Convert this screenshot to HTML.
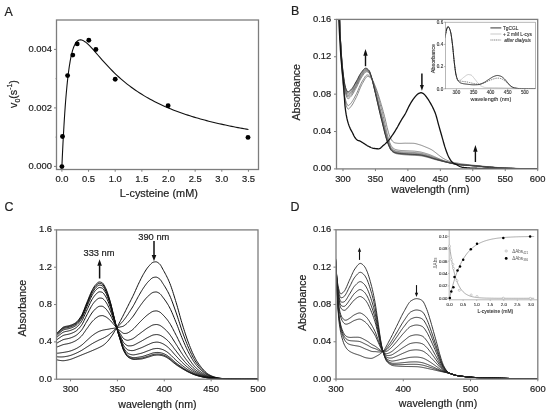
<!DOCTYPE html>
<html><head><meta charset="utf-8"><style>
html,body{margin:0;padding:0;background:#fff;}
body{width:550px;height:415px;overflow:hidden;}
svg{display:block;font-family:"Liberation Sans", sans-serif;filter:blur(0.3px);}
svg{fill:#222;}
svg text.m{stroke:#222;stroke-width:0.2;}
svg text.s{stroke:#333;stroke-width:0.12;}
</style></head><body>
<svg width="550" height="415" viewBox="0 0 550 415">
<rect width="550" height="415" fill="#fff"/>
<g>
<text class="m" x="4.5" y="16.4" font-size="12.4" text-anchor="start">A</text>
<rect x="56.5" y="20" width="202" height="149.5" fill="none" stroke="#7d7d7d" stroke-width="1.3"/>
<line x1="61.9" y1="169.5" x2="61.9" y2="171.7" stroke="#7d7d7d" stroke-width="1"/>
<text class="m" x="61.9" y="182.1" font-size="9.4" text-anchor="middle">0.0</text>
<line x1="88.55" y1="169.5" x2="88.55" y2="171.7" stroke="#7d7d7d" stroke-width="1"/>
<text class="m" x="88.55" y="182.1" font-size="9.4" text-anchor="middle">0.5</text>
<line x1="115.2" y1="169.5" x2="115.2" y2="171.7" stroke="#7d7d7d" stroke-width="1"/>
<text class="m" x="115.2" y="182.1" font-size="9.4" text-anchor="middle">1.0</text>
<line x1="141.85" y1="169.5" x2="141.85" y2="171.7" stroke="#7d7d7d" stroke-width="1"/>
<text class="m" x="141.85" y="182.1" font-size="9.4" text-anchor="middle">1.5</text>
<line x1="168.5" y1="169.5" x2="168.5" y2="171.7" stroke="#7d7d7d" stroke-width="1"/>
<text class="m" x="168.5" y="182.1" font-size="9.4" text-anchor="middle">2.0</text>
<line x1="195.15" y1="169.5" x2="195.15" y2="171.7" stroke="#7d7d7d" stroke-width="1"/>
<text class="m" x="195.15" y="182.1" font-size="9.4" text-anchor="middle">2.5</text>
<line x1="221.8" y1="169.5" x2="221.8" y2="171.7" stroke="#7d7d7d" stroke-width="1"/>
<text class="m" x="221.8" y="182.1" font-size="9.4" text-anchor="middle">3.0</text>
<line x1="248.45" y1="169.5" x2="248.45" y2="171.7" stroke="#7d7d7d" stroke-width="1"/>
<text class="m" x="248.45" y="182.1" font-size="9.4" text-anchor="middle">3.5</text>
<line x1="54" y1="166.4" x2="56.5" y2="166.4" stroke="#7d7d7d" stroke-width="1"/>
<text class="m" x="52" y="169.3" font-size="9.4" text-anchor="end">0.000</text>
<line x1="54" y1="107.9" x2="56.5" y2="107.9" stroke="#7d7d7d" stroke-width="1"/>
<text class="m" x="52" y="110.8" font-size="9.4" text-anchor="end">0.002</text>
<line x1="54" y1="49.4" x2="56.5" y2="49.4" stroke="#7d7d7d" stroke-width="1"/>
<text class="m" x="52" y="52.3" font-size="9.4" text-anchor="end">0.004</text>
<line x1="55.5" y1="137.15" x2="56.5" y2="137.15" stroke="#7d7d7d" stroke-width="0.8"/>
<line x1="55.5" y1="78.65" x2="56.5" y2="78.65" stroke="#7d7d7d" stroke-width="0.8"/>
<text class="m" x="158.8" y="197" font-size="10.9" text-anchor="middle">L-cysteine (mM)</text>
<text class="m" x="17.2" y="94" font-size="10.6" text-anchor="middle" transform="rotate(-90 17.2 94)">v<tspan font-size="7" dy="3.2">0</tspan><tspan dy="-3.2">(s</tspan><tspan font-size="7" dy="-4.8">-1</tspan><tspan dy="4.8">)</tspan></text>
<polyline points="61.9,166.4 62.26,158.28 62.62,150.59 62.98,143.31 63.35,136.44 63.71,129.94 64.07,123.8 64.43,118.01 64.79,112.55 65.15,107.41 65.51,102.56 65.87,98 66.24,93.72 66.6,89.69 66.96,85.9 67.32,82.35 67.68,79.01 68.04,75.89 68.4,72.96 68.77,70.22 69.13,67.66 69.49,65.27 69.85,63.04 70.21,60.95 70.57,59.01 70.93,57.21 71.3,55.53 71.66,53.97 72.02,52.52 72.38,51.19 72.74,49.95 73.1,48.81 73.46,47.77 73.82,46.8 74.19,45.92 74.55,45.12 74.91,44.39 75.27,43.73 75.63,43.13 75.99,42.59 76.35,42.12 76.72,41.69 77.08,41.32 77.44,41 77.8,40.72 78.16,40.49 78.52,40.29 78.88,40.14 79.25,40.02 79.61,39.94 79.97,39.89 80.33,39.87 80.69,39.88 81.05,39.91 81.41,39.97 81.77,40.06 82.14,40.17 82.5,40.3 82.86,40.45 83.22,40.62 85.31,41.93 87.4,43.65 89.49,45.67 91.59,47.88 93.68,50.2 95.77,52.59 97.86,55.01 99.95,57.42 102.04,59.81 104.14,62.16 106.23,64.46 108.32,66.7 110.41,68.89 112.5,71.01 114.59,73.06 116.68,75.05 118.78,76.98 120.87,78.84 122.96,80.64 125.05,82.38 127.14,84.06 129.23,85.68 131.32,87.25 133.42,88.77 135.51,90.23 137.6,91.65 139.69,93.02 141.78,94.34 143.87,95.62 145.97,96.86 148.06,98.06 150.15,99.22 152.24,100.35 154.33,101.44 156.42,102.49 158.51,103.52 160.61,104.51 162.7,105.48 164.79,106.41 166.88,107.32 168.97,108.2 171.06,109.06 173.16,109.9 175.25,110.71 177.34,111.5 179.43,112.26 181.52,113.01 183.61,113.74 185.7,114.45 187.8,115.14 189.89,115.81 191.98,116.46 194.07,117.1 196.16,117.73 198.25,118.33 200.35,118.93 202.44,119.51 204.53,120.07 206.62,120.62 208.71,121.16 210.8,121.69 212.89,122.21 214.99,122.71 217.08,123.2 219.17,123.69 221.26,124.16 223.35,124.62 225.44,125.07 227.53,125.51 229.63,125.94 231.72,126.37 233.81,126.78 235.9,127.19 237.99,127.59 240.08,127.98 242.18,128.36 244.27,128.74 246.36,129.11 248.45,129.47" fill="none" stroke="#111" stroke-width="1.1" stroke-linejoin="round"/>
<circle cx="61.9" cy="166.6" r="2.45" fill="#000"/>
<circle cx="62.5" cy="136.5" r="2.45" fill="#000"/>
<circle cx="67.6" cy="75.6" r="2.45" fill="#000"/>
<circle cx="72.8" cy="55.1" r="2.45" fill="#000"/>
<circle cx="77.2" cy="43.9" r="2.45" fill="#000"/>
<circle cx="88.8" cy="40.2" r="2.45" fill="#000"/>
<circle cx="95.9" cy="49.5" r="2.45" fill="#000"/>
<circle cx="115.2" cy="79.2" r="2.45" fill="#000"/>
<circle cx="168.1" cy="105.7" r="2.45" fill="#000"/>
<circle cx="248" cy="137.4" r="2.45" fill="#000"/>
</g>
<text class="m" x="291.1" y="15.2" font-size="12.4" text-anchor="start">B</text>
<line x1="342.99" y1="168.9" x2="342.99" y2="171.1" stroke="#7d7d7d" stroke-width="1"/>
<text class="m" x="342.99" y="181.5" font-size="9.4" text-anchor="middle">300</text>
<line x1="375.44" y1="168.9" x2="375.44" y2="171.1" stroke="#7d7d7d" stroke-width="1"/>
<text class="m" x="375.44" y="181.5" font-size="9.4" text-anchor="middle">350</text>
<line x1="407.89" y1="168.9" x2="407.89" y2="171.1" stroke="#7d7d7d" stroke-width="1"/>
<text class="m" x="407.89" y="181.5" font-size="9.4" text-anchor="middle">400</text>
<line x1="440.34" y1="168.9" x2="440.34" y2="171.1" stroke="#7d7d7d" stroke-width="1"/>
<text class="m" x="440.34" y="181.5" font-size="9.4" text-anchor="middle">450</text>
<line x1="472.79" y1="168.9" x2="472.79" y2="171.1" stroke="#7d7d7d" stroke-width="1"/>
<text class="m" x="472.79" y="181.5" font-size="9.4" text-anchor="middle">500</text>
<line x1="505.24" y1="168.9" x2="505.24" y2="171.1" stroke="#7d7d7d" stroke-width="1"/>
<text class="m" x="505.24" y="181.5" font-size="9.4" text-anchor="middle">550</text>
<line x1="537.69" y1="168.9" x2="537.69" y2="171.1" stroke="#7d7d7d" stroke-width="1"/>
<text class="m" x="537.69" y="181.5" font-size="9.4" text-anchor="middle">600</text>
<line x1="334" y1="168.9" x2="336.5" y2="168.9" stroke="#7d7d7d" stroke-width="1"/>
<text class="m" x="331.3" y="171.4" font-size="9.4" text-anchor="end">0.00</text>
<line x1="334" y1="131.52" x2="336.5" y2="131.52" stroke="#7d7d7d" stroke-width="1"/>
<text class="m" x="331.3" y="134.02" font-size="9.4" text-anchor="end">0.04</text>
<line x1="334" y1="94.15" x2="336.5" y2="94.15" stroke="#7d7d7d" stroke-width="1"/>
<text class="m" x="331.3" y="96.65" font-size="9.4" text-anchor="end">0.08</text>
<line x1="334" y1="56.77" x2="336.5" y2="56.77" stroke="#7d7d7d" stroke-width="1"/>
<text class="m" x="331.3" y="59.27" font-size="9.4" text-anchor="end">0.12</text>
<line x1="334" y1="19.4" x2="336.5" y2="19.4" stroke="#7d7d7d" stroke-width="1"/>
<text class="m" x="331.3" y="21.9" font-size="9.4" text-anchor="end">0.16</text>
<text class="m" x="430.4" y="193" font-size="10.6" text-anchor="middle">wavelength (nm)</text>
<text class="m" x="300.4" y="92.3" font-size="10.6" text-anchor="middle" transform="rotate(-90 300.4 92.3)">Absorbance</text>
<defs><clipPath id="cb"><rect x="336.5" y="19.4" width="201.2" height="149.5"/></clipPath></defs>
<g clip-path="url(#cb)">
<polyline points="336.5,-111.42 337.15,-82.16 337.8,-47.45 338.45,-17.98 339.1,4.27 339.75,24.13 340.39,41.17 341.04,54.9 341.69,66.14 342.34,75.89 342.99,84.02 343.64,90.41 344.29,95.57 344.94,99.94 345.59,103.25 346.24,105.42 346.88,107.25 347.53,108.58 348.18,109.1 348.83,108.87 349.48,108.3 350.13,107.54 350.78,106.76 351.43,105.95 352.08,105.01 352.73,103.97 353.37,102.83 354.02,101.64 354.67,100.4 355.32,99.14 355.97,97.89 356.62,96.56 357.27,95.13 357.92,93.6 358.57,92.03 359.21,90.43 359.86,88.86 360.51,87.33 361.16,85.89 361.81,84.57 362.46,83.4 363.11,82.27 363.76,81.09 364.41,79.92 365.06,78.82 365.7,77.85 366.35,77.08 367,76.58 367.65,76.39 368.3,76.48 368.95,76.73 369.6,77.11 370.25,77.59 370.9,78.14 371.55,78.73 372.19,79.52 372.84,80.63 373.49,81.98 374.14,83.49 374.79,85.08 375.44,86.67 376.09,88.31 376.74,90.09 377.39,91.98 378.04,93.97 378.69,96.02 379.33,98.11 379.98,100.22 380.63,102.37 381.28,104.57 381.93,106.83 382.58,109.14 383.23,111.52 383.88,113.95 384.53,116.43 385.18,118.98 385.82,121.76 386.47,124.67 387.12,127.46 387.77,129.92 388.42,132.3 389.07,134.5 389.72,136.4 390.37,137.86 391.02,139.1 391.67,140.17 392.31,141.01 392.96,141.62 393.61,142.15 394.26,142.58 394.91,142.86 395.56,142.99 396.21,143.09 396.86,143.18 397.51,143.25 398.15,143.31 398.8,143.36 399.45,143.38 400.1,143.39 400.75,143.38 401.4,143.36 402.05,143.33 402.7,143.3 403.35,143.26 404,143.23 404.64,143.21 405.29,143.2 405.94,143.2 406.59,143.21 407.24,143.21 407.89,143.21 408.54,143.22 409.19,143.23 409.84,143.24 410.49,143.25 411.13,143.26 411.78,143.27 412.43,143.28 413.08,143.3 413.73,143.33 414.38,143.41 415.03,143.51 415.68,143.65 416.33,143.8 416.98,143.98 417.62,144.16 418.27,144.36 418.92,144.56 419.57,144.75 420.22,144.94 420.87,145.15 421.52,145.37 422.17,145.61 422.82,145.87 423.47,146.13 424.12,146.4 424.76,146.67 425.41,146.94 426.06,147.21 426.71,147.48 427.36,147.74 428.01,148.02 428.66,148.3 429.31,148.59 429.96,148.9 430.61,149.22 431.25,149.56 431.9,149.93 432.55,150.35 433.2,150.81 433.85,151.29 434.5,151.78 435.15,152.27 435.8,152.76 436.45,153.27 437.1,153.79 437.74,154.32 438.39,154.84 439.04,155.34 439.69,155.83 440.34,156.33 440.99,156.81 441.64,157.29 442.29,157.74 442.94,158.15 443.59,158.54 444.23,158.91 444.88,159.26 445.53,159.59 446.18,159.91 446.83,160.21 447.48,160.51 448.13,160.81 448.78,161.09 449.43,161.36 450.07,161.6 450.72,161.8 451.37,161.97 452.02,162.12 452.67,162.25 453.32,162.38 453.97,162.5 454.62,162.61 455.27,162.73 455.92,162.85 456.56,162.97 457.21,163.09 457.86,163.21 458.51,163.32 459.16,163.43 459.81,163.54 460.46,163.65 461.11,163.75 461.76,163.85 462.41,163.95 463.06,164.04 463.7,164.13 464.35,164.21 465,164.3 465.65,164.38 466.3,164.45 466.95,164.53 467.6,164.6 468.25,164.67 468.9,164.75 469.55,164.82 470.19,164.89 470.84,164.95 471.49,165.02 472.14,165.09 472.79,165.16 473.44,165.23 474.09,165.3 474.74,165.37 475.39,165.44 476.03,165.51 476.68,165.58 477.33,165.65 477.98,165.71 478.63,165.78 479.28,165.85 479.93,165.91 480.58,165.98 481.23,166.04 481.88,166.11 482.52,166.17 483.17,166.23 483.82,166.29 484.47,166.35 485.12,166.41 485.77,166.47 486.42,166.53 487.07,166.59 487.72,166.64 488.37,166.7 489.01,166.76 489.66,166.82 490.31,166.87 490.96,166.93 491.61,166.99 492.26,167.04 492.91,167.1 493.56,167.16 494.21,167.21 494.86,167.27 495.5,167.32 496.15,167.37 496.8,167.42 497.45,167.47 498.1,167.52 498.75,167.57 499.4,167.62 500.05,167.66 500.7,167.71 501.35,167.75 502,167.79 502.64,167.83 503.29,167.87 503.94,167.9 504.59,167.93 505.24,167.97 505.89,168 506.54,168.02 507.19,168.05 507.84,168.08 508.49,168.11 509.13,168.13 509.78,168.16 510.43,168.18 511.08,168.21 511.73,168.23 512.38,168.26 513.03,168.28 513.68,168.3 514.33,168.32 514.98,168.34 515.62,168.36 516.27,168.38 516.92,168.4 517.57,168.42 518.22,168.44 518.87,168.46 519.52,168.48 520.17,168.5 520.82,168.52 521.47,168.53 522.11,168.55 522.76,168.57 523.41,168.59 524.06,168.6 524.71,168.62 525.36,168.64 526.01,168.65 526.66,168.67 527.31,168.68 527.96,168.7 528.6,168.72 529.25,168.73 529.9,168.75 530.55,168.76 531.2,168.77 531.85,168.79 532.5,168.8 533.15,168.82 533.8,168.83 534.44,168.84 535.09,168.85 535.74,168.87 536.39,168.88 537.04,168.89 537.69,168.9" fill="none" stroke="#6a6a6a" stroke-width="0.8" stroke-linejoin="round"/>
<polyline points="336.5,-111.42 337.15,-82.16 337.8,-47.45 338.45,-17.98 339.1,4.28 339.75,24 340.39,40.55 341.04,53.72 341.69,64.53 342.34,73.84 342.99,81.56 343.64,87.71 344.29,92.75 344.94,96.97 345.59,100.12 346.24,102.21 346.88,103.96 347.53,105.2 348.18,105.63 348.83,105.4 349.48,104.85 350.13,104.14 350.78,103.4 351.43,102.62 352.08,101.7 352.73,100.68 353.37,99.56 354.02,98.39 354.67,97.17 355.32,95.93 355.97,94.71 356.62,93.42 357.27,92.03 357.92,90.55 358.57,89.03 359.21,87.51 359.86,86.01 360.51,84.58 361.16,83.24 361.81,82.02 362.46,80.9 363.11,79.83 363.76,78.73 364.41,77.67 365.06,76.71 365.7,75.91 366.35,75.32 367,74.97 367.65,74.92 368.3,75.11 368.95,75.44 369.6,75.96 370.25,76.68 370.9,77.54 371.55,78.44 372.19,79.55 372.84,80.97 373.49,82.63 374.14,84.43 374.79,86.28 375.44,88.15 376.09,90.08 376.74,92.12 377.39,94.27 378.04,96.5 378.69,98.8 379.33,101.16 379.98,103.54 380.63,105.95 381.28,108.42 381.93,110.96 382.58,113.58 383.23,116.29 383.88,119.1 384.53,121.96 385.18,124.82 385.82,127.76 386.47,130.74 387.12,133.55 387.77,136.06 388.42,138.38 389.07,140.54 389.72,142.47 390.37,144.06 391.02,145.38 391.67,146.39 392.31,147.22 392.96,147.88 393.61,148.44 394.26,148.9 394.91,149.24 395.56,149.48 396.21,149.69 396.86,149.87 397.51,150.02 398.15,150.14 398.8,150.25 399.45,150.33 400.1,150.4 400.75,150.46 401.4,150.51 402.05,150.55 402.7,150.59 403.35,150.62 404,150.65 404.64,150.68 405.29,150.71 405.94,150.75 406.59,150.78 407.24,150.82 407.89,150.85 408.54,150.89 409.19,150.92 409.84,150.95 410.49,150.98 411.13,151.01 411.78,151.03 412.43,151.06 413.08,151.09 413.73,151.12 414.38,151.17 415.03,151.23 415.68,151.3 416.33,151.37 416.98,151.46 417.62,151.55 418.27,151.64 418.92,151.74 419.57,151.84 420.22,151.95 420.87,152.08 421.52,152.23 422.17,152.39 422.82,152.56 423.47,152.74 424.12,152.93 424.76,153.12 425.41,153.32 426.06,153.52 426.71,153.72 427.36,153.92 428.01,154.12 428.66,154.34 429.31,154.57 429.96,154.81 430.61,155.06 431.25,155.31 431.9,155.58 432.55,155.85 433.2,156.14 433.85,156.42 434.5,156.71 435.15,156.99 435.8,157.27 436.45,157.56 437.1,157.84 437.74,158.13 438.39,158.42 439.04,158.69 439.69,158.97 440.34,159.24 440.99,159.51 441.64,159.78 442.29,160.03 442.94,160.28 443.59,160.51 444.23,160.74 444.88,160.96 445.53,161.17 446.18,161.38 446.83,161.58 447.48,161.79 448.13,161.99 448.78,162.18 449.43,162.37 450.07,162.56 450.72,162.72 451.37,162.88 452.02,163.02 452.67,163.15 453.32,163.28 453.97,163.4 454.62,163.52 455.27,163.64 455.92,163.75 456.56,163.86 457.21,163.97 457.86,164.07 458.51,164.17 459.16,164.26 459.81,164.35 460.46,164.43 461.11,164.51 461.76,164.58 462.41,164.65 463.06,164.72 463.7,164.78 464.35,164.84 465,164.9 465.65,164.96 466.3,165.01 466.95,165.07 467.6,165.12 468.25,165.17 468.9,165.23 469.55,165.28 470.19,165.33 470.84,165.39 471.49,165.44 472.14,165.5 472.79,165.55 473.44,165.61 474.09,165.67 474.74,165.73 475.39,165.79 476.03,165.85 476.68,165.92 477.33,165.98 477.98,166.04 478.63,166.1 479.28,166.16 479.93,166.22 480.58,166.28 481.23,166.34 481.88,166.4 482.52,166.46 483.17,166.51 483.82,166.57 484.47,166.63 485.12,166.68 485.77,166.73 486.42,166.78 487.07,166.84 487.72,166.89 488.37,166.94 489.01,166.99 489.66,167.05 490.31,167.1 490.96,167.15 491.61,167.2 492.26,167.25 492.91,167.31 493.56,167.36 494.21,167.41 494.86,167.46 495.5,167.51 496.15,167.55 496.8,167.6 497.45,167.65 498.1,167.69 498.75,167.74 499.4,167.78 500.05,167.82 500.7,167.86 501.35,167.9 502,167.94 502.64,167.97 503.29,168.01 503.94,168.04 504.59,168.07 505.24,168.1 505.89,168.12 506.54,168.15 507.19,168.18 507.84,168.2 508.49,168.23 509.13,168.25 509.78,168.27 510.43,168.3 511.08,168.32 511.73,168.34 512.38,168.36 513.03,168.38 513.68,168.4 514.33,168.42 514.98,168.44 515.62,168.46 516.27,168.48 516.92,168.5 517.57,168.52 518.22,168.53 518.87,168.55 519.52,168.57 520.17,168.58 520.82,168.6 521.47,168.61 522.11,168.63 522.76,168.64 523.41,168.66 524.06,168.67 524.71,168.69 525.36,168.7 526.01,168.71 526.66,168.72 527.31,168.74 527.96,168.75 528.6,168.76 529.25,168.77 529.9,168.79 530.55,168.8 531.2,168.81 531.85,168.82 532.5,168.83 533.15,168.84 533.8,168.85 534.44,168.86 535.09,168.87 535.74,168.88 536.39,168.88 537.04,168.89 537.69,168.9" fill="none" stroke="#6a6a6a" stroke-width="0.8" stroke-linejoin="round"/>
<polyline points="336.5,-111.42 337.15,-82.17 337.8,-47.47 338.45,-17.98 339.1,4.29 339.75,23.75 340.39,39.32 341.04,51.35 341.69,61.32 342.34,69.74 342.99,76.64 343.64,82.3 344.29,87.1 344.94,91.04 345.59,93.86 346.24,95.79 346.88,97.39 347.53,98.45 348.18,98.7 348.83,98.46 349.48,97.96 350.13,97.33 350.78,96.67 351.43,95.95 352.08,95.09 352.73,94.1 353.37,93.02 354.02,91.88 354.67,90.7 355.32,89.52 355.97,88.35 356.62,87.15 357.27,85.83 357.92,84.46 358.57,83.06 359.21,81.67 359.86,80.33 360.51,79.07 361.16,77.95 361.81,76.91 362.46,75.92 363.11,74.96 363.76,74.03 364.41,73.2 365.06,72.52 365.7,72.04 366.35,71.8 367,71.78 367.65,71.99 368.3,72.38 368.95,72.88 369.6,73.69 370.25,74.9 370.9,76.36 371.55,77.89 372.19,79.6 372.84,81.63 373.49,83.87 374.14,86.2 374.79,88.52 375.44,90.87 376.09,93.26 376.74,95.72 377.39,98.21 378.04,100.75 378.69,103.33 379.33,105.91 379.98,108.47 380.63,111.01 381.28,113.55 381.93,116.11 382.58,118.7 383.23,121.36 383.88,124.1 384.53,126.83 385.18,129.48 385.82,132.08 386.47,134.64 387.12,137.06 387.77,139.23 388.42,141.21 389.07,143.08 389.72,144.77 390.37,146.2 391.02,147.36 391.67,148.21 392.31,148.9 392.96,149.47 393.61,149.95 394.26,150.34 394.91,150.63 395.56,150.84 396.21,151.03 396.86,151.18 397.51,151.32 398.15,151.43 398.8,151.52 399.45,151.6 400.1,151.67 400.75,151.73 401.4,151.78 402.05,151.83 402.7,151.87 403.35,151.91 404,151.94 404.64,151.98 405.29,152.01 405.94,152.05 406.59,152.09 407.24,152.13 407.89,152.17 408.54,152.21 409.19,152.24 409.84,152.28 410.49,152.31 411.13,152.34 411.78,152.37 412.43,152.4 413.08,152.43 413.73,152.46 414.38,152.5 415.03,152.55 415.68,152.61 416.33,152.67 416.98,152.74 417.62,152.81 418.27,152.89 418.92,152.97 419.57,153.06 420.22,153.16 420.87,153.27 421.52,153.4 422.17,153.55 422.82,153.71 423.47,153.87 424.12,154.05 424.76,154.23 425.41,154.42 426.06,154.6 426.71,154.79 427.36,154.98 428.01,155.17 428.66,155.38 429.31,155.6 429.96,155.82 430.61,156.06 431.25,156.3 431.9,156.54 432.55,156.8 433.2,157.05 433.85,157.3 434.5,157.55 435.15,157.8 435.8,158.04 436.45,158.29 437.1,158.54 437.74,158.78 438.39,159.03 439.04,159.27 439.69,159.51 440.34,159.74 440.99,159.97 441.64,160.2 442.29,160.42 442.94,160.64 443.59,160.85 444.23,161.05 444.88,161.25 445.53,161.44 446.18,161.63 446.83,161.82 447.48,162 448.13,162.19 448.78,162.37 449.43,162.55 450.07,162.72 450.72,162.88 451.37,163.03 452.02,163.17 452.67,163.31 453.32,163.44 453.97,163.56 454.62,163.67 455.27,163.79 455.92,163.91 456.56,164.02 457.21,164.12 457.86,164.22 458.51,164.32 459.16,164.41 459.81,164.49 460.46,164.56 461.11,164.64 461.76,164.7 462.41,164.77 463.06,164.83 463.7,164.89 464.35,164.95 465,165 465.65,165.06 466.3,165.11 466.95,165.16 467.6,165.21 468.25,165.26 468.9,165.31 469.55,165.36 470.19,165.41 470.84,165.46 471.49,165.51 472.14,165.57 472.79,165.62 473.44,165.68 474.09,165.74 474.74,165.8 475.39,165.85 476.03,165.91 476.68,165.97 477.33,166.03 477.98,166.09 478.63,166.15 479.28,166.21 479.93,166.27 480.58,166.33 481.23,166.39 481.88,166.45 482.52,166.51 483.17,166.56 483.82,166.62 484.47,166.67 485.12,166.73 485.77,166.78 486.42,166.83 487.07,166.88 487.72,166.93 488.37,166.98 489.01,167.03 489.66,167.09 490.31,167.14 490.96,167.19 491.61,167.24 492.26,167.29 492.91,167.34 493.56,167.39 494.21,167.44 494.86,167.49 495.5,167.54 496.15,167.58 496.8,167.63 497.45,167.68 498.1,167.72 498.75,167.76 499.4,167.81 500.05,167.85 500.7,167.89 501.35,167.92 502,167.96 502.64,168 503.29,168.03 503.94,168.06 504.59,168.09 505.24,168.12 505.89,168.15 506.54,168.17 507.19,168.2 507.84,168.22 508.49,168.25 509.13,168.27 509.78,168.29 510.43,168.32 511.08,168.34 511.73,168.36 512.38,168.38 513.03,168.4 513.68,168.42 514.33,168.44 514.98,168.46 515.62,168.48 516.27,168.5 516.92,168.51 517.57,168.53 518.22,168.55 518.87,168.57 519.52,168.58 520.17,168.6 520.82,168.61 521.47,168.63 522.11,168.64 522.76,168.66 523.41,168.67 524.06,168.68 524.71,168.7 525.36,168.71 526.01,168.72 526.66,168.73 527.31,168.75 527.96,168.76 528.6,168.77 529.25,168.78 529.9,168.79 530.55,168.8 531.2,168.81 531.85,168.82 532.5,168.83 533.15,168.84 533.8,168.85 534.44,168.86 535.09,168.87 535.74,168.88 536.39,168.89 537.04,168.89 537.69,168.9" fill="none" stroke="#6a6a6a" stroke-width="0.8" stroke-linejoin="round"/>
<polyline points="336.5,-111.42 337.15,-82.17 337.8,-47.47 338.45,-17.98 339.1,4.3 339.75,23.68 340.39,39.01 341.04,50.75 341.69,60.52 342.34,68.72 342.99,75.41 343.64,80.95 344.29,85.69 344.94,89.56 345.59,92.3 346.24,94.19 346.88,95.75 347.53,96.76 348.18,96.97 348.83,96.72 349.48,96.24 350.13,95.63 350.78,94.99 351.43,94.29 352.08,93.43 352.73,92.46 353.37,91.39 354.02,90.25 354.67,89.09 355.32,87.91 355.97,86.77 356.62,85.58 357.27,84.29 357.92,82.94 358.57,81.56 359.21,80.2 359.86,78.9 360.51,77.7 361.16,76.63 361.81,75.63 362.46,74.67 363.11,73.74 363.76,72.86 364.41,72.08 365.06,71.47 365.7,71.07 366.35,70.92 367,70.98 367.65,71.25 368.3,71.69 368.95,72.24 369.6,73.12 370.25,74.46 370.9,76.06 371.55,77.75 372.19,79.61 372.84,81.79 373.49,84.18 374.14,86.65 374.79,89.09 375.44,91.56 376.09,94.07 376.74,96.64 377.39,99.23 378.04,101.85 378.69,104.5 379.33,107.15 379.98,109.77 380.63,112.36 381.28,114.93 381.93,117.52 382.58,120.13 383.23,122.8 383.88,125.55 384.53,128.29 385.18,130.92 385.82,133.45 386.47,135.94 387.12,138.28 387.77,140.38 388.42,142.28 389.07,144.08 389.72,145.73 390.37,147.14 391.02,148.27 391.67,149.08 392.31,149.74 392.96,150.29 393.61,150.76 394.26,151.13 394.91,151.42 395.56,151.64 396.21,151.82 396.86,151.98 397.51,152.12 398.15,152.24 398.8,152.33 399.45,152.41 400.1,152.49 400.75,152.55 401.4,152.61 402.05,152.66 402.7,152.71 403.35,152.75 404,152.8 404.64,152.84 405.29,152.88 405.94,152.92 406.59,152.96 407.24,153 407.89,153.04 408.54,153.08 409.19,153.12 409.84,153.16 410.49,153.19 411.13,153.22 411.78,153.26 412.43,153.29 413.08,153.32 413.73,153.35 414.38,153.39 415.03,153.43 415.68,153.48 416.33,153.53 416.98,153.59 417.62,153.65 418.27,153.72 418.92,153.79 419.57,153.87 420.22,153.96 420.87,154.06 421.52,154.19 422.17,154.32 422.82,154.47 423.47,154.63 424.12,154.8 424.76,154.97 425.41,155.15 426.06,155.33 426.71,155.5 427.36,155.68 428.01,155.87 428.66,156.07 429.31,156.28 429.96,156.5 430.61,156.72 431.25,156.96 431.9,157.19 432.55,157.42 433.2,157.66 433.85,157.89 434.5,158.11 435.15,158.34 435.8,158.56 436.45,158.78 437.1,159 437.74,159.22 438.39,159.44 439.04,159.65 439.69,159.86 440.34,160.07 440.99,160.28 441.64,160.49 442.29,160.69 442.94,160.88 443.59,161.07 444.23,161.26 444.88,161.44 445.53,161.63 446.18,161.8 446.83,161.98 447.48,162.15 448.13,162.32 448.78,162.5 449.43,162.66 450.07,162.83 450.72,162.99 451.37,163.14 452.02,163.28 452.67,163.41 453.32,163.54 453.97,163.66 454.62,163.78 455.27,163.89 455.92,164.01 456.56,164.12 457.21,164.22 457.86,164.32 458.51,164.41 459.16,164.5 459.81,164.58 460.46,164.65 461.11,164.72 461.76,164.79 462.41,164.85 463.06,164.91 463.7,164.97 464.35,165.02 465,165.07 465.65,165.12 466.3,165.17 466.95,165.22 467.6,165.27 468.25,165.32 468.9,165.36 469.55,165.41 470.19,165.46 470.84,165.51 471.49,165.56 472.14,165.61 472.79,165.67 473.44,165.72 474.09,165.78 474.74,165.84 475.39,165.89 476.03,165.95 476.68,166.01 477.33,166.07 477.98,166.13 478.63,166.19 479.28,166.25 479.93,166.31 480.58,166.37 481.23,166.43 481.88,166.48 482.52,166.54 483.17,166.6 483.82,166.65 484.47,166.7 485.12,166.76 485.77,166.81 486.42,166.86 487.07,166.91 487.72,166.96 488.37,167.01 489.01,167.06 489.66,167.11 490.31,167.16 490.96,167.21 491.61,167.26 492.26,167.32 492.91,167.37 493.56,167.41 494.21,167.46 494.86,167.51 495.5,167.56 496.15,167.61 496.8,167.65 497.45,167.7 498.1,167.74 498.75,167.78 499.4,167.82 500.05,167.87 500.7,167.9 501.35,167.94 502,167.98 502.64,168.01 503.29,168.05 503.94,168.08 504.59,168.11 505.24,168.13 505.89,168.16 506.54,168.19 507.19,168.21 507.84,168.24 508.49,168.26 509.13,168.28 509.78,168.31 510.43,168.33 511.08,168.35 511.73,168.37 512.38,168.39 513.03,168.41 513.68,168.43 514.33,168.45 514.98,168.47 515.62,168.49 516.27,168.51 516.92,168.53 517.57,168.54 518.22,168.56 518.87,168.58 519.52,168.59 520.17,168.61 520.82,168.62 521.47,168.64 522.11,168.65 522.76,168.66 523.41,168.68 524.06,168.69 524.71,168.7 525.36,168.72 526.01,168.73 526.66,168.74 527.31,168.75 527.96,168.76 528.6,168.78 529.25,168.79 529.9,168.8 530.55,168.81 531.2,168.82 531.85,168.83 532.5,168.84 533.15,168.85 533.8,168.86 534.44,168.86 535.09,168.87 535.74,168.88 536.39,168.89 537.04,168.89 537.69,168.9" fill="none" stroke="#6a6a6a" stroke-width="0.8" stroke-linejoin="round"/>
<polyline points="336.5,-111.42 337.15,-82.17 337.8,-47.47 338.45,-17.98 339.1,4.3 339.75,23.63 340.39,38.76 341.04,50.28 341.69,59.88 342.34,67.9 342.99,74.43 343.64,79.87 344.29,84.56 344.94,88.37 345.59,91.05 346.24,92.9 346.88,94.44 347.53,95.41 348.18,95.59 348.83,95.33 349.48,94.86 350.13,94.27 350.78,93.64 351.43,92.95 352.08,92.11 352.73,91.14 353.37,90.08 354.02,88.95 354.67,87.79 355.32,86.63 355.97,85.5 356.62,84.32 357.27,83.05 357.92,81.72 358.57,80.37 359.21,79.04 359.86,77.77 360.51,76.6 361.16,75.57 361.81,74.61 362.46,73.67 363.11,72.77 363.76,71.92 364.41,71.19 365.06,70.63 365.7,70.3 366.35,70.22 367,70.34 367.65,70.67 368.3,71.15 368.95,71.73 369.6,72.67 370.25,74.1 370.9,75.83 371.55,77.63 372.19,79.62 372.84,81.92 373.49,84.43 374.14,87.01 374.79,89.55 375.44,92.11 376.09,94.72 376.74,97.37 377.39,100.04 378.04,102.73 378.69,105.44 379.33,108.15 379.98,110.82 380.63,113.45 381.28,116.05 381.93,118.66 382.58,121.29 383.23,123.98 383.88,126.74 384.53,129.48 385.18,132.11 385.82,134.59 386.47,137.02 387.12,139.29 387.77,141.35 388.42,143.18 389.07,144.93 389.72,146.55 390.37,147.94 391.02,149.04 391.67,149.82 392.31,150.46 392.96,151 393.61,151.46 394.26,151.82 394.91,152.1 395.56,152.33 396.21,152.52 396.86,152.68 397.51,152.82 398.15,152.94 398.8,153.04 399.45,153.12 400.1,153.2 400.75,153.27 401.4,153.33 402.05,153.39 402.7,153.44 403.35,153.49 404,153.54 404.64,153.59 405.29,153.63 405.94,153.67 406.59,153.72 407.24,153.76 407.89,153.81 408.54,153.85 409.19,153.89 409.84,153.93 410.49,153.97 411.13,154 411.78,154.03 412.43,154.07 413.08,154.1 413.73,154.13 414.38,154.17 415.03,154.21 415.68,154.25 416.33,154.29 416.98,154.34 417.62,154.39 418.27,154.45 418.92,154.51 419.57,154.58 420.22,154.66 420.87,154.76 421.52,154.87 422.17,155 422.82,155.14 423.47,155.29 424.12,155.45 424.76,155.61 425.41,155.78 426.06,155.96 426.71,156.13 427.36,156.3 428.01,156.48 428.66,156.67 429.31,156.88 429.96,157.09 430.61,157.31 431.25,157.53 431.9,157.75 432.55,157.98 433.2,158.19 433.85,158.4 434.5,158.61 435.15,158.81 435.8,159.01 436.45,159.21 437.1,159.41 437.74,159.6 438.39,159.8 439.04,159.99 439.69,160.18 440.34,160.37 440.99,160.55 441.64,160.73 442.29,160.92 442.94,161.09 443.59,161.27 444.23,161.44 444.88,161.61 445.53,161.78 446.18,161.95 446.83,162.11 447.48,162.28 448.13,162.44 448.78,162.6 449.43,162.77 450.07,162.92 450.72,163.08 451.37,163.23 452.02,163.37 452.67,163.5 453.32,163.63 453.97,163.75 454.62,163.87 455.27,163.98 455.92,164.1 456.56,164.21 457.21,164.31 457.86,164.41 458.51,164.5 459.16,164.58 459.81,164.66 460.46,164.73 461.11,164.8 461.76,164.86 462.41,164.92 463.06,164.98 463.7,165.03 464.35,165.08 465,165.13 465.65,165.18 466.3,165.23 466.95,165.28 467.6,165.32 468.25,165.37 468.9,165.41 469.55,165.46 470.19,165.51 470.84,165.55 471.49,165.6 472.14,165.65 472.79,165.71 473.44,165.76 474.09,165.82 474.74,165.87 475.39,165.93 476.03,165.99 476.68,166.05 477.33,166.1 477.98,166.16 478.63,166.22 479.28,166.28 479.93,166.34 480.58,166.4 481.23,166.45 481.88,166.51 482.52,166.57 483.17,166.62 483.82,166.68 484.47,166.73 485.12,166.78 485.77,166.83 486.42,166.88 487.07,166.93 487.72,166.98 488.37,167.03 489.01,167.08 489.66,167.14 490.31,167.19 490.96,167.24 491.61,167.29 492.26,167.34 492.91,167.39 493.56,167.43 494.21,167.48 494.86,167.53 495.5,167.58 496.15,167.62 496.8,167.67 497.45,167.71 498.1,167.76 498.75,167.8 499.4,167.84 500.05,167.88 500.7,167.92 501.35,167.96 502,167.99 502.64,168.03 503.29,168.06 503.94,168.09 504.59,168.12 505.24,168.15 505.89,168.17 506.54,168.2 507.19,168.22 507.84,168.25 508.49,168.27 509.13,168.29 509.78,168.32 510.43,168.34 511.08,168.36 511.73,168.38 512.38,168.4 513.03,168.42 513.68,168.44 514.33,168.46 514.98,168.48 515.62,168.5 516.27,168.52 516.92,168.53 517.57,168.55 518.22,168.57 518.87,168.58 519.52,168.6 520.17,168.61 520.82,168.63 521.47,168.64 522.11,168.66 522.76,168.67 523.41,168.68 524.06,168.7 524.71,168.71 525.36,168.72 526.01,168.73 526.66,168.75 527.31,168.76 527.96,168.77 528.6,168.78 529.25,168.79 529.9,168.8 530.55,168.81 531.2,168.82 531.85,168.83 532.5,168.84 533.15,168.85 533.8,168.86 534.44,168.87 535.09,168.87 535.74,168.88 536.39,168.89 537.04,168.89 537.69,168.9" fill="none" stroke="#6a6a6a" stroke-width="0.8" stroke-linejoin="round"/>
<polyline points="336.5,-111.42 337.15,-82.17 337.8,-47.48 338.45,-17.98 339.1,4.31 339.75,23.58 340.39,38.52 341.04,49.8 341.69,59.24 342.34,67.08 342.99,73.44 343.64,78.79 344.29,83.43 344.94,87.19 345.59,89.8 346.24,91.62 346.88,93.13 347.53,94.06 348.18,94.2 348.83,93.95 349.48,93.48 350.13,92.9 350.78,92.3 351.43,91.62 352.08,90.79 352.73,89.83 353.37,88.77 354.02,87.65 354.67,86.5 355.32,85.35 355.97,84.22 356.62,83.06 357.27,81.81 357.92,80.5 358.57,79.17 359.21,77.87 359.86,76.63 360.51,75.5 361.16,74.51 361.81,73.59 362.46,72.67 363.11,71.79 363.76,70.98 364.41,70.29 365.06,69.79 365.7,69.52 366.35,69.51 367,69.7 367.65,70.08 368.3,70.6 368.95,71.21 369.6,72.21 370.25,73.74 370.9,75.59 371.55,77.52 372.19,79.63 372.84,82.06 373.49,84.68 374.14,87.36 374.79,90 375.44,92.66 376.09,95.37 376.74,98.11 377.39,100.84 378.04,103.6 378.69,106.38 379.33,109.14 379.98,111.86 380.63,114.52 381.28,117.15 381.93,119.77 382.58,122.41 383.23,125.12 383.88,127.89 384.53,130.63 385.18,133.24 385.82,135.67 386.47,138.03 387.12,140.24 387.77,142.24 388.42,144.01 389.07,145.71 389.72,147.28 390.37,148.66 391.02,149.74 391.67,150.49 392.31,151.1 392.96,151.63 393.61,152.07 394.26,152.43 394.91,152.7 395.56,152.92 396.21,153.12 396.86,153.28 397.51,153.42 398.15,153.54 398.8,153.64 399.45,153.73 400.1,153.81 400.75,153.89 401.4,153.95 402.05,154.02 402.7,154.08 403.35,154.13 404,154.18 404.64,154.23 405.29,154.28 405.94,154.32 406.59,154.37 407.24,154.41 407.89,154.46 408.54,154.51 409.19,154.55 409.84,154.59 410.49,154.63 411.13,154.66 411.78,154.7 412.43,154.73 413.08,154.77 413.73,154.8 414.38,154.83 415.03,154.87 415.68,154.9 416.33,154.94 416.98,154.98 417.62,155.03 418.27,155.07 418.92,155.13 419.57,155.19 420.22,155.26 420.87,155.35 421.52,155.46 422.17,155.58 422.82,155.71 423.47,155.86 424.12,156.01 424.76,156.17 425.41,156.33 426.06,156.5 426.71,156.66 427.36,156.83 428.01,157 428.66,157.19 429.31,157.39 429.96,157.6 430.61,157.81 431.25,158.02 431.9,158.24 432.55,158.45 433.2,158.65 433.85,158.84 434.5,159.03 435.15,159.21 435.8,159.39 436.45,159.57 437.1,159.75 437.74,159.93 438.39,160.1 439.04,160.28 439.69,160.45 440.34,160.62 440.99,160.78 441.64,160.95 442.29,161.11 442.94,161.28 443.59,161.44 444.23,161.6 444.88,161.76 445.53,161.92 446.18,162.08 446.83,162.23 447.48,162.39 448.13,162.54 448.78,162.7 449.43,162.85 450.07,163.01 450.72,163.16 451.37,163.3 452.02,163.45 452.67,163.58 453.32,163.71 453.97,163.83 454.62,163.95 455.27,164.06 455.92,164.17 456.56,164.28 457.21,164.39 457.86,164.48 458.51,164.57 459.16,164.66 459.81,164.73 460.46,164.8 461.11,164.86 461.76,164.92 462.41,164.98 463.06,165.03 463.7,165.09 464.35,165.14 465,165.18 465.65,165.23 466.3,165.28 466.95,165.32 467.6,165.37 468.25,165.41 468.9,165.45 469.55,165.5 470.19,165.54 470.84,165.59 471.49,165.64 472.14,165.69 472.79,165.74 473.44,165.79 474.09,165.85 474.74,165.9 475.39,165.96 476.03,166.02 476.68,166.08 477.33,166.13 477.98,166.19 478.63,166.25 479.28,166.31 479.93,166.37 480.58,166.42 481.23,166.48 481.88,166.54 482.52,166.59 483.17,166.65 483.82,166.7 484.47,166.75 485.12,166.81 485.77,166.86 486.42,166.9 487.07,166.95 487.72,167 488.37,167.05 489.01,167.1 489.66,167.16 490.31,167.21 490.96,167.26 491.61,167.3 492.26,167.35 492.91,167.4 493.56,167.45 494.21,167.5 494.86,167.55 495.5,167.59 496.15,167.64 496.8,167.68 497.45,167.73 498.1,167.77 498.75,167.81 499.4,167.85 500.05,167.89 500.7,167.93 501.35,167.97 502,168.01 502.64,168.04 503.29,168.07 503.94,168.1 504.59,168.13 505.24,168.16 505.89,168.18 506.54,168.21 507.19,168.23 507.84,168.26 508.49,168.28 509.13,168.3 509.78,168.33 510.43,168.35 511.08,168.37 511.73,168.39 512.38,168.41 513.03,168.43 513.68,168.45 514.33,168.47 514.98,168.49 515.62,168.51 516.27,168.53 516.92,168.54 517.57,168.56 518.22,168.58 518.87,168.59 519.52,168.61 520.17,168.62 520.82,168.64 521.47,168.65 522.11,168.66 522.76,168.68 523.41,168.69 524.06,168.7 524.71,168.72 525.36,168.73 526.01,168.74 526.66,168.75 527.31,168.76 527.96,168.77 528.6,168.78 529.25,168.79 529.9,168.8 530.55,168.81 531.2,168.82 531.85,168.83 532.5,168.84 533.15,168.85 533.8,168.86 534.44,168.87 535.09,168.87 535.74,168.88 536.39,168.89 537.04,168.89 537.69,168.9" fill="none" stroke="#6a6a6a" stroke-width="0.8" stroke-linejoin="round"/>
<polyline points="336.5,-111.42 337.15,-82.17 337.8,-47.48 338.45,-17.98 339.1,4.31 339.75,23.53 340.39,38.27 341.04,49.33 341.69,58.59 342.34,66.26 342.99,72.46 343.64,77.71 344.29,82.3 344.94,86 345.59,88.55 346.24,90.33 346.88,91.81 347.53,92.7 348.18,92.82 348.83,92.56 349.48,92.1 350.13,91.54 350.78,90.95 351.43,90.29 352.08,89.46 352.73,88.51 353.37,87.46 354.02,86.35 354.67,85.21 355.32,84.06 355.97,82.95 356.62,81.81 357.27,80.57 357.92,79.28 358.57,77.97 359.21,76.7 359.86,75.49 360.51,74.4 361.16,73.45 361.81,72.57 362.46,71.68 363.11,70.82 363.76,70.04 364.41,69.4 365.06,68.95 365.7,68.75 366.35,68.81 367,69.07 367.65,69.49 368.3,70.05 368.95,70.7 369.6,71.76 370.25,73.39 370.9,75.35 371.55,77.41 372.19,79.64 372.84,82.19 373.49,84.93 374.14,87.72 374.79,90.45 375.44,93.21 376.09,96.01 376.74,98.84 377.39,101.65 378.04,104.47 378.69,107.3 379.33,110.12 379.98,112.88 380.63,115.58 381.28,118.23 381.93,120.87 382.58,123.51 383.23,126.22 383.88,129 384.53,131.73 385.18,134.31 385.82,136.69 386.47,138.98 387.12,141.12 387.77,143.06 388.42,144.76 389.07,146.41 389.72,147.94 390.37,149.29 391.02,150.35 391.67,151.07 392.31,151.66 392.96,152.17 393.61,152.6 394.26,152.94 394.91,153.21 395.56,153.43 396.21,153.63 396.86,153.79 397.51,153.93 398.15,154.05 398.8,154.15 399.45,154.24 400.1,154.33 400.75,154.4 401.4,154.47 402.05,154.54 402.7,154.6 403.35,154.66 404,154.71 404.64,154.77 405.29,154.81 405.94,154.86 406.59,154.91 407.24,154.96 407.89,155.01 408.54,155.06 409.19,155.1 409.84,155.14 410.49,155.18 411.13,155.22 411.78,155.25 412.43,155.29 413.08,155.32 413.73,155.36 414.38,155.39 415.03,155.42 415.68,155.45 416.33,155.48 416.98,155.52 417.62,155.55 418.27,155.59 418.92,155.64 419.57,155.69 420.22,155.76 420.87,155.85 421.52,155.95 422.17,156.06 422.82,156.19 423.47,156.33 424.12,156.48 424.76,156.63 425.41,156.79 426.06,156.95 426.71,157.11 427.36,157.27 428.01,157.44 428.66,157.62 429.31,157.82 429.96,158.02 430.61,158.23 431.25,158.43 431.9,158.64 432.55,158.84 433.2,159.03 433.85,159.21 434.5,159.38 435.15,159.55 435.8,159.72 436.45,159.88 437.1,160.04 437.74,160.2 438.39,160.36 439.04,160.52 439.69,160.67 440.34,160.82 440.99,160.97 441.64,161.13 442.29,161.28 442.94,161.43 443.59,161.58 444.23,161.73 444.88,161.88 445.53,162.03 446.18,162.18 446.83,162.33 447.48,162.48 448.13,162.63 448.78,162.78 449.43,162.93 450.07,163.07 450.72,163.22 451.37,163.37 452.02,163.51 452.67,163.64 453.32,163.77 453.97,163.89 454.62,164.01 455.27,164.13 455.92,164.24 456.56,164.35 457.21,164.45 457.86,164.54 458.51,164.63 459.16,164.71 459.81,164.79 460.46,164.85 461.11,164.92 461.76,164.97 462.41,165.03 463.06,165.08 463.7,165.13 464.35,165.18 465,165.23 465.65,165.27 466.3,165.32 466.95,165.36 467.6,165.4 468.25,165.45 468.9,165.49 469.55,165.53 470.19,165.58 470.84,165.62 471.49,165.67 472.14,165.72 472.79,165.77 473.44,165.82 474.09,165.87 474.74,165.93 475.39,165.99 476.03,166.04 476.68,166.1 477.33,166.16 477.98,166.21 478.63,166.27 479.28,166.33 479.93,166.39 480.58,166.44 481.23,166.5 481.88,166.56 482.52,166.61 483.17,166.67 483.82,166.72 484.47,166.77 485.12,166.82 485.77,166.87 486.42,166.92 487.07,166.97 487.72,167.02 488.37,167.07 489.01,167.12 489.66,167.17 490.31,167.22 490.96,167.27 491.61,167.32 492.26,167.37 492.91,167.42 493.56,167.47 494.21,167.51 494.86,167.56 495.5,167.61 496.15,167.65 496.8,167.7 497.45,167.74 498.1,167.78 498.75,167.83 499.4,167.87 500.05,167.91 500.7,167.94 501.35,167.98 502,168.02 502.64,168.05 503.29,168.08 503.94,168.11 504.59,168.14 505.24,168.17 505.89,168.19 506.54,168.22 507.19,168.24 507.84,168.27 508.49,168.29 509.13,168.31 509.78,168.34 510.43,168.36 511.08,168.38 511.73,168.4 512.38,168.42 513.03,168.44 513.68,168.46 514.33,168.48 514.98,168.5 515.62,168.51 516.27,168.53 516.92,168.55 517.57,168.57 518.22,168.58 518.87,168.6 519.52,168.61 520.17,168.63 520.82,168.64 521.47,168.66 522.11,168.67 522.76,168.68 523.41,168.7 524.06,168.71 524.71,168.72 525.36,168.73 526.01,168.74 526.66,168.76 527.31,168.77 527.96,168.78 528.6,168.79 529.25,168.8 529.9,168.81 530.55,168.82 531.2,168.83 531.85,168.84 532.5,168.84 533.15,168.85 533.8,168.86 534.44,168.87 535.09,168.88 535.74,168.88 536.39,168.89 537.04,168.89 537.69,168.9" fill="none" stroke="#6a6a6a" stroke-width="0.8" stroke-linejoin="round"/>
<polyline points="336.5,-111.42 337.15,-82.17 337.8,-47.48 338.45,-17.98 339.1,4.31 339.75,23.49 340.39,38.08 341.04,48.97 341.69,58.11 342.34,65.65 342.99,71.72 343.64,76.9 344.29,81.45 344.94,85.11 345.59,87.61 346.24,89.37 346.88,90.83 347.53,91.69 348.18,91.78 348.83,91.52 349.48,91.07 350.13,90.52 350.78,89.94 351.43,89.29 352.08,88.47 352.73,87.52 353.37,86.48 354.02,85.38 354.67,84.24 355.32,83.1 355.97,82 356.62,80.87 357.27,79.64 357.92,78.36 358.57,77.08 359.21,75.82 359.86,74.64 360.51,73.57 361.16,72.66 361.81,71.8 362.46,70.93 363.11,70.09 363.76,69.33 364.41,68.73 365.06,68.32 365.7,68.17 366.35,68.28 367,68.59 367.65,69.06 368.3,69.65 368.95,70.32 369.6,71.42 370.25,73.12 370.9,75.18 371.55,77.33 372.19,79.65 372.84,82.29 373.49,85.11 374.14,87.98 374.79,90.77 375.44,93.6 376.09,96.47 376.74,99.34 377.39,102.19 378.04,105.05 378.69,107.9 379.33,110.73 379.98,113.49 380.63,116.17 381.28,118.8 381.93,121.4 382.58,123.99 383.23,126.64 383.88,129.34 384.53,131.99 385.18,134.47 385.82,136.75 386.47,138.94 387.12,140.98 387.77,142.84 388.42,144.47 389.07,146.06 389.72,147.54 390.37,148.83 391.02,149.84 391.67,150.52 392.31,151.09 392.96,151.57 393.61,151.97 394.26,152.3 394.91,152.55 395.56,152.75 396.21,152.92 396.86,153.07 397.51,153.19 398.15,153.3 398.8,153.39 399.45,153.47 400.1,153.54 400.75,153.61 401.4,153.67 402.05,153.72 402.7,153.78 403.35,153.82 404,153.87 404.64,153.92 405.29,153.96 405.94,154 406.59,154.05 407.24,154.09 407.89,154.14 408.54,154.18 409.19,154.22 409.84,154.26 410.49,154.3 411.13,154.33 411.78,154.37 412.43,154.4 413.08,154.43 413.73,154.47 414.38,154.5 415.03,154.54 415.68,154.58 416.33,154.62 416.98,154.66 417.62,154.71 418.27,154.76 418.92,154.82 419.57,154.88 420.22,154.96 420.87,155.05 421.52,155.16 422.17,155.29 422.82,155.43 423.47,155.57 424.12,155.73 424.76,155.89 425.41,156.06 426.06,156.23 426.71,156.4 427.36,156.57 428.01,156.74 428.66,156.93 429.31,157.13 429.96,157.34 430.61,157.56 431.25,157.78 431.9,158 432.55,158.21 433.2,158.42 433.85,158.62 434.5,158.82 435.15,159.01 435.8,159.2 436.45,159.39 437.1,159.58 437.74,159.77 438.39,159.95 439.04,160.13 439.69,160.31 440.34,160.49 440.99,160.67 441.64,160.84 442.29,161.01 442.94,161.19 443.59,161.35 444.23,161.52 444.88,161.69 445.53,161.85 446.18,162.01 446.83,162.17 447.48,162.33 448.13,162.49 448.78,162.65 449.43,162.81 450.07,162.97 450.72,163.12 451.37,163.27 452.02,163.41 452.67,163.54 453.32,163.67 453.97,163.79 454.62,163.91 455.27,164.02 455.92,164.14 456.56,164.24 457.21,164.35 457.86,164.45 458.51,164.54 459.16,164.62 459.81,164.7 460.46,164.76 461.11,164.83 461.76,164.89 462.41,164.95 463.06,165.01 463.7,165.06 464.35,165.11 465,165.16 465.65,165.21 466.3,165.25 466.95,165.3 467.6,165.34 468.25,165.39 468.9,165.43 469.55,165.48 470.19,165.52 470.84,165.57 471.49,165.62 472.14,165.67 472.79,165.72 473.44,165.78 474.09,165.83 474.74,165.89 475.39,165.95 476.03,166 476.68,166.06 477.33,166.12 477.98,166.18 478.63,166.24 479.28,166.29 479.93,166.35 480.58,166.41 481.23,166.47 481.88,166.52 482.52,166.58 483.17,166.64 483.82,166.69 484.47,166.74 485.12,166.79 485.77,166.84 486.42,166.89 487.07,166.94 487.72,166.99 488.37,167.04 489.01,167.09 489.66,167.15 490.31,167.2 490.96,167.25 491.61,167.3 492.26,167.35 492.91,167.39 493.56,167.44 494.21,167.49 494.86,167.54 495.5,167.59 496.15,167.63 496.8,167.68 497.45,167.72 498.1,167.76 498.75,167.81 499.4,167.85 500.05,167.89 500.7,167.93 501.35,167.96 502,168 502.64,168.03 503.29,168.07 503.94,168.1 504.59,168.13 505.24,168.15 505.89,168.18 506.54,168.2 507.19,168.23 507.84,168.25 508.49,168.28 509.13,168.3 509.78,168.32 510.43,168.34 511.08,168.37 511.73,168.39 512.38,168.41 513.03,168.43 513.68,168.45 514.33,168.47 514.98,168.49 515.62,168.5 516.27,168.52 516.92,168.54 517.57,168.56 518.22,168.57 518.87,168.59 519.52,168.6 520.17,168.62 520.82,168.63 521.47,168.65 522.11,168.66 522.76,168.67 523.41,168.69 524.06,168.7 524.71,168.71 525.36,168.73 526.01,168.74 526.66,168.75 527.31,168.76 527.96,168.77 528.6,168.78 529.25,168.79 529.9,168.8 530.55,168.81 531.2,168.82 531.85,168.83 532.5,168.84 533.15,168.85 533.8,168.86 534.44,168.87 535.09,168.87 535.74,168.88 536.39,168.89 537.04,168.89 537.69,168.9" fill="none" stroke="#333" stroke-width="1.0" stroke-linejoin="round"/>
<polyline points="336.5,-41.34 337.15,-23.51 337.8,-5.01 338.45,12.06 339.1,26.06 339.75,38.42 340.39,49.34 341.04,58.64 341.69,66.04 342.34,72.17 342.99,78.29 343.64,85.65 344.29,96.17 344.94,105.36 345.59,110.73 346.24,114.9 346.88,118.16 347.53,120.86 348.18,123.16 348.83,125.13 349.48,126.85 350.13,128.35 350.78,129.65 351.43,130.84 352.08,132.03 352.73,133.29 353.37,134.65 354.02,135.97 354.67,137.13 355.32,138.02 355.97,138.84 356.62,139.56 357.27,140.11 357.92,140.45 358.57,140.62 359.21,140.75 359.86,140.97 360.51,141.3 361.16,141.7 361.81,142.14 362.46,142.55 363.11,142.95 363.76,143.36 364.41,143.79 365.06,144.21 365.7,144.64 366.35,145.05 367,145.45 367.65,145.83 368.3,146.19 368.95,146.51 369.6,146.84 370.25,147.16 370.9,147.48 371.55,147.76 372.19,148.01 372.84,148.21 373.49,148.34 374.14,148.44 374.79,148.52 375.44,148.6 376.09,148.67 376.74,148.73 377.39,148.77 378.04,148.8 378.69,148.81 379.33,148.69 379.98,148.38 380.63,147.91 381.28,147.35 381.93,146.73 382.58,146.11 383.23,145.54 383.88,145 384.53,144.44 385.18,143.87 385.82,143.27 386.47,142.64 387.12,141.99 387.77,141.31 388.42,140.59 389.07,139.81 389.72,138.98 390.37,138.09 391.02,137.16 391.67,136.21 392.31,135.26 392.96,134.3 393.61,133.32 394.26,132.31 394.91,131.28 395.56,130.24 396.21,129.17 396.86,128.08 397.51,126.96 398.15,125.78 398.8,124.58 399.45,123.38 400.1,122.19 400.75,121.06 401.4,119.99 402.05,118.96 402.7,117.97 403.35,116.97 404,115.96 404.64,114.9 405.29,113.77 405.94,112.53 406.59,111.19 407.24,109.8 407.89,108.41 408.54,107.07 409.19,105.83 409.84,104.66 410.49,103.52 411.13,102.41 411.78,101.34 412.43,100.33 413.08,99.4 413.73,98.54 414.38,97.72 415.03,96.9 415.68,96.11 416.33,95.36 416.98,94.69 417.62,94.11 418.27,93.66 418.92,93.35 419.57,93.1 420.22,92.89 420.87,92.76 421.52,92.77 422.17,92.97 422.82,93.3 423.47,93.68 424.12,94.18 424.76,94.87 425.41,95.67 426.06,96.48 426.71,97.33 427.36,98.25 428.01,99.22 428.66,100.22 429.31,101.25 429.96,102.32 430.61,103.42 431.25,104.58 431.9,105.8 432.55,107.06 433.2,108.35 433.85,109.71 434.5,111.19 435.15,112.8 435.8,114.62 436.45,116.78 437.1,119.16 437.74,121.64 438.39,124.09 439.04,126.41 439.69,128.71 440.34,131 440.99,133.28 441.64,135.55 442.29,137.81 442.94,140.12 443.59,142.46 444.23,144.75 444.88,146.92 445.53,148.9 446.18,150.75 446.83,152.53 447.48,154.2 448.13,155.72 448.78,157.07 449.43,158.26 450.07,159.38 450.72,160.41 451.37,161.29 452.02,162 452.67,162.53 453.32,162.95 453.97,163.32 454.62,163.65 455.27,163.97 455.92,164.31 456.56,164.67 457.21,165.05 457.86,165.43 458.51,165.8 459.16,166.15 459.81,166.47 460.46,166.75 461.11,166.99 461.76,167.16 462.41,167.27 463.06,167.36 463.7,167.45 464.35,167.53 465,167.61 465.65,167.68 466.3,167.75 466.95,167.81 467.6,167.86 468.25,167.92 468.9,167.96 469.55,168 470.19,168.04 470.84,168.07 471.49,168.1 472.14,168.13 472.79,168.15 473.44,168.17 474.09,168.19 474.74,168.21 475.39,168.23 476.03,168.25 476.68,168.27 477.33,168.29 477.98,168.3 478.63,168.32 479.28,168.34 479.93,168.35 480.58,168.37 481.23,168.38 481.88,168.4 482.52,168.41 483.17,168.42 483.82,168.44 484.47,168.45 485.12,168.46 485.77,168.47 486.42,168.49 487.07,168.5 487.72,168.51 488.37,168.52 489.01,168.53 489.66,168.54 490.31,168.55 490.96,168.56 491.61,168.57 492.26,168.58 492.91,168.59 493.56,168.59 494.21,168.6 494.86,168.61 495.5,168.62 496.15,168.62 496.8,168.63 497.45,168.64 498.1,168.65 498.75,168.65 499.4,168.66 500.05,168.67 500.7,168.67 501.35,168.68 502,168.68 502.64,168.69 503.29,168.7 503.94,168.7 504.59,168.71 505.24,168.71 505.89,168.72 506.54,168.72 507.19,168.73 507.84,168.74 508.49,168.74 509.13,168.75 509.78,168.75 510.43,168.76 511.08,168.76 511.73,168.77 512.38,168.77 513.03,168.78 513.68,168.78 514.33,168.79 514.98,168.79 515.62,168.8 516.27,168.8 516.92,168.81 517.57,168.81 518.22,168.82 518.87,168.82 519.52,168.83 520.17,168.83 520.82,168.84 521.47,168.84 522.11,168.85 522.76,168.85 523.41,168.85 524.06,168.86 524.71,168.86 525.36,168.86 526.01,168.87 526.66,168.87 527.31,168.87 527.96,168.88 528.6,168.88 529.25,168.88 529.9,168.89 530.55,168.89 531.2,168.89 531.85,168.89 532.5,168.89 533.15,168.89 533.8,168.9 534.44,168.9 535.09,168.9 535.74,168.9 536.39,168.9 537.04,168.9 537.69,168.9" fill="none" stroke="#111" stroke-width="1.3" stroke-linejoin="round"/>
</g>
<rect x="336.5" y="19.4" width="201.2" height="149.5" fill="none" stroke="#7d7d7d" stroke-width="1.3"/>
<line x1="365.5" y1="66.2" x2="365.5" y2="55.2" stroke="#111" stroke-width="1.4"/>
<polygon points="363.3,55.7 367.7,55.7 365.5,49.1" fill="#111"/>
<line x1="421.9" y1="73.4" x2="421.9" y2="85.5" stroke="#111" stroke-width="1.5"/>
<polygon points="419.9,85 423.9,85 421.9,90.8" fill="#111"/>
<line x1="475.4" y1="162" x2="475.4" y2="151.2" stroke="#111" stroke-width="1.4"/>
<polygon points="473.2,151.7 477.6,151.7 475.4,145.1" fill="#111"/>
<rect x="445.3" y="22.2" width="90.2" height="66.6" fill="#fff"/>
<line x1="456.4" y1="88.8" x2="456.4" y2="90" stroke="#777" stroke-width="0.6"/>
<text class="s" x="456.4" y="94.3" font-size="4.6" text-anchor="middle" fill="#333">300</text>
<line x1="473.5" y1="88.8" x2="473.5" y2="90" stroke="#777" stroke-width="0.6"/>
<text class="s" x="473.5" y="94.3" font-size="4.6" text-anchor="middle" fill="#333">350</text>
<line x1="490.6" y1="88.8" x2="490.6" y2="90" stroke="#777" stroke-width="0.6"/>
<text class="s" x="490.6" y="94.3" font-size="4.6" text-anchor="middle" fill="#333">400</text>
<line x1="507.7" y1="88.8" x2="507.7" y2="90" stroke="#777" stroke-width="0.6"/>
<text class="s" x="507.7" y="94.3" font-size="4.6" text-anchor="middle" fill="#333">450</text>
<line x1="524.8" y1="88.8" x2="524.8" y2="90" stroke="#777" stroke-width="0.6"/>
<text class="s" x="524.8" y="94.3" font-size="4.6" text-anchor="middle" fill="#333">500</text>
<line x1="444.1" y1="88.8" x2="445.3" y2="88.8" stroke="#777" stroke-width="0.6"/>
<text class="s" x="443.2" y="90.5" font-size="4.6" text-anchor="end" fill="#333">0.0</text>
<line x1="444.1" y1="66.6" x2="445.3" y2="66.6" stroke="#777" stroke-width="0.6"/>
<text class="s" x="443.2" y="68.3" font-size="4.6" text-anchor="end" fill="#333">0.2</text>
<line x1="444.1" y1="44.4" x2="445.3" y2="44.4" stroke="#777" stroke-width="0.6"/>
<text class="s" x="443.2" y="46.1" font-size="4.6" text-anchor="end" fill="#333">0.4</text>
<line x1="444.1" y1="22.2" x2="445.3" y2="22.2" stroke="#777" stroke-width="0.6"/>
<text class="s" x="443.2" y="23.9" font-size="4.6" text-anchor="end" fill="#333">0.6</text>
<text class="s" x="490.9" y="101" font-size="5.5" text-anchor="middle" fill="#333">wavelength (nm)</text>
<text class="s" x="434.5" y="58.5" font-size="5.5" text-anchor="middle" transform="rotate(-90 434.5 58.5)" fill="#333">Absorbance</text>
<defs><clipPath id="cbi"><rect x="445.3" y="22.2" width="90.2" height="66.6"/></clipPath></defs>
<g clip-path="url(#cbi)">
<polyline points="444.09,39.96 444.43,38.96 444.77,37.82 445.11,36.55 445.45,35.11 445.79,33.29 446.13,31.43 446.47,30 446.81,28.93 447.15,27.93 447.5,27.14 447.84,26.69 448.18,26.69 448.52,26.97 448.86,27.42 449.2,27.94 449.54,28.59 449.88,29.46 450.22,30.54 450.56,31.79 450.9,33.28 451.24,35.24 451.58,37.58 451.92,40.18 452.27,42.92 452.61,45.73 452.95,48.92 453.29,52.45 453.63,56.06 453.97,59.52 454.31,62.57 454.65,65.35 454.99,68.08 455.33,70.62 455.67,72.83 456.01,74.6 456.35,75.97 456.69,77.29 457.04,78.49 457.38,79.48 457.72,80.17 458.06,80.47 458.4,80.46 458.74,80.42 459.08,80.36 459.42,80.27 459.76,80.17 460.1,80.06 460.44,79.94 460.78,79.8 461.12,79.6 461.47,79.34 461.81,79.05 462.15,78.74 462.49,78.41 462.83,78.08 463.17,77.76 463.51,77.46 463.85,77.2 464.19,76.96 464.53,76.71 464.87,76.45 465.21,76.19 465.55,75.92 465.89,75.67 466.24,75.43 466.58,75.21 466.92,75.02 467.26,74.85 467.6,74.72 467.94,74.63 468.28,74.59 468.62,74.6 468.96,74.62 469.3,74.65 469.64,74.7 469.98,74.76 470.32,74.83 470.66,74.9 471.01,75 471.35,75.18 471.69,75.43 472.03,75.74 472.37,76.1 472.71,76.48 473.05,76.89 473.39,77.31 473.73,77.73 474.07,78.13 474.41,78.52 474.75,78.94 475.09,79.38 475.44,79.84 475.78,80.31 476.12,80.78 476.46,81.25 476.8,81.71 477.14,82.15 477.48,82.55 477.82,82.94 478.16,83.33 478.5,83.72 478.84,84.11 479.18,84.48 479.52,84.84 479.86,85.17 480.21,85.47 480.55,85.74 480.89,85.95 481.23,86.13 481.57,86.29 481.91,86.45 482.25,86.6 482.59,86.75 482.93,86.88 483.27,87.01 483.61,87.12 483.95,87.22 484.29,87.31 484.63,87.38 484.98,87.43 485.32,87.46 485.66,87.48 486,87.49 486.34,87.5 486.68,87.51 487.02,87.52 487.36,87.53 487.7,87.54 488.04,87.55 488.38,87.56 488.72,87.56 489.06,87.57 489.4,87.58 489.75,87.58 490.09,87.59 490.43,87.59 490.77,87.6 491.11,87.6 491.45,87.6 491.79,87.61 492.13,87.61 492.47,87.62 492.81,87.62 493.15,87.62 493.49,87.63 493.83,87.63 494.18,87.64 494.52,87.64 494.86,87.64 495.2,87.65 495.54,87.65 495.88,87.66 496.22,87.66 496.56,87.67 496.9,87.68 497.24,87.69 497.58,87.69 497.92,87.7 498.26,87.71 498.6,87.72 498.95,87.73 499.29,87.74 499.63,87.75 499.97,87.76 500.31,87.77 500.65,87.78 500.99,87.79 501.33,87.8 501.67,87.81 502.01,87.82 502.35,87.83 502.69,87.84 503.03,87.85 503.37,87.87 503.72,87.88 504.06,87.89 504.4,87.9 504.74,87.91 505.08,87.92 505.42,87.94 505.76,87.95 506.1,87.96 506.44,87.97 506.78,87.98 507.12,88 507.46,88.01 507.8,88.02 508.14,88.03 508.49,88.04 508.83,88.06 509.17,88.07 509.51,88.08 509.85,88.09 510.19,88.1 510.53,88.11 510.87,88.13 511.21,88.14 511.55,88.15 511.89,88.16 512.23,88.17 512.57,88.18 512.92,88.19 513.26,88.21 513.6,88.22 513.94,88.23 514.28,88.24 514.62,88.25 514.96,88.26 515.3,88.28 515.64,88.29 515.98,88.3 516.32,88.31 516.66,88.32 517,88.34 517.34,88.35 517.69,88.36 518.03,88.37 518.37,88.38 518.71,88.39 519.05,88.41 519.39,88.42 519.73,88.43 520.07,88.44 520.41,88.45 520.75,88.46 521.09,88.47 521.43,88.48 521.77,88.49 522.11,88.5 522.46,88.51 522.8,88.52 523.14,88.53 523.48,88.54 523.82,88.55 524.16,88.56 524.5,88.57 524.84,88.58 525.18,88.59 525.52,88.6 525.86,88.6 526.2,88.61 526.54,88.62 526.89,88.63 527.23,88.64 527.57,88.64 527.91,88.65 528.25,88.66 528.59,88.67 528.93,88.67 529.27,88.68 529.61,88.69 529.95,88.7 530.29,88.7 530.63,88.71 530.97,88.72 531.31,88.72 531.66,88.73 532,88.74 532.34,88.74 532.68,88.75 533.02,88.76 533.36,88.76 533.7,88.77 534.04,88.77 534.38,88.78 534.72,88.78 535.06,88.79 535.4,88.79 535.74,88.8" fill="none" stroke="#aaa" stroke-width="0.6" stroke-linejoin="round"/>
<polyline points="444.09,39.96 444.43,38.96 444.77,37.82 445.11,36.55 445.45,35.11 445.79,33.29 446.13,31.43 446.47,30 446.81,28.93 447.15,27.93 447.5,27.14 447.84,26.69 448.18,26.69 448.52,26.97 448.86,27.42 449.2,27.94 449.54,28.59 449.88,29.46 450.22,30.54 450.56,31.79 450.9,33.28 451.24,35.24 451.58,37.58 451.92,40.18 452.27,42.92 452.61,45.73 452.95,48.92 453.29,52.45 453.63,56.06 453.97,59.52 454.31,62.57 454.65,65.35 454.99,68.08 455.33,70.62 455.67,72.83 456.01,74.6 456.35,75.96 456.69,77.24 457.04,78.39 457.38,79.35 457.72,80.06 458.06,80.45 458.4,80.6 458.74,80.72 459.08,80.82 459.42,80.9 459.76,80.97 460.1,81.03 460.44,81.09 460.78,81.14 461.12,81.19 461.47,81.24 461.81,81.3 462.15,81.35 462.49,81.4 462.83,81.44 463.17,81.48 463.51,81.52 463.85,81.56 464.19,81.6 464.53,81.64 464.87,81.68 465.21,81.72 465.55,81.76 465.89,81.8 466.24,81.85 466.58,81.9 466.92,81.96 467.26,82.02 467.6,82.09 467.94,82.17 468.28,82.24 468.62,82.33 468.96,82.41 469.3,82.49 469.64,82.58 469.98,82.67 470.32,82.76 470.66,82.85 471.01,82.93 471.35,83.02 471.69,83.1 472.03,83.18 472.37,83.26 472.71,83.33 473.05,83.39 473.39,83.45 473.73,83.51 474.07,83.57 474.41,83.63 474.75,83.69 475.09,83.75 475.44,83.81 475.78,83.86 476.12,83.92 476.46,83.97 476.8,84.01 477.14,84.05 477.48,84.09 477.82,84.11 478.16,84.13 478.5,84.14 478.84,84.13 479.18,84.12 479.52,84.09 479.86,84.04 480.21,83.98 480.55,83.92 480.89,83.84 481.23,83.76 481.57,83.67 481.91,83.58 482.25,83.48 482.59,83.38 482.93,83.27 483.27,83.17 483.61,83.07 483.95,82.97 484.29,82.86 484.63,82.73 484.98,82.6 485.32,82.46 485.66,82.31 486,82.15 486.34,81.99 486.68,81.83 487.02,81.66 487.36,81.5 487.7,81.34 488.04,81.18 488.38,81.02 488.72,80.88 489.06,80.74 489.4,80.59 489.75,80.45 490.09,80.3 490.43,80.15 490.77,80 491.11,79.86 491.45,79.71 491.79,79.57 492.13,79.43 492.47,79.3 492.81,79.18 493.15,79.06 493.49,78.96 493.83,78.86 494.18,78.77 494.52,78.68 494.86,78.59 495.2,78.5 495.54,78.41 495.88,78.34 496.22,78.27 496.56,78.21 496.9,78.17 497.24,78.15 497.58,78.15 497.92,78.16 498.26,78.18 498.6,78.21 498.95,78.25 499.29,78.3 499.63,78.35 499.97,78.41 500.31,78.48 500.65,78.54 500.99,78.62 501.33,78.72 501.67,78.86 502.01,79.02 502.35,79.2 502.69,79.41 503.03,79.63 503.37,79.85 503.72,80.09 504.06,80.32 504.4,80.56 504.74,80.81 505.08,81.08 505.42,81.38 505.76,81.68 506.1,82 506.44,82.32 506.78,82.64 507.12,82.96 507.46,83.27 507.8,83.56 508.14,83.87 508.49,84.18 508.83,84.49 509.17,84.81 509.51,85.12 509.85,85.42 510.19,85.7 510.53,85.96 510.87,86.2 511.21,86.41 511.55,86.61 511.89,86.81 512.23,86.99 512.57,87.17 512.92,87.34 513.26,87.49 513.6,87.63 513.94,87.75 514.28,87.85 514.62,87.93 514.96,88 515.3,88.06 515.64,88.13 515.98,88.19 516.32,88.24 516.66,88.3 517,88.35 517.34,88.39 517.69,88.43 518.03,88.47 518.37,88.5 518.71,88.53 519.05,88.55 519.39,88.57 519.73,88.58 520.07,88.59 520.41,88.6 520.75,88.61 521.09,88.62 521.43,88.63 521.77,88.63 522.11,88.64 522.46,88.65 522.8,88.66 523.14,88.67 523.48,88.67 523.82,88.68 524.16,88.69 524.5,88.69 524.84,88.7 525.18,88.71 525.52,88.71 525.86,88.72 526.2,88.72 526.54,88.73 526.89,88.74 527.23,88.74 527.57,88.75 527.91,88.75 528.25,88.75 528.59,88.76 528.93,88.76 529.27,88.77 529.61,88.77 529.95,88.77 530.29,88.78 530.63,88.78 530.97,88.78 531.31,88.78 531.66,88.79 532,88.79 532.34,88.79 532.68,88.79 533.02,88.79 533.36,88.8 533.7,88.8 534.04,88.8 534.38,88.8 534.72,88.8 535.06,88.8 535.4,88.8 535.74,88.8" fill="none" stroke="#444" stroke-width="0.7" stroke-linejoin="round" stroke-dasharray="1.4,0.9"/>
<polyline points="444.09,39.96 444.43,38.96 444.77,37.82 445.11,36.55 445.45,35.11 445.79,33.29 446.13,31.43 446.47,30 446.81,28.93 447.15,27.93 447.5,27.14 447.84,26.69 448.18,26.69 448.52,26.97 448.86,27.42 449.2,27.94 449.54,28.59 449.88,29.46 450.22,30.54 450.56,31.79 450.9,33.28 451.24,35.24 451.58,37.58 451.92,40.18 452.27,42.92 452.61,45.72 452.95,48.92 453.29,52.43 453.63,56.04 453.97,59.5 454.31,62.57 454.65,65.38 454.99,68.14 455.33,70.72 455.67,72.99 456.01,74.8 456.35,76.2 456.69,77.46 457.04,78.56 457.38,79.48 457.72,80.19 458.06,80.68 458.4,81.09 458.74,81.47 459.08,81.82 459.42,82.13 459.76,82.4 460.1,82.64 460.44,82.85 460.78,83.02 461.12,83.16 461.47,83.27 461.81,83.36 462.15,83.45 462.49,83.53 462.83,83.6 463.17,83.66 463.51,83.72 463.85,83.78 464.19,83.83 464.53,83.87 464.87,83.92 465.21,83.96 465.55,84 465.89,84.05 466.24,84.09 466.58,84.13 466.92,84.17 467.26,84.21 467.6,84.26 467.94,84.3 468.28,84.35 468.62,84.4 468.96,84.44 469.3,84.48 469.64,84.53 469.98,84.57 470.32,84.61 470.66,84.64 471.01,84.68 471.35,84.71 471.69,84.73 472.03,84.76 472.37,84.77 472.71,84.79 473.05,84.8 473.39,84.8 473.73,84.8 474.07,84.8 474.41,84.8 474.75,84.79 475.09,84.78 475.44,84.77 475.78,84.76 476.12,84.74 476.46,84.72 476.8,84.71 477.14,84.69 477.48,84.66 477.82,84.64 478.16,84.62 478.5,84.59 478.84,84.56 479.18,84.51 479.52,84.44 479.86,84.36 480.21,84.26 480.55,84.14 480.89,84.01 481.23,83.88 481.57,83.73 481.91,83.58 482.25,83.42 482.59,83.26 482.93,83.09 483.27,82.93 483.61,82.76 483.95,82.6 484.29,82.42 484.63,82.23 484.98,82.03 485.32,81.81 485.66,81.58 486,81.35 486.34,81.11 486.68,80.87 487.02,80.63 487.36,80.39 487.7,80.15 488.04,79.92 488.38,79.69 488.72,79.47 489.06,79.26 489.4,79.04 489.75,78.82 490.09,78.59 490.43,78.37 490.77,78.14 491.11,77.92 491.45,77.7 491.79,77.49 492.13,77.28 492.47,77.09 492.81,76.9 493.15,76.73 493.49,76.57 493.83,76.44 494.18,76.31 494.52,76.19 494.86,76.07 495.2,75.95 495.54,75.83 495.88,75.73 496.22,75.64 496.56,75.57 496.9,75.51 497.24,75.48 497.58,75.48 497.92,75.5 498.26,75.54 498.6,75.6 498.95,75.67 499.29,75.76 499.63,75.85 499.97,75.96 500.31,76.07 500.65,76.18 500.99,76.31 501.33,76.46 501.67,76.65 502.01,76.88 502.35,77.13 502.69,77.4 503.03,77.69 503.37,77.99 503.72,78.3 504.06,78.61 504.4,78.92 504.74,79.25 505.08,79.61 505.42,79.99 505.76,80.39 506.1,80.8 506.44,81.21 506.78,81.63 507.12,82.03 507.46,82.43 507.8,82.81 508.14,83.2 508.49,83.61 508.83,84.03 509.17,84.44 509.51,84.84 509.85,85.22 510.19,85.58 510.53,85.9 510.87,86.18 511.21,86.42 511.55,86.63 511.89,86.83 512.23,87.02 512.57,87.19 512.92,87.36 513.26,87.51 513.6,87.64 513.94,87.75 514.28,87.85 514.62,87.93 514.96,88 515.3,88.06 515.64,88.13 515.98,88.19 516.32,88.24 516.66,88.3 517,88.35 517.34,88.39 517.69,88.43 518.03,88.47 518.37,88.5 518.71,88.53 519.05,88.55 519.39,88.57 519.73,88.58 520.07,88.59 520.41,88.6 520.75,88.61 521.09,88.62 521.43,88.63 521.77,88.63 522.11,88.64 522.46,88.65 522.8,88.66 523.14,88.67 523.48,88.67 523.82,88.68 524.16,88.69 524.5,88.69 524.84,88.7 525.18,88.71 525.52,88.71 525.86,88.72 526.2,88.72 526.54,88.73 526.89,88.74 527.23,88.74 527.57,88.75 527.91,88.75 528.25,88.75 528.59,88.76 528.93,88.76 529.27,88.77 529.61,88.77 529.95,88.77 530.29,88.78 530.63,88.78 530.97,88.78 531.31,88.78 531.66,88.79 532,88.79 532.34,88.79 532.68,88.79 533.02,88.79 533.36,88.8 533.7,88.8 534.04,88.8 534.38,88.8 534.72,88.8 535.06,88.8 535.4,88.8 535.74,88.8" fill="none" stroke="#222" stroke-width="1.0" stroke-linejoin="round"/>
</g>
<rect x="445.3" y="22.2" width="90.2" height="66.6" fill="none" stroke="#888" stroke-width="0.6"/>
<line x1="490.4" y1="27.9" x2="501.3" y2="27.9" stroke="#555" stroke-width="1.2"/>
<line x1="490.4" y1="34" x2="501.3" y2="34" stroke="#bbb" stroke-width="0.8"/>
<line x1="490.4" y1="40" x2="501.3" y2="40" stroke="#555" stroke-width="0.7" stroke-dasharray="1.2,0.6"/>
<text class="s" x="502.9" y="29.6" font-size="4.8" text-anchor="start" fill="#333">TgCGL</text>
<text class="s" x="502.9" y="35.7" font-size="4.8" text-anchor="start" fill="#333">+ 2 mM L-cys</text>
<text class="s" x="504.2" y="41.7" font-size="4.8" text-anchor="start" fill="#333" font-style="italic">after dialysis</text>
<text class="m" x="4.5" y="211" font-size="12.4" text-anchor="start">C</text>
<line x1="70.56" y1="379.2" x2="70.56" y2="381.4" stroke="#7d7d7d" stroke-width="1"/>
<text class="m" x="70.56" y="392" font-size="9.4" text-anchor="middle">300</text>
<line x1="117.42" y1="379.2" x2="117.42" y2="381.4" stroke="#7d7d7d" stroke-width="1"/>
<text class="m" x="117.42" y="392" font-size="9.4" text-anchor="middle">350</text>
<line x1="164.28" y1="379.2" x2="164.28" y2="381.4" stroke="#7d7d7d" stroke-width="1"/>
<text class="m" x="164.28" y="392" font-size="9.4" text-anchor="middle">400</text>
<line x1="211.14" y1="379.2" x2="211.14" y2="381.4" stroke="#7d7d7d" stroke-width="1"/>
<text class="m" x="211.14" y="392" font-size="9.4" text-anchor="middle">450</text>
<line x1="258" y1="379.2" x2="258" y2="381.4" stroke="#7d7d7d" stroke-width="1"/>
<text class="m" x="258" y="392" font-size="9.4" text-anchor="middle">500</text>
<line x1="54" y1="379.2" x2="56.5" y2="379.2" stroke="#7d7d7d" stroke-width="1"/>
<text class="m" x="52" y="381.7" font-size="9.4" text-anchor="end">0.0</text>
<line x1="54" y1="341.88" x2="56.5" y2="341.88" stroke="#7d7d7d" stroke-width="1"/>
<text class="m" x="52" y="344.38" font-size="9.4" text-anchor="end">0.4</text>
<line x1="54" y1="304.55" x2="56.5" y2="304.55" stroke="#7d7d7d" stroke-width="1"/>
<text class="m" x="52" y="307.05" font-size="9.4" text-anchor="end">0.8</text>
<line x1="54" y1="267.23" x2="56.5" y2="267.23" stroke="#7d7d7d" stroke-width="1"/>
<text class="m" x="52" y="269.73" font-size="9.4" text-anchor="end">1.2</text>
<line x1="54" y1="229.9" x2="56.5" y2="229.9" stroke="#7d7d7d" stroke-width="1"/>
<text class="m" x="52" y="232.4" font-size="9.4" text-anchor="end">1.6</text>
<text class="m" x="157.4" y="407.8" font-size="10.6" text-anchor="middle">wavelength (nm)</text>
<text class="m" x="25.8" y="308.2" font-size="10.6" text-anchor="middle" transform="rotate(-90 25.8 308.2)">Absorbance</text>
<defs><clipPath id="cc"><rect x="56.5" y="229.9" width="201.5" height="149.3"/></clipPath></defs>
<g clip-path="url(#cc)">
<polyline points="54.63,359.14 55.33,359.36 56.03,359.57 56.73,359.76 57.44,359.95 58.14,360.12 58.84,360.27 59.55,360.38 60.25,360.48 60.95,360.58 61.65,360.65 62.36,360.71 63.06,360.72 63.76,360.7 64.47,360.63 65.17,360.53 65.87,360.42 66.57,360.3 67.28,360.17 67.98,360.02 68.68,359.85 69.39,359.66 70.09,359.46 70.79,359.25 71.5,359.02 72.2,358.77 72.9,358.51 73.6,358.23 74.31,357.94 75.01,357.65 75.71,357.37 76.42,357.09 77.12,356.8 77.82,356.52 78.52,356.23 79.23,355.94 79.93,355.65 80.63,355.36 81.34,355.07 82.04,354.78 82.74,354.49 83.44,354.21 84.15,353.93 84.85,353.64 85.55,353.36 86.26,353.08 86.96,352.8 87.66,352.51 88.36,352.22 89.07,351.94 89.77,351.65 90.47,351.36 91.18,351.07 91.88,350.77 92.58,350.47 93.29,350.17 93.99,349.87 94.69,349.57 95.39,349.26 96.1,348.95 96.8,348.64 97.5,348.32 98.21,347.98 98.91,347.64 99.61,347.3 100.31,346.95 101.02,346.58 101.72,346.2 102.42,345.78 103.13,345.33 103.83,344.82 104.53,344.27 105.23,343.67 105.94,343.03 106.64,342.35 107.34,341.63 108.05,340.85 108.75,339.99 109.45,339.09 110.15,338.14 110.86,337.16 111.56,336.15 112.26,335.12 112.97,334.04 113.67,332.91 114.37,331.75 115.08,330.55 115.78,329.34 116.48,328.11 117.18,326.88 117.89,325.61 118.59,324.31 119.29,323 120,321.67 120.7,320.32 121.4,318.97 122.1,317.62 122.81,316.25 123.51,314.87 124.21,313.48 124.92,312.08 125.62,310.67 126.32,309.25 127.02,307.84 127.73,306.43 128.43,305.02 129.13,303.62 129.84,302.24 130.54,300.87 131.24,299.49 131.94,298.09 132.65,296.67 133.35,295.22 134.05,293.72 134.76,292.16 135.46,290.57 136.16,288.97 136.86,287.38 137.57,285.82 138.27,284.32 138.97,282.86 139.68,281.4 140.38,279.96 141.08,278.54 141.79,277.17 142.49,275.84 143.19,274.57 143.89,273.36 144.6,272.19 145.3,271.04 146,269.93 146.71,268.88 147.41,267.91 148.11,267.03 148.81,266.23 149.52,265.42 150.22,264.62 150.92,263.87 151.63,263.21 152.33,262.66 153.03,262.27 153.73,262.07 154.44,261.94 155.14,261.85 155.84,261.82 156.55,261.92 157.25,262.21 157.95,262.65 158.65,263.18 159.36,263.76 160.06,264.45 160.76,265.45 161.47,266.67 162.17,267.99 162.87,269.3 163.58,270.55 164.28,271.81 164.98,273.1 165.68,274.41 166.39,275.76 167.09,277.16 167.79,278.62 168.5,280.15 169.2,281.75 169.9,283.45 170.6,285.29 171.31,287.24 172.01,289.31 172.71,291.45 173.42,293.67 174.12,295.93 174.82,298.21 175.52,300.51 176.23,302.8 176.93,305.17 177.63,307.63 178.34,310.15 179.04,312.71 179.74,315.27 180.44,317.8 181.15,320.29 181.85,322.7 182.55,325.01 183.26,327.26 183.96,329.49 184.66,331.69 185.37,333.86 186.07,335.98 186.77,338.05 187.47,340.05 188.18,341.99 188.88,343.85 189.58,345.64 190.29,347.41 190.99,349.14 191.69,350.83 192.39,352.46 193.1,354.03 193.8,355.53 194.5,356.94 195.21,358.26 195.91,359.5 196.61,360.67 197.31,361.8 198.02,362.88 198.72,363.91 199.42,364.9 200.13,365.84 200.83,366.73 201.53,367.59 202.23,368.4 202.94,369.2 203.64,369.99 204.34,370.75 205.05,371.48 205.75,372.17 206.45,372.81 207.15,373.4 207.86,373.92 208.56,374.38 209.26,374.78 209.97,375.16 210.67,375.51 211.37,375.84 212.08,376.15 212.78,376.43 213.48,376.68 214.18,376.91 214.89,377.12 215.59,377.31 216.29,377.48 217,377.65 217.7,377.79 218.4,377.93 219.1,378.05 219.81,378.17 220.51,378.27 221.21,378.36 221.92,378.45 222.62,378.53 223.32,378.6 224.02,378.67 224.73,378.73 225.43,378.79 226.13,378.83 226.84,378.86 227.54,378.89 228.24,378.93 228.94,378.95 229.65,378.98 230.35,379 231.05,379.03 231.76,379.05 232.46,379.06 233.16,379.08 233.87,379.09 234.57,379.11 235.27,379.12 235.97,379.13 236.68,379.14 237.38,379.15 238.08,379.16 238.79,379.17 239.49,379.17 240.19,379.18 240.89,379.19 241.6,379.19 242.3,379.2 243,379.2 243.71,379.2 244.41,379.2 245.11,379.2 245.81,379.2 246.52,379.2 247.22,379.2 247.92,379.2 248.63,379.2 249.33,379.2 250.03,379.2 250.73,379.2 251.44,379.2 252.14,379.2 252.84,379.2 253.55,379.2 254.25,379.2 254.95,379.2 255.66,379.2 256.36,379.2 257.06,379.2 257.76,379.2 258.47,379.2 259.17,379.2 259.87,379.2" fill="none" stroke="#111" stroke-width="1.0" stroke-linejoin="round"/>
<polyline points="54.63,356.4 55.33,356.52 56.03,356.63 56.73,356.72 57.44,356.8 58.14,356.87 58.84,356.92 59.55,356.94 60.25,356.95 60.95,356.95 61.65,356.94 62.36,356.92 63.06,356.88 63.76,356.81 64.47,356.72 65.17,356.62 65.87,356.5 66.57,356.37 67.28,356.25 67.98,356.1 68.68,355.93 69.39,355.74 70.09,355.54 70.79,355.33 71.5,355.09 72.2,354.84 72.9,354.57 73.6,354.28 74.31,353.99 75.01,353.68 75.71,353.38 76.42,353.06 77.12,352.74 77.82,352.4 78.52,352.05 79.23,351.68 79.93,351.31 80.63,350.94 81.34,350.55 82.04,350.14 82.74,349.71 83.44,349.27 84.15,348.81 84.85,348.35 85.55,347.89 86.26,347.43 86.96,346.99 87.66,346.54 88.36,346.09 89.07,345.63 89.77,345.17 90.47,344.72 91.18,344.28 91.88,343.85 92.58,343.44 93.29,343.03 93.99,342.63 94.69,342.25 95.39,341.87 96.1,341.5 96.8,341.15 97.5,340.79 98.21,340.43 98.91,340.08 99.61,339.77 100.31,339.47 101.02,339.17 101.72,338.85 102.42,338.53 103.13,338.21 103.83,337.88 104.53,337.52 105.23,337.14 105.94,336.72 106.64,336.31 107.34,335.87 108.05,335.4 108.75,334.89 109.45,334.33 110.15,333.74 110.86,333.14 111.56,332.55 112.26,331.97 112.97,331.35 113.67,330.69 114.37,330.01 115.08,329.33 115.78,328.65 116.48,327.97 117.18,327.27 117.89,326.56 118.59,325.83 119.29,325.1 120,324.35 120.7,323.6 121.4,322.87 122.1,322.13 122.81,321.36 123.51,320.53 124.21,319.62 124.92,318.67 125.62,317.7 126.32,316.71 127.02,315.69 127.73,314.65 128.43,313.57 129.13,312.48 129.84,311.39 130.54,310.3 131.24,309.2 131.94,308.08 132.65,306.93 133.35,305.74 134.05,304.5 134.76,303.2 135.46,301.87 136.16,300.53 136.86,299.19 137.57,297.88 138.27,296.61 138.97,295.38 139.68,294.15 140.38,292.94 141.08,291.74 141.79,290.57 142.49,289.44 143.19,288.35 143.89,287.31 144.6,286.3 145.3,285.3 146,284.34 146.71,283.42 147.41,282.58 148.11,281.81 148.81,281.11 149.52,280.39 150.22,279.68 150.92,279.02 151.63,278.42 152.33,277.93 153.03,277.58 153.73,277.38 154.44,277.26 155.14,277.17 155.84,277.12 156.55,277.2 157.25,277.44 157.95,277.8 158.65,278.25 159.36,278.75 160.06,279.34 160.76,280.19 161.47,281.23 162.17,282.36 162.87,283.49 163.58,284.57 164.28,285.67 164.98,286.79 165.68,287.94 166.39,289.13 167.09,290.37 167.79,291.67 168.5,293.03 169.2,294.45 169.9,295.96 170.6,297.58 171.31,299.31 172.01,301.13 172.71,303.02 173.42,304.97 174.12,306.96 174.82,308.96 175.52,310.97 176.23,312.96 176.93,315.03 177.63,317.16 178.34,319.35 179.04,321.56 179.74,323.77 180.44,325.96 181.15,328.11 181.85,330.2 182.55,332.2 183.26,334.15 183.96,336.08 184.66,337.99 185.37,339.87 186.07,341.7 186.77,343.49 187.47,345.23 188.18,346.91 188.88,348.52 189.58,350.07 190.29,351.6 190.99,353.1 191.69,354.57 192.39,355.98 193.1,357.34 193.8,358.64 194.5,359.86 195.21,361.01 195.91,362.08 196.61,363.1 197.31,364.07 198.02,365.01 198.72,365.9 199.42,366.75 200.13,367.57 200.83,368.35 201.53,369.09 202.23,369.79 202.94,370.49 203.64,371.17 204.34,371.83 205.05,372.46 205.75,373.06 206.45,373.62 207.15,374.13 207.86,374.58 208.56,374.97 209.26,375.32 209.97,375.65 210.67,375.96 211.37,376.25 212.08,376.51 212.78,376.76 213.48,376.98 214.18,377.18 214.89,377.36 215.59,377.52 216.29,377.68 217,377.82 217.7,377.95 218.4,378.07 219.1,378.18 219.81,378.28 220.51,378.37 221.21,378.45 221.92,378.52 222.62,378.6 223.32,378.66 224.02,378.72 224.73,378.78 225.43,378.82 226.13,378.86 226.84,378.89 227.54,378.92 228.24,378.95 228.94,378.97 229.65,379 230.35,379.02 231.05,379.04 231.76,379.06 232.46,379.07 233.16,379.09 233.87,379.1 234.57,379.11 235.27,379.12 235.97,379.13 236.68,379.14 237.38,379.15 238.08,379.16 238.79,379.17 239.49,379.18 240.19,379.18 240.89,379.19 241.6,379.19 242.3,379.2 243,379.2 243.71,379.2 244.41,379.2 245.11,379.2 245.81,379.2 246.52,379.2 247.22,379.2 247.92,379.2 248.63,379.2 249.33,379.2 250.03,379.2 250.73,379.2 251.44,379.2 252.14,379.2 252.84,379.2 253.55,379.2 254.25,379.2 254.95,379.2 255.66,379.2 256.36,379.2 257.06,379.2 257.76,379.2 258.47,379.2 259.17,379.2 259.87,379.2" fill="none" stroke="#111" stroke-width="1.0" stroke-linejoin="round"/>
<polyline points="54.63,353.27 55.33,353.28 56.03,353.27 56.73,353.24 57.44,353.21 58.14,353.16 58.84,353.09 59.55,352.99 60.25,352.9 60.95,352.81 61.65,352.7 62.36,352.59 63.06,352.48 63.76,352.37 64.47,352.26 65.17,352.14 65.87,352.01 66.57,351.89 67.28,351.76 67.98,351.62 68.68,351.45 69.39,351.26 70.09,351.05 70.79,350.84 71.5,350.6 72.2,350.34 72.9,350.07 73.6,349.77 74.31,349.47 75.01,349.15 75.71,348.82 76.42,348.47 77.12,348.09 77.82,347.69 78.52,347.26 79.23,346.82 79.93,346.36 80.63,345.89 81.34,345.39 82.04,344.85 82.74,344.25 83.44,343.62 84.15,342.97 84.85,342.3 85.55,341.63 86.26,340.98 86.96,340.35 87.66,339.72 88.36,339.07 89.07,338.42 89.77,337.77 90.47,337.14 91.18,336.53 91.88,335.94 92.58,335.4 93.29,334.87 93.99,334.37 94.69,333.88 95.39,333.42 96.1,332.99 96.8,332.59 97.5,332.18 98.21,331.8 98.91,331.45 99.61,331.17 100.31,330.93 101.02,330.7 101.72,330.47 102.42,330.25 103.13,330.09 103.83,329.96 104.53,329.84 105.23,329.69 105.94,329.55 106.64,329.44 107.34,329.34 108.05,329.24 108.75,329.12 109.45,328.97 110.15,328.8 110.86,328.66 111.56,328.56 112.26,328.49 112.97,328.4 113.67,328.29 114.37,328.15 115.08,328.04 115.78,327.93 116.48,327.82 117.18,327.69 117.89,327.54 118.59,327.38 119.29,327.21 120,327.03 120.7,326.86 121.4,326.72 122.1,326.58 122.81,326.38 123.51,326.07 124.21,325.62 124.92,325.11 125.62,324.56 126.32,323.97 127.02,323.33 127.73,322.63 128.43,321.88 129.13,321.08 129.84,320.27 130.54,319.46 131.24,318.63 131.94,317.78 132.65,316.89 133.35,315.95 134.05,314.96 134.76,313.9 135.46,312.83 136.16,311.73 136.86,310.65 137.57,309.58 138.27,308.54 138.97,307.53 139.68,306.52 140.38,305.52 141.08,304.54 141.79,303.57 142.49,302.63 143.19,301.71 143.89,300.84 144.6,299.98 145.3,299.13 146,298.31 146.71,297.53 147.41,296.8 148.11,296.14 148.81,295.53 149.52,294.91 150.22,294.29 150.92,293.7 151.63,293.18 152.33,292.74 153.03,292.41 153.73,292.23 154.44,292.11 155.14,292.02 155.84,291.96 156.55,292.01 157.25,292.2 157.95,292.49 158.65,292.86 159.36,293.28 160.06,293.77 160.76,294.49 161.47,295.36 162.17,296.3 162.87,297.24 163.58,298.16 164.28,299.1 164.98,300.07 165.68,301.07 166.39,302.1 167.09,303.18 167.79,304.32 168.5,305.51 169.2,306.76 169.9,308.08 170.6,309.5 171.31,311.01 172.01,312.59 172.71,314.24 173.42,315.93 174.12,317.65 174.82,319.38 175.52,321.1 176.23,322.82 176.93,324.58 177.63,326.4 178.34,328.26 179.04,330.14 179.74,332.01 180.44,333.87 181.15,335.7 181.85,337.47 182.55,339.17 183.26,340.83 183.96,342.47 184.66,344.09 185.37,345.69 186.07,347.25 186.77,348.77 187.47,350.25 188.18,351.67 188.88,353.04 189.58,354.37 190.29,355.67 190.99,356.95 191.69,358.19 192.39,359.39 193.1,360.55 193.8,361.65 194.5,362.7 195.21,363.67 195.91,364.58 196.61,365.44 197.31,366.27 198.02,367.07 198.72,367.83 199.42,368.55 200.13,369.25 200.83,369.91 201.53,370.54 202.23,371.14 202.94,371.73 203.64,372.31 204.34,372.87 205.05,373.41 205.75,373.92 206.45,374.4 207.15,374.83 207.86,375.22 208.56,375.55 209.26,375.85 209.97,376.13 210.67,376.39 211.37,376.64 212.08,376.87 212.78,377.07 213.48,377.27 214.18,377.44 214.89,377.59 215.59,377.73 216.29,377.87 217,377.99 217.7,378.1 218.4,378.2 219.1,378.3 219.81,378.38 220.51,378.46 221.21,378.53 221.92,378.6 222.62,378.66 223.32,378.72 224.02,378.77 224.73,378.82 225.43,378.86 226.13,378.89 226.84,378.92 227.54,378.95 228.24,378.97 228.94,378.99 229.65,379.02 230.35,379.04 231.05,379.05 231.76,379.07 232.46,379.08 233.16,379.1 233.87,379.11 234.57,379.12 235.27,379.13 235.97,379.14 236.68,379.15 237.38,379.15 238.08,379.16 238.79,379.17 239.49,379.18 240.19,379.18 240.89,379.19 241.6,379.19 242.3,379.2 243,379.2 243.71,379.2 244.41,379.2 245.11,379.2 245.81,379.2 246.52,379.2 247.22,379.2 247.92,379.2 248.63,379.2 249.33,379.2 250.03,379.2 250.73,379.2 251.44,379.2 252.14,379.2 252.84,379.2 253.55,379.2 254.25,379.2 254.95,379.2 255.66,379.2 256.36,379.2 257.06,379.2 257.76,379.2 258.47,379.2 259.17,379.2 259.87,379.2" fill="none" stroke="#111" stroke-width="1.0" stroke-linejoin="round"/>
<polyline points="54.63,347.72 55.33,347.52 56.03,347.31 56.73,347.08 57.44,346.83 58.14,346.57 58.84,346.29 59.55,346 60.25,345.74 60.95,345.47 61.65,345.19 62.36,344.92 63.06,344.68 63.76,344.5 64.47,344.34 65.17,344.2 65.87,344.07 66.57,343.94 67.28,343.81 67.98,343.67 68.68,343.5 69.39,343.31 70.09,343.1 70.79,342.88 71.5,342.64 72.2,342.38 72.9,342.09 73.6,341.78 74.31,341.46 75.01,341.11 75.71,340.73 76.42,340.32 77.12,339.85 77.82,339.34 78.52,338.79 79.23,338.2 79.93,337.58 80.63,336.93 81.34,336.25 82.04,335.46 82.74,334.58 83.44,333.62 84.15,332.61 84.85,331.58 85.55,330.54 86.26,329.54 86.96,328.59 87.66,327.62 88.36,326.63 89.07,325.64 89.77,324.65 90.47,323.7 91.18,322.78 91.88,321.92 92.58,321.14 93.29,320.41 93.99,319.71 94.69,319.05 95.39,318.44 96.1,317.9 96.8,317.42 97.5,316.94 98.21,316.5 98.91,316.16 99.61,315.95 100.31,315.81 101.02,315.71 101.72,315.63 102.42,315.6 103.13,315.73 103.83,315.97 104.53,316.27 105.23,316.57 105.94,316.92 106.64,317.37 107.34,317.9 108.05,318.48 108.75,319.08 109.45,319.69 110.15,320.31 110.86,321.01 111.56,321.81 112.26,322.67 112.97,323.54 113.67,324.37 114.37,325.17 115.08,326 115.78,326.82 116.48,327.59 117.18,328.3 117.89,328.95 118.59,329.57 119.29,330.17 120,330.73 120.7,331.29 121.4,331.9 122.1,332.49 122.81,332.99 123.51,333.33 124.21,333.44 124.92,333.46 125.62,333.43 126.32,333.33 127.02,333.16 127.73,332.9 128.43,332.54 129.13,332.1 129.84,331.64 130.54,331.18 131.24,330.69 131.94,330.17 132.65,329.61 133.35,328.99 134.05,328.32 134.76,327.58 135.46,326.82 136.16,326.05 136.86,325.27 137.57,324.51 138.27,323.76 138.97,323.03 139.68,322.31 140.38,321.58 141.08,320.87 141.79,320.16 142.49,319.46 143.19,318.77 143.89,318.11 144.6,317.44 145.3,316.78 146,316.15 146.71,315.53 147.41,314.96 148.11,314.43 148.81,313.95 149.52,313.44 150.22,312.94 150.92,312.45 151.63,312.01 152.33,311.64 153.03,311.36 153.73,311.18 154.44,311.07 155.14,310.97 155.84,310.91 156.55,310.92 157.25,311.04 157.95,311.24 158.65,311.51 159.36,311.83 160.06,312.2 160.76,312.74 161.47,313.39 162.17,314.09 162.87,314.8 163.58,315.51 164.28,316.25 164.98,317.02 165.68,317.82 166.39,318.65 167.09,319.53 167.79,320.47 168.5,321.45 169.2,322.48 169.9,323.56 170.6,324.71 171.31,325.94 172.01,327.23 172.71,328.56 173.42,329.93 174.12,331.3 174.82,332.68 175.52,334.05 176.23,335.4 176.93,336.78 177.63,338.2 178.34,339.64 179.04,341.09 179.74,342.54 180.44,343.98 181.15,345.38 181.85,346.75 182.55,348.07 183.26,349.35 183.96,350.63 184.66,351.89 185.37,353.12 186.07,354.33 186.77,355.51 187.47,356.66 188.18,357.76 188.88,358.82 189.58,359.85 190.29,360.86 190.99,361.85 191.69,362.82 192.39,363.75 193.1,364.65 193.8,365.51 194.5,366.31 195.21,367.07 195.91,367.77 196.61,368.44 197.31,369.09 198.02,369.7 198.72,370.29 199.42,370.85 200.13,371.39 200.83,371.9 201.53,372.39 202.23,372.86 202.94,373.32 203.64,373.77 204.34,374.21 205.05,374.63 205.75,375.02 206.45,375.39 207.15,375.73 207.86,376.03 208.56,376.29 209.26,376.52 209.97,376.74 210.67,376.95 211.37,377.14 212.08,377.32 212.78,377.48 213.48,377.63 214.18,377.77 214.89,377.89 215.59,378 216.29,378.11 217,378.2 217.7,378.29 218.4,378.37 219.1,378.45 219.81,378.52 220.51,378.58 221.21,378.64 221.92,378.7 222.62,378.75 223.32,378.79 224.02,378.84 224.73,378.88 225.43,378.91 226.13,378.93 226.84,378.96 227.54,378.98 228.24,379 228.94,379.02 229.65,379.04 230.35,379.05 231.05,379.07 231.76,379.08 232.46,379.1 233.16,379.11 233.87,379.12 234.57,379.13 235.27,379.13 235.97,379.14 236.68,379.15 237.38,379.16 238.08,379.17 238.79,379.17 239.49,379.18 240.19,379.18 240.89,379.19 241.6,379.19 242.3,379.2 243,379.2 243.71,379.2 244.41,379.2 245.11,379.2 245.81,379.2 246.52,379.2 247.22,379.2 247.92,379.2 248.63,379.2 249.33,379.2 250.03,379.2 250.73,379.2 251.44,379.2 252.14,379.2 252.84,379.2 253.55,379.2 254.25,379.2 254.95,379.2 255.66,379.2 256.36,379.2 257.06,379.2 257.76,379.2 258.47,379.2 259.17,379.2 259.87,379.2" fill="none" stroke="#111" stroke-width="1.0" stroke-linejoin="round"/>
<polyline points="54.63,344.2 55.33,343.87 56.03,343.53 56.73,343.17 57.44,342.79 58.14,342.39 58.84,341.98 59.55,341.57 60.25,341.19 60.95,340.81 61.65,340.42 62.36,340.05 63.06,339.73 63.76,339.5 64.47,339.32 65.17,339.16 65.87,339.02 66.57,338.89 67.28,338.76 67.98,338.62 68.68,338.46 69.39,338.27 70.09,338.06 70.79,337.83 71.5,337.59 72.2,337.32 72.9,337.03 73.6,336.71 74.31,336.37 75.01,336.01 75.71,335.61 76.42,335.14 77.12,334.62 77.82,334.04 78.52,333.41 79.23,332.73 79.93,332.01 80.63,331.25 81.34,330.45 82.04,329.51 82.74,328.43 83.44,327.27 84.15,326.03 84.85,324.77 85.55,323.51 86.26,322.28 86.96,321.12 87.66,319.94 88.36,318.74 89.07,317.53 89.77,316.33 90.47,315.16 91.18,314.06 91.88,313.03 92.58,312.1 93.29,311.23 93.99,310.41 94.69,309.64 95.39,308.94 96.1,308.33 96.8,307.8 97.5,307.26 98.21,306.79 98.91,306.45 99.61,306.28 100.31,306.22 101.02,306.2 101.72,306.21 102.42,306.3 103.13,306.61 103.83,307.08 104.53,307.64 105.23,308.23 105.94,308.89 106.64,309.69 107.34,310.61 108.05,311.62 108.75,312.67 109.45,313.76 110.15,314.86 110.86,316.09 111.56,317.46 112.26,318.91 112.97,320.38 113.67,321.81 114.37,323.21 115.08,324.64 115.78,326.07 116.48,327.44 117.18,328.71 117.89,329.92 118.59,331.09 119.29,332.21 120,333.31 120.7,334.4 121.4,335.55 122.1,336.68 122.81,337.69 123.51,338.49 124.21,339.02 124.92,339.43 125.62,339.77 126.32,340.04 127.02,340.2 127.73,340.26 128.43,340.19 129.13,340.01 129.84,339.81 130.54,339.6 131.24,339.35 131.94,339.07 132.65,338.75 133.35,338.37 134.05,337.92 134.76,337.41 135.46,336.88 136.16,336.34 136.86,335.79 137.57,335.24 138.27,334.71 138.97,334.19 139.68,333.66 140.38,333.14 141.08,332.62 141.79,332.1 142.49,331.57 143.19,331.04 143.89,330.52 144.6,330 145.3,329.48 146,328.97 146.71,328.48 147.41,328.02 148.11,327.59 148.81,327.19 149.52,326.77 150.22,326.35 150.92,325.94 151.63,325.56 152.33,325.23 153.03,324.98 153.73,324.82 154.44,324.7 155.14,324.61 155.84,324.54 156.55,324.53 157.25,324.59 157.95,324.73 158.65,324.93 159.36,325.17 160.06,325.46 160.76,325.87 161.47,326.36 162.17,326.89 162.87,327.43 163.58,327.99 164.28,328.59 164.98,329.22 165.68,329.87 166.39,330.56 167.09,331.29 167.79,332.08 168.5,332.91 169.2,333.78 169.9,334.69 170.6,335.66 171.31,336.68 172.01,337.76 172.71,338.86 173.42,339.99 174.12,341.12 174.82,342.25 175.52,343.36 176.23,344.45 176.93,345.55 177.63,346.68 178.34,347.82 179.04,348.97 179.74,350.11 180.44,351.24 181.15,352.35 181.85,353.43 182.55,354.47 183.26,355.49 183.96,356.49 184.66,357.49 185.37,358.47 186.07,359.43 186.77,360.36 187.47,361.26 188.18,362.14 188.88,362.98 189.58,363.79 190.29,364.59 190.99,365.38 191.69,366.15 192.39,366.89 193.1,367.6 193.8,368.27 194.5,368.91 195.21,369.51 195.91,370.07 196.61,370.6 197.31,371.11 198.02,371.6 198.72,372.06 199.42,372.51 200.13,372.93 200.83,373.34 201.53,373.73 202.23,374.1 202.94,374.46 203.64,374.82 204.34,375.17 205.05,375.5 205.75,375.81 206.45,376.11 207.15,376.38 207.86,376.61 208.56,376.82 209.26,377.01 209.97,377.18 210.67,377.35 211.37,377.5 212.08,377.64 212.78,377.77 213.48,377.9 214.18,378.01 214.89,378.1 215.59,378.19 216.29,378.28 217,378.36 217.7,378.43 218.4,378.5 219.1,378.56 219.81,378.62 220.51,378.67 221.21,378.72 221.92,378.77 222.62,378.81 223.32,378.85 224.02,378.88 224.73,378.91 225.43,378.94 226.13,378.96 226.84,378.98 227.54,379 228.24,379.02 228.94,379.04 229.65,379.05 230.35,379.07 231.05,379.08 231.76,379.09 232.46,379.1 233.16,379.11 233.87,379.12 234.57,379.13 235.27,379.14 235.97,379.15 236.68,379.15 237.38,379.16 238.08,379.17 238.79,379.17 239.49,379.18 240.19,379.19 240.89,379.19 241.6,379.19 242.3,379.2 243,379.2 243.71,379.2 244.41,379.2 245.11,379.2 245.81,379.2 246.52,379.2 247.22,379.2 247.92,379.2 248.63,379.2 249.33,379.2 250.03,379.2 250.73,379.2 251.44,379.2 252.14,379.2 252.84,379.2 253.55,379.2 254.25,379.2 254.95,379.2 255.66,379.2 256.36,379.2 257.06,379.2 257.76,379.2 258.47,379.2 259.17,379.2 259.87,379.2" fill="none" stroke="#111" stroke-width="1.0" stroke-linejoin="round"/>
<polyline points="54.63,341.21 55.33,340.78 56.03,340.33 56.73,339.86 57.44,339.36 58.14,338.84 58.84,338.32 59.55,337.8 60.25,337.33 60.95,336.86 61.65,336.37 62.36,335.92 63.06,335.53 63.76,335.26 64.47,335.06 65.17,334.89 65.87,334.74 66.57,334.61 67.28,334.48 67.98,334.34 68.68,334.18 69.39,333.99 70.09,333.78 70.79,333.55 71.5,333.3 72.2,333.03 72.9,332.73 73.6,332.41 74.31,332.06 75.01,331.68 75.71,331.25 76.42,330.76 77.12,330.18 77.82,329.55 78.52,328.84 79.23,328.09 79.93,327.28 80.63,326.43 81.34,325.52 82.04,324.45 82.74,323.22 83.44,321.88 84.15,320.45 84.85,318.99 85.55,317.54 86.26,316.12 86.96,314.78 87.66,313.43 88.36,312.04 89.07,310.64 89.77,309.26 90.47,307.93 91.18,306.65 91.88,305.48 92.58,304.42 93.29,303.44 93.99,302.51 94.69,301.65 95.39,300.87 96.1,300.21 96.8,299.63 97.5,299.06 98.21,298.56 98.91,298.21 99.61,298.09 100.31,298.07 101.02,298.13 101.72,298.22 102.42,298.41 103.13,298.88 103.83,299.55 104.53,300.34 105.23,301.17 105.94,302.1 106.64,303.2 107.34,304.46 108.05,305.82 108.75,307.27 109.45,308.77 110.15,310.3 110.86,311.98 111.56,313.83 112.26,315.78 112.97,317.76 113.67,319.71 114.37,321.61 115.08,323.55 115.78,325.48 116.48,327.32 117.18,329.03 117.89,330.68 118.59,332.26 119.29,333.79 120,335.28 120.7,336.76 121.4,338.31 122.1,339.83 122.81,341.22 123.51,342.36 124.21,343.18 124.92,343.88 125.62,344.49 126.32,345.02 127.02,345.43 127.73,345.72 128.43,345.86 129.13,345.87 129.84,345.86 130.54,345.83 131.24,345.77 131.94,345.67 132.65,345.52 133.35,345.31 134.05,345.03 134.76,344.69 135.46,344.33 136.16,343.95 136.86,343.57 137.57,343.19 138.27,342.81 138.97,342.44 139.68,342.06 140.38,341.69 141.08,341.31 141.79,340.93 142.49,340.53 143.19,340.12 143.89,339.71 144.6,339.3 145.3,338.88 146,338.46 146.71,338.06 147.41,337.68 148.11,337.33 148.81,336.99 149.52,336.63 150.22,336.27 150.92,335.91 151.63,335.58 152.33,335.29 153.03,335.06 153.73,334.9 154.44,334.79 155.14,334.69 155.84,334.62 156.55,334.59 157.25,334.62 157.95,334.71 158.65,334.85 159.36,335.04 160.06,335.26 160.76,335.58 161.47,335.95 162.17,336.35 162.87,336.77 163.58,337.22 164.28,337.71 164.98,338.24 165.68,338.79 166.39,339.36 167.09,339.99 167.79,340.67 168.5,341.39 169.2,342.15 169.9,342.92 170.6,343.75 171.31,344.63 172.01,345.54 172.71,346.48 173.42,347.43 174.12,348.39 174.82,349.33 175.52,350.24 176.23,351.14 176.93,352.04 177.63,352.96 178.34,353.88 179.04,354.8 179.74,355.71 180.44,356.61 181.15,357.5 181.85,358.36 182.55,359.2 183.26,360.02 183.96,360.83 184.66,361.64 185.37,362.42 186.07,363.19 186.77,363.94 187.47,364.67 188.18,365.38 188.88,366.05 189.58,366.71 190.29,367.36 190.99,367.99 191.69,368.61 192.39,369.2 193.1,369.78 193.8,370.32 194.5,370.84 195.21,371.32 195.91,371.77 196.61,372.2 197.31,372.61 198.02,373 198.72,373.37 199.42,373.73 200.13,374.07 200.83,374.4 201.53,374.71 202.23,375.01 202.94,375.31 203.64,375.6 204.34,375.88 205.05,376.15 205.75,376.4 206.45,376.64 207.15,376.85 207.86,377.05 208.56,377.21 209.26,377.37 209.97,377.51 210.67,377.64 211.37,377.77 212.08,377.88 212.78,377.99 213.48,378.09 214.18,378.18 214.89,378.26 215.59,378.34 216.29,378.41 217,378.47 217.7,378.53 218.4,378.59 219.1,378.64 219.81,378.69 220.51,378.74 221.21,378.78 221.92,378.82 222.62,378.85 223.32,378.89 224.02,378.92 224.73,378.94 225.43,378.97 226.13,378.99 226.84,379 227.54,379.02 228.24,379.04 228.94,379.05 229.65,379.07 230.35,379.08 231.05,379.09 231.76,379.1 232.46,379.11 233.16,379.12 233.87,379.13 234.57,379.14 235.27,379.14 235.97,379.15 236.68,379.16 237.38,379.16 238.08,379.17 238.79,379.18 239.49,379.18 240.19,379.19 240.89,379.19 241.6,379.19 242.3,379.2 243,379.2 243.71,379.2 244.41,379.2 245.11,379.2 245.81,379.2 246.52,379.2 247.22,379.2 247.92,379.2 248.63,379.2 249.33,379.2 250.03,379.2 250.73,379.2 251.44,379.2 252.14,379.2 252.84,379.2 253.55,379.2 254.25,379.2 254.95,379.2 255.66,379.2 256.36,379.2 257.06,379.2 257.76,379.2 258.47,379.2 259.17,379.2 259.87,379.2" fill="none" stroke="#111" stroke-width="1.0" stroke-linejoin="round"/>
<polyline points="54.63,338.94 55.33,338.42 56.03,337.88 56.73,337.33 57.44,336.74 58.14,336.14 58.84,335.53 59.55,334.94 60.25,334.39 60.95,333.84 61.65,333.29 62.36,332.77 63.06,332.33 63.76,332.03 64.47,331.81 65.17,331.63 65.87,331.48 66.57,331.35 67.28,331.22 67.98,331.08 68.68,330.92 69.39,330.73 70.09,330.52 70.79,330.28 71.5,330.03 72.2,329.76 72.9,329.46 73.6,329.13 74.31,328.77 75.01,328.38 75.71,327.94 76.42,327.41 77.12,326.8 77.82,326.12 78.52,325.37 79.23,324.55 79.93,323.68 80.63,322.75 81.34,321.77 82.04,320.6 82.74,319.25 83.44,317.77 84.15,316.2 84.85,314.59 85.55,312.99 86.26,311.43 86.96,309.96 87.66,308.47 88.36,306.94 89.07,305.4 89.77,303.88 90.47,302.41 91.18,301.01 91.88,299.73 92.58,298.57 93.29,297.51 93.99,296.5 94.69,295.56 95.39,294.73 96.1,294.02 96.8,293.41 97.5,292.8 98.21,292.28 98.91,291.94 99.61,291.84 100.31,291.87 101.02,291.98 101.72,292.14 102.42,292.4 103.13,292.99 103.83,293.81 104.53,294.77 105.23,295.79 105.94,296.92 106.64,298.26 107.34,299.77 108.05,301.41 108.75,303.16 109.45,304.97 110.15,306.82 110.86,308.85 111.56,311.07 112.26,313.41 112.97,315.78 113.67,318.11 114.37,320.39 115.08,322.72 115.78,325.03 116.48,327.23 117.18,329.28 117.89,331.25 118.59,333.15 119.29,334.98 120,336.76 120.7,338.54 121.4,340.39 122.1,342.2 122.81,343.86 123.51,345.27 124.21,346.31 124.92,347.21 125.62,348.04 126.32,348.76 127.02,349.36 127.73,349.82 128.43,350.12 129.13,350.27 129.84,350.4 130.54,350.51 131.24,350.58 131.94,350.61 132.65,350.59 133.35,350.51 134.05,350.36 134.76,350.15 135.46,349.91 136.16,349.66 136.86,349.41 137.57,349.15 138.27,348.89 138.97,348.62 139.68,348.36 140.38,348.1 141.08,347.83 141.79,347.55 142.49,347.24 143.19,346.93 143.89,346.6 144.6,346.26 145.3,345.92 146,345.58 146.71,345.25 147.41,344.93 148.11,344.62 148.81,344.34 149.52,344.03 150.22,343.71 150.92,343.39 151.63,343.1 152.33,342.83 153.03,342.62 153.73,342.46 154.44,342.36 155.14,342.26 155.84,342.18 156.55,342.13 157.25,342.14 157.95,342.19 158.65,342.3 159.36,342.44 160.06,342.62 160.76,342.86 161.47,343.15 162.17,343.45 162.87,343.78 163.58,344.14 164.28,344.55 164.98,345 165.68,345.47 166.39,345.97 167.09,346.51 167.79,347.11 168.5,347.75 169.2,348.42 169.9,349.1 170.6,349.82 171.31,350.59 172.01,351.38 172.71,352.2 173.42,353.02 174.12,353.83 174.82,354.63 175.52,355.41 176.23,356.16 176.93,356.91 177.63,357.67 178.34,358.42 179.04,359.17 179.74,359.91 180.44,360.64 181.15,361.36 181.85,362.07 182.55,362.75 183.26,363.42 183.96,364.09 184.66,364.74 185.37,365.39 186.07,366.02 186.77,366.63 187.47,367.23 188.18,367.8 188.88,368.36 189.58,368.9 190.29,369.43 190.99,369.95 191.69,370.45 192.39,370.94 193.1,371.41 193.8,371.86 194.5,372.28 195.21,372.67 195.91,373.04 196.61,373.39 197.31,373.73 198.02,374.05 198.72,374.35 199.42,374.65 200.13,374.93 200.83,375.2 201.53,375.45 202.23,375.7 202.94,375.94 203.64,376.18 204.34,376.41 205.05,376.63 205.75,376.84 206.45,377.03 207.15,377.21 207.86,377.37 208.56,377.51 209.26,377.63 209.97,377.75 210.67,377.86 211.37,377.97 212.08,378.06 212.78,378.15 213.48,378.24 214.18,378.31 214.89,378.38 215.59,378.44 216.29,378.5 217,378.56 217.7,378.61 218.4,378.66 219.1,378.7 219.81,378.74 220.51,378.78 221.21,378.82 221.92,378.86 222.62,378.89 223.32,378.92 224.02,378.94 224.73,378.97 225.43,378.99 226.13,379 226.84,379.02 227.54,379.03 228.24,379.05 228.94,379.06 229.65,379.07 230.35,379.09 231.05,379.1 231.76,379.11 232.46,379.12 233.16,379.12 233.87,379.13 234.57,379.14 235.27,379.15 235.97,379.15 236.68,379.16 237.38,379.16 238.08,379.17 238.79,379.18 239.49,379.18 240.19,379.19 240.89,379.19 241.6,379.19 242.3,379.2 243,379.2 243.71,379.2 244.41,379.2 245.11,379.2 245.81,379.2 246.52,379.2 247.22,379.2 247.92,379.2 248.63,379.2 249.33,379.2 250.03,379.2 250.73,379.2 251.44,379.2 252.14,379.2 252.84,379.2 253.55,379.2 254.25,379.2 254.95,379.2 255.66,379.2 256.36,379.2 257.06,379.2 257.76,379.2 258.47,379.2 259.17,379.2 259.87,379.2" fill="none" stroke="#111" stroke-width="1.0" stroke-linejoin="round"/>
<polyline points="54.63,337.37 55.33,336.79 56.03,336.2 56.73,335.59 57.44,334.95 58.14,334.28 58.84,333.61 59.55,332.97 60.25,332.36 60.95,331.77 61.65,331.17 62.36,330.61 63.06,330.14 63.76,329.81 64.47,329.58 65.17,329.4 65.87,329.24 66.57,329.1 67.28,328.98 67.98,328.84 68.68,328.68 69.39,328.49 70.09,328.27 70.79,328.04 71.5,327.79 72.2,327.51 72.9,327.21 73.6,326.88 74.31,326.51 75.01,326.11 75.71,325.66 76.42,325.11 77.12,324.48 77.82,323.77 78.52,322.98 79.23,322.12 79.93,321.2 80.63,320.23 81.34,319.19 82.04,317.95 82.74,316.52 83.44,314.95 84.15,313.28 84.85,311.57 85.55,309.86 86.26,308.2 86.96,306.64 87.66,305.06 88.36,303.43 89.07,301.8 89.77,300.18 90.47,298.62 91.18,297.14 91.88,295.77 92.58,294.55 93.29,293.43 93.99,292.37 94.69,291.38 95.39,290.5 96.1,289.76 96.8,289.13 97.5,288.5 98.21,287.97 98.91,287.62 99.61,287.54 100.31,287.61 101.02,287.75 101.72,287.95 102.42,288.27 103.13,288.93 103.83,289.85 104.53,290.94 105.23,292.08 105.94,293.34 106.64,294.84 107.34,296.52 108.05,298.36 108.75,300.3 109.45,302.32 110.15,304.39 110.86,306.65 111.56,309.12 112.26,311.72 112.97,314.36 113.67,316.96 114.37,319.51 115.08,322.11 115.78,324.69 116.48,327.16 117.18,329.47 117.89,331.69 118.59,333.84 119.29,335.92 120,337.95 120.7,339.98 121.4,342.08 122.1,344.14 122.81,346.04 123.51,347.66 124.21,348.9 124.92,349.99 125.62,350.99 126.32,351.88 127.02,352.64 127.73,353.24 128.43,353.68 129.13,353.96 129.84,354.21 130.54,354.43 131.24,354.62 131.94,354.76 132.65,354.85 133.35,354.88 134.05,354.83 134.76,354.72 135.46,354.6 136.16,354.46 136.86,354.3 137.57,354.15 138.27,353.98 138.97,353.82 139.68,353.65 140.38,353.48 141.08,353.3 141.79,353.11 142.49,352.88 143.19,352.64 143.89,352.39 144.6,352.12 145.3,351.84 146,351.56 146.71,351.28 147.41,351.01 148.11,350.75 148.81,350.51 149.52,350.24 150.22,349.96 150.92,349.67 151.63,349.41 152.33,349.16 153.03,348.96 153.73,348.81 154.44,348.71 155.14,348.61 155.84,348.52 156.55,348.47 157.25,348.45 157.95,348.48 158.65,348.54 159.36,348.65 160.06,348.79 160.76,348.97 161.47,349.19 162.17,349.41 162.87,349.66 163.58,349.95 164.28,350.3 164.98,350.68 165.68,351.09 166.39,351.51 167.09,351.99 167.79,352.52 168.5,353.09 169.2,353.68 169.9,354.28 170.6,354.92 171.31,355.59 172.01,356.29 172.71,356.99 173.42,357.7 174.12,358.41 174.82,359.09 175.52,359.74 176.23,360.37 176.93,361 177.63,361.62 178.34,362.23 179.04,362.84 179.74,363.44 180.44,364.03 181.15,364.61 181.85,365.18 182.55,365.73 183.26,366.28 183.96,366.82 184.66,367.35 185.37,367.88 186.07,368.39 186.77,368.89 187.47,369.38 188.18,369.84 188.88,370.29 189.58,370.73 190.29,371.17 190.99,371.59 191.69,372 192.39,372.4 193.1,372.79 193.8,373.15 194.5,373.49 195.21,373.81 195.91,374.11 196.61,374.4 197.31,374.67 198.02,374.93 198.72,375.18 199.42,375.42 200.13,375.65 200.83,375.86 201.53,376.07 202.23,376.28 202.94,376.47 203.64,376.67 204.34,376.86 205.05,377.04 205.75,377.21 206.45,377.37 207.15,377.51 207.86,377.64 208.56,377.76 209.26,377.86 209.97,377.96 210.67,378.05 211.37,378.14 212.08,378.22 212.78,378.29 213.48,378.36 214.18,378.42 214.89,378.48 215.59,378.53 216.29,378.58 217,378.63 217.7,378.67 218.4,378.71 219.1,378.75 219.81,378.79 220.51,378.82 221.21,378.86 221.92,378.89 222.62,378.92 223.32,378.94 224.02,378.96 224.73,378.98 225.43,379 226.13,379.02 226.84,379.03 227.54,379.05 228.24,379.06 228.94,379.07 229.65,379.08 230.35,379.09 231.05,379.1 231.76,379.11 232.46,379.12 233.16,379.13 233.87,379.13 234.57,379.14 235.27,379.15 235.97,379.15 236.68,379.16 237.38,379.17 238.08,379.17 238.79,379.18 239.49,379.18 240.19,379.19 240.89,379.19 241.6,379.19 242.3,379.2 243,379.2 243.71,379.2 244.41,379.2 245.11,379.2 245.81,379.2 246.52,379.2 247.22,379.2 247.92,379.2 248.63,379.2 249.33,379.2 250.03,379.2 250.73,379.2 251.44,379.2 252.14,379.2 252.84,379.2 253.55,379.2 254.25,379.2 254.95,379.2 255.66,379.2 256.36,379.2 257.06,379.2 257.76,379.2 258.47,379.2 259.17,379.2 259.87,379.2" fill="none" stroke="#111" stroke-width="1.0" stroke-linejoin="round"/>
<polyline points="54.63,336.48 55.33,335.87 56.03,335.25 56.73,334.6 57.44,333.92 58.14,333.22 58.84,332.52 59.55,331.85 60.25,331.22 60.95,330.6 61.65,329.96 62.36,329.38 63.06,328.89 63.76,328.54 64.47,328.31 65.17,328.12 65.87,327.97 66.57,327.83 67.28,327.7 67.98,327.56 68.68,327.41 69.39,327.22 70.09,327 70.79,326.76 71.5,326.51 72.2,326.23 72.9,325.93 73.6,325.6 74.31,325.23 75.01,324.82 75.71,324.36 76.42,323.81 77.12,323.16 77.82,322.43 78.52,321.62 79.23,320.74 79.93,319.79 80.63,318.79 81.34,317.73 82.04,316.45 82.74,314.97 83.44,313.35 84.15,311.62 84.85,309.85 85.55,308.08 86.26,306.37 86.96,304.75 87.66,303.12 88.36,301.44 89.07,299.75 89.77,298.08 90.47,296.46 91.18,294.93 91.88,293.52 92.58,292.27 93.29,291.11 93.99,290.02 94.69,289 95.39,288.1 96.1,287.34 96.8,286.7 97.5,286.06 98.21,285.52 98.91,285.17 99.61,285.1 100.31,285.18 101.02,285.34 101.72,285.57 102.42,285.92 103.13,286.62 103.83,287.61 104.53,288.76 105.23,289.97 105.94,291.31 106.64,292.89 107.34,294.67 108.05,296.61 108.75,298.67 109.45,300.81 110.15,302.99 110.86,305.38 111.56,307.99 112.26,310.74 112.97,313.53 113.67,316.29 114.37,318.99 115.08,321.75 115.78,324.49 116.48,327.12 117.18,329.58 117.89,331.96 118.59,334.26 119.29,336.5 120,338.68 120.7,340.87 121.4,343.13 122.1,345.35 122.81,347.4 123.51,349.17 124.21,350.53 124.92,351.73 125.62,352.84 126.32,353.84 127.02,354.7 127.73,355.41 128.43,355.93 129.13,356.28 129.84,356.61 130.54,356.91 131.24,357.17 131.94,357.38 132.65,357.54 133.35,357.64 134.05,357.66 134.76,357.62 135.46,357.56 136.16,357.49 136.86,357.4 137.57,357.31 138.27,357.21 138.97,357.1 139.68,356.99 140.38,356.88 141.08,356.76 141.79,356.62 142.49,356.45 143.19,356.26 143.89,356.04 144.6,355.81 145.3,355.58 146,355.33 146.71,355.09 147.41,354.85 148.11,354.63 148.81,354.41 149.52,354.16 150.22,353.91 150.92,353.65 151.63,353.4 152.33,353.17 153.03,352.98 153.73,352.83 154.44,352.72 155.14,352.62 155.84,352.54 156.55,352.47 157.25,352.44 157.95,352.45 158.65,352.5 159.36,352.58 160.06,352.69 160.76,352.84 161.47,353 162.17,353.18 162.87,353.38 163.58,353.63 164.28,353.93 164.98,354.27 165.68,354.64 166.39,355.02 167.09,355.45 167.79,355.95 168.5,356.47 169.2,357.01 169.9,357.56 170.6,358.14 171.31,358.75 172.01,359.39 172.71,360.03 173.42,360.67 174.12,361.3 174.82,361.91 175.52,362.49 176.23,363.04 176.93,363.58 177.63,364.12 178.34,364.64 179.04,365.16 179.74,365.67 180.44,366.17 181.15,366.66 181.85,367.14 182.55,367.62 183.26,368.09 183.96,368.55 184.66,369.01 185.37,369.45 186.07,369.89 186.77,370.32 187.47,370.73 188.18,371.13 188.88,371.52 189.58,371.89 190.29,372.27 190.99,372.63 191.69,372.98 192.39,373.33 193.1,373.65 193.8,373.97 194.5,374.26 195.21,374.53 195.91,374.79 196.61,375.03 197.31,375.27 198.02,375.49 198.72,375.7 199.42,375.91 200.13,376.1 200.83,376.29 201.53,376.47 202.23,376.64 202.94,376.81 203.64,376.98 204.34,377.14 205.05,377.3 205.75,377.44 206.45,377.58 207.15,377.7 207.86,377.82 208.56,377.91 209.26,378 209.97,378.09 210.67,378.17 211.37,378.24 212.08,378.31 212.78,378.38 213.48,378.44 214.18,378.49 214.89,378.54 215.59,378.59 216.29,378.63 217,378.67 217.7,378.71 218.4,378.75 219.1,378.79 219.81,378.82 220.51,378.85 221.21,378.88 221.92,378.91 222.62,378.93 223.32,378.96 224.02,378.98 224.73,379 225.43,379.01 226.13,379.03 226.84,379.04 227.54,379.05 228.24,379.06 228.94,379.08 229.65,379.09 230.35,379.1 231.05,379.11 231.76,379.11 232.46,379.12 233.16,379.13 233.87,379.14 234.57,379.14 235.27,379.15 235.97,379.16 236.68,379.16 237.38,379.17 238.08,379.17 238.79,379.18 239.49,379.18 240.19,379.19 240.89,379.19 241.6,379.19 242.3,379.2 243,379.2 243.71,379.2 244.41,379.2 245.11,379.2 245.81,379.2 246.52,379.2 247.22,379.2 247.92,379.2 248.63,379.2 249.33,379.2 250.03,379.2 250.73,379.2 251.44,379.2 252.14,379.2 252.84,379.2 253.55,379.2 254.25,379.2 254.95,379.2 255.66,379.2 256.36,379.2 257.06,379.2 257.76,379.2 258.47,379.2 259.17,379.2 259.87,379.2" fill="none" stroke="#111" stroke-width="1.0" stroke-linejoin="round"/>
<polyline points="54.63,335.84 55.33,335.21 56.03,334.56 56.73,333.89 57.44,333.19 58.14,332.46 58.84,331.74 59.55,331.04 60.25,330.39 60.95,329.75 61.65,329.1 62.36,328.49 63.06,327.99 63.76,327.64 64.47,327.4 65.17,327.21 65.87,327.05 66.57,326.91 67.28,326.78 67.98,326.65 68.68,326.49 69.39,326.3 70.09,326.08 70.79,325.85 71.5,325.59 72.2,325.31 72.9,325.01 73.6,324.67 74.31,324.3 75.01,323.9 75.71,323.43 76.42,322.87 77.12,322.21 77.82,321.46 78.52,320.64 79.23,319.74 79.93,318.78 80.63,317.76 81.34,316.67 82.04,315.37 82.74,313.86 83.44,312.19 84.15,310.43 84.85,308.61 85.55,306.8 86.26,305.05 86.96,303.39 87.66,301.72 88.36,300 89.07,298.27 89.77,296.57 90.47,294.91 91.18,293.35 91.88,291.91 92.58,290.62 93.29,289.44 93.99,288.33 94.69,287.29 95.39,286.38 96.1,285.6 96.8,284.95 97.5,284.3 98.21,283.75 98.91,283.41 99.61,283.35 100.31,283.44 101.02,283.62 101.72,283.86 102.42,284.23 103.13,284.97 103.83,286 104.53,287.19 105.23,288.46 105.94,289.86 106.64,291.51 107.34,293.36 108.05,295.38 108.75,297.53 109.45,299.76 110.15,302.04 110.86,304.52 111.56,307.24 112.26,310.1 112.97,313 113.67,315.86 114.37,318.67 115.08,321.53 115.78,324.37 116.48,327.09 117.18,329.64 117.89,332.1 118.59,334.47 119.29,336.78 120,339.02 120.7,341.27 121.4,343.59 122.1,345.87 122.81,347.98 123.51,349.79 124.21,351.2 124.92,352.45 125.62,353.6 126.32,354.64 127.02,355.54 127.73,356.27 128.43,356.82 129.13,357.21 129.84,357.57 130.54,357.89 131.24,358.18 131.94,358.42 132.65,358.61 133.35,358.73 134.05,358.78 134.76,358.77 135.46,358.73 136.16,358.69 136.86,358.63 137.57,358.56 138.27,358.48 138.97,358.4 139.68,358.32 140.38,358.23 141.08,358.13 141.79,358.01 142.49,357.86 143.19,357.68 143.89,357.49 144.6,357.28 145.3,357.06 146,356.83 146.71,356.6 147.41,356.38 148.11,356.16 148.81,355.95 149.52,355.72 150.22,355.47 150.92,355.22 151.63,354.97 152.33,354.75 153.03,354.56 153.73,354.42 154.44,354.31 155.14,354.21 155.84,354.12 156.55,354.06 157.25,354.02 157.95,354.02 158.65,354.06 159.36,354.13 160.06,354.24 160.76,354.37 161.47,354.51 162.17,354.67 162.87,354.85 163.58,355.08 164.28,355.37 164.98,355.69 165.68,356.04 166.39,356.4 167.09,356.82 167.79,357.3 168.5,357.81 169.2,358.33 169.9,358.86 170.6,359.42 171.31,360 172.01,360.61 172.71,361.23 173.42,361.84 174.12,362.44 174.82,363.02 175.52,363.57 176.23,364.09 176.93,364.6 177.63,365.1 178.34,365.59 179.04,366.08 179.74,366.55 180.44,367.01 181.15,367.47 181.85,367.92 182.55,368.36 183.26,368.8 183.96,369.23 184.66,369.66 185.37,370.08 186.07,370.49 186.77,370.88 187.47,371.27 188.18,371.64 188.88,372 189.58,372.35 190.29,372.7 190.99,373.04 191.69,373.37 192.39,373.69 193.1,374 193.8,374.29 194.5,374.56 195.21,374.82 195.91,375.06 196.61,375.28 197.31,375.5 198.02,375.71 198.72,375.91 199.42,376.1 200.13,376.28 200.83,376.45 201.53,376.62 202.23,376.78 202.94,376.94 203.64,377.1 204.34,377.25 205.05,377.4 205.75,377.53 206.45,377.66 207.15,377.78 207.86,377.88 208.56,377.97 209.26,378.06 209.97,378.14 210.67,378.21 211.37,378.28 212.08,378.35 212.78,378.41 213.48,378.47 214.18,378.52 214.89,378.57 215.59,378.61 216.29,378.65 217,378.69 217.7,378.73 218.4,378.76 219.1,378.8 219.81,378.83 220.51,378.86 221.21,378.89 221.92,378.92 222.62,378.94 223.32,378.96 224.02,378.98 224.73,379 225.43,379.02 226.13,379.03 226.84,379.04 227.54,379.06 228.24,379.07 228.94,379.08 229.65,379.09 230.35,379.1 231.05,379.11 231.76,379.12 232.46,379.12 233.16,379.13 233.87,379.14 234.57,379.14 235.27,379.15 235.97,379.16 236.68,379.16 237.38,379.17 238.08,379.17 238.79,379.18 239.49,379.18 240.19,379.19 240.89,379.19 241.6,379.19 242.3,379.2 243,379.2 243.71,379.2 244.41,379.2 245.11,379.2 245.81,379.2 246.52,379.2 247.22,379.2 247.92,379.2 248.63,379.2 249.33,379.2 250.03,379.2 250.73,379.2 251.44,379.2 252.14,379.2 252.84,379.2 253.55,379.2 254.25,379.2 254.95,379.2 255.66,379.2 256.36,379.2 257.06,379.2 257.76,379.2 258.47,379.2 259.17,379.2 259.87,379.2" fill="none" stroke="#111" stroke-width="1.0" stroke-linejoin="round"/>
<polyline points="54.63,335.34 55.33,334.69 56.03,334.03 56.73,333.34 57.44,332.62 58.14,331.87 58.84,331.13 59.55,330.41 60.25,329.75 60.95,329.09 61.65,328.42 62.36,327.8 63.06,327.29 63.76,326.93 64.47,326.69 65.17,326.49 65.87,326.34 66.57,326.2 67.28,326.07 67.98,325.93 68.68,325.78 69.39,325.59 70.09,325.37 70.79,325.13 71.5,324.88 72.2,324.6 72.9,324.29 73.6,323.96 74.31,323.59 75.01,323.17 75.71,322.7 76.42,322.14 77.12,321.47 77.82,320.72 78.52,319.88 79.23,318.97 79.93,317.99 80.63,316.96 81.34,315.85 82.04,314.52 82.74,312.99 83.44,311.29 84.15,309.5 84.85,307.65 85.55,305.81 86.26,304.02 86.96,302.34 87.66,300.64 88.36,298.89 89.07,297.13 89.77,295.39 90.47,293.71 91.18,292.11 91.88,290.65 92.58,289.34 93.29,288.15 93.99,287.01 94.69,285.96 95.39,285.03 96.1,284.25 96.8,283.58 97.5,282.93 98.21,282.38 98.91,282.03 99.61,281.98 100.31,282.08 101.02,282.27 101.72,282.53 102.42,282.92 103.13,283.69 103.83,284.74 104.53,285.98 105.23,287.29 105.94,288.73 106.64,290.44 107.34,292.35 108.05,294.43 108.75,296.64 109.45,298.94 110.15,301.3 110.86,303.86 111.56,306.67 112.26,309.61 112.97,312.6 113.67,315.54 114.37,318.43 115.08,321.37 115.78,324.29 116.48,327.08 117.18,329.69 117.89,332.2 118.59,334.62 119.29,336.97 120,339.26 120.7,341.54 121.4,343.9 122.1,346.22 122.81,348.37 123.51,350.21 124.21,351.65 124.92,352.92 125.62,354.09 126.32,355.16 127.02,356.08 127.73,356.84 128.43,357.41 129.13,357.81 129.84,358.19 130.54,358.53 131.24,358.84 131.94,359.1 132.65,359.3 133.35,359.44 134.05,359.51 134.76,359.51 135.46,359.49 136.16,359.46 136.86,359.42 137.57,359.37 138.27,359.31 138.97,359.24 139.68,359.17 140.38,359.1 141.08,359.02 141.79,358.91 142.49,358.77 143.19,358.61 143.89,358.42 144.6,358.22 145.3,358.01 146,357.79 146.71,357.57 147.41,357.36 148.11,357.15 148.81,356.95 149.52,356.72 150.22,356.48 150.92,356.23 151.63,355.99 152.33,355.78 153.03,355.59 153.73,355.44 154.44,355.34 155.14,355.24 155.84,355.15 156.55,355.08 157.25,355.04 157.95,355.04 158.65,355.07 159.36,355.14 160.06,355.24 160.76,355.36 161.47,355.49 162.17,355.64 162.87,355.8 163.58,356.02 164.28,356.3 164.98,356.61 165.68,356.95 166.39,357.3 167.09,357.71 167.79,358.17 168.5,358.67 169.2,359.18 169.9,359.69 170.6,360.24 171.31,360.81 172.01,361.4 172.71,362 173.42,362.6 174.12,363.18 174.82,363.74 175.52,364.27 176.23,364.77 176.93,365.26 177.63,365.74 178.34,366.21 179.04,366.67 179.74,367.12 180.44,367.56 181.15,367.99 181.85,368.42 182.55,368.84 183.26,369.26 183.96,369.67 184.66,370.08 185.37,370.48 186.07,370.87 186.77,371.25 187.47,371.62 188.18,371.97 188.88,372.31 189.58,372.65 190.29,372.98 190.99,373.31 191.69,373.62 192.39,373.93 193.1,374.22 193.8,374.5 194.5,374.76 195.21,375 195.91,375.23 196.61,375.45 197.31,375.65 198.02,375.85 198.72,376.04 199.42,376.22 200.13,376.4 200.83,376.56 201.53,376.72 202.23,376.88 202.94,377.03 203.64,377.18 204.34,377.32 205.05,377.46 205.75,377.59 206.45,377.72 207.15,377.83 207.86,377.93 208.56,378.01 209.26,378.1 209.97,378.17 210.67,378.24 211.37,378.31 212.08,378.37 212.78,378.43 213.48,378.49 214.18,378.54 214.89,378.58 215.59,378.63 216.29,378.67 217,378.7 217.7,378.74 218.4,378.77 219.1,378.81 219.81,378.84 220.51,378.87 221.21,378.9 221.92,378.92 222.62,378.94 223.32,378.97 224.02,378.99 224.73,379 225.43,379.02 226.13,379.03 226.84,379.05 227.54,379.06 228.24,379.07 228.94,379.08 229.65,379.09 230.35,379.1 231.05,379.11 231.76,379.12 232.46,379.12 233.16,379.13 233.87,379.14 234.57,379.14 235.27,379.15 235.97,379.16 236.68,379.16 237.38,379.17 238.08,379.17 238.79,379.18 239.49,379.18 240.19,379.19 240.89,379.19 241.6,379.19 242.3,379.2 243,379.2 243.71,379.2 244.41,379.2 245.11,379.2 245.81,379.2 246.52,379.2 247.22,379.2 247.92,379.2 248.63,379.2 249.33,379.2 250.03,379.2 250.73,379.2 251.44,379.2 252.14,379.2 252.84,379.2 253.55,379.2 254.25,379.2 254.95,379.2 255.66,379.2 256.36,379.2 257.06,379.2 257.76,379.2 258.47,379.2 259.17,379.2 259.87,379.2" fill="none" stroke="#111" stroke-width="1.0" stroke-linejoin="round"/>
</g>
<rect x="56.5" y="229.9" width="201.5" height="149.3" fill="none" stroke="#7d7d7d" stroke-width="1.3"/>
<line x1="99.6" y1="278.5" x2="99.6" y2="265.3" stroke="#111" stroke-width="1.5"/>
<polygon points="97.3,265.8 101.9,265.8 99.6,259.3" fill="#111"/>
<line x1="154" y1="240.9" x2="154" y2="255.4" stroke="#111" stroke-width="1.5"/>
<polygon points="151.7,254.9 156.3,254.9 154,261.3" fill="#111"/>
<text class="m" x="99" y="256.1" font-size="9.3" text-anchor="middle">333 nm</text>
<text class="m" x="153.8" y="239.7" font-size="9.3" text-anchor="middle">390 nm</text>
<text class="m" x="290.5" y="211" font-size="12.4" text-anchor="start">D</text>
<line x1="336" y1="379.1" x2="336" y2="381.3" stroke="#7d7d7d" stroke-width="1"/>
<text class="m" x="336" y="392.2" font-size="9.4" text-anchor="middle">300</text>
<line x1="403.27" y1="379.1" x2="403.27" y2="381.3" stroke="#7d7d7d" stroke-width="1"/>
<text class="m" x="403.27" y="392.2" font-size="9.4" text-anchor="middle">400</text>
<line x1="470.54" y1="379.1" x2="470.54" y2="381.3" stroke="#7d7d7d" stroke-width="1"/>
<text class="m" x="470.54" y="392.2" font-size="9.4" text-anchor="middle">500</text>
<line x1="537.81" y1="379.1" x2="537.81" y2="381.3" stroke="#7d7d7d" stroke-width="1"/>
<text class="m" x="537.81" y="392.2" font-size="9.4" text-anchor="middle">600</text>
<line x1="333.5" y1="379.1" x2="336" y2="379.1" stroke="#7d7d7d" stroke-width="1"/>
<text class="m" x="331.3" y="381.6" font-size="9.4" text-anchor="end">0.00</text>
<line x1="333.5" y1="341.78" x2="336" y2="341.78" stroke="#7d7d7d" stroke-width="1"/>
<text class="m" x="331.3" y="344.28" font-size="9.4" text-anchor="end">0.04</text>
<line x1="333.5" y1="304.45" x2="336" y2="304.45" stroke="#7d7d7d" stroke-width="1"/>
<text class="m" x="331.3" y="306.95" font-size="9.4" text-anchor="end">0.08</text>
<line x1="333.5" y1="267.13" x2="336" y2="267.13" stroke="#7d7d7d" stroke-width="1"/>
<text class="m" x="331.3" y="269.63" font-size="9.4" text-anchor="end">0.12</text>
<line x1="333.5" y1="229.8" x2="336" y2="229.8" stroke="#7d7d7d" stroke-width="1"/>
<text class="m" x="331.3" y="232.3" font-size="9.4" text-anchor="end">0.16</text>
<text class="m" x="438" y="407.4" font-size="10.6" text-anchor="middle">wavelength (nm)</text>
<text class="m" x="305.6" y="302.8" font-size="10.6" text-anchor="middle" transform="rotate(-90 305.6 302.8)">Absorbance</text>
<defs><clipPath id="cd"><rect x="336" y="229.8" width="201.8" height="149.3"/></clipPath></defs>
<g clip-path="url(#cd)">
<polyline points="333.31,220.47 333.98,232.14 334.65,243.8 335.33,255.11 336,267.13 336.67,282.07 337.35,296.99 338.02,309.79 338.69,318.51 339.36,324.29 340.04,328.71 340.71,332.38 341.38,335.46 342.05,338.04 342.73,340.3 343.4,342.33 344.07,344.08 344.75,345.51 345.42,346.71 346.09,347.78 346.76,348.72 347.44,349.52 348.11,350.17 348.78,350.71 349.45,351.19 350.13,351.62 350.8,352 351.47,352.35 352.14,352.67 352.82,352.97 353.49,353.26 354.16,353.52 354.84,353.76 355.51,353.99 356.18,354.21 356.85,354.42 357.53,354.63 358.2,354.85 358.87,355.07 359.54,355.31 360.22,355.56 360.89,355.84 361.56,356.13 362.24,356.43 362.91,356.72 363.58,357 364.25,357.26 364.93,357.49 365.6,357.68 366.27,357.83 366.94,357.94 367.62,358.06 368.29,358.16 368.96,358.25 369.63,358.32 370.31,358.37 370.98,358.39 371.65,358.33 372.33,358.18 373,357.95 373.67,357.66 374.34,357.32 375.02,356.96 375.69,356.6 376.36,356.24 377.03,355.88 377.71,355.5 378.38,355.1 379.05,354.66 379.73,354.19 380.4,353.68 381.07,353.14 381.74,352.55 382.42,351.92 383.09,351.25 383.76,350.44 384.43,349.5 385.11,348.44 385.78,347.29 386.45,346.07 387.13,344.81 387.8,343.52 388.47,342.23 389.14,340.96 389.82,339.73 390.49,338.47 391.16,337.17 391.83,335.85 392.51,334.52 393.18,333.17 393.85,331.8 394.52,330.44 395.2,329.07 395.87,327.72 396.54,326.37 397.22,325.02 397.89,323.64 398.56,322.25 399.23,320.85 399.91,319.45 400.58,318.05 401.25,316.68 401.92,315.35 402.6,314.05 403.27,312.8 403.94,311.61 404.62,310.42 405.29,309.2 405.96,307.96 406.63,306.74 407.31,305.56 407.98,304.44 408.65,303.41 409.32,302.49 410,301.71 410.67,301.09 411.34,300.65 412.02,300.25 412.69,299.87 413.36,299.53 414.03,299.23 414.71,298.98 415.38,298.8 416.05,298.69 416.72,298.67 417.4,298.72 418.07,298.83 418.74,298.97 419.41,299.13 420.09,299.36 420.76,299.68 421.43,300.08 422.11,300.55 422.78,301.13 423.45,302.03 424.12,303.22 424.8,304.63 425.47,306.19 426.14,307.83 426.81,309.49 427.49,311.27 428.16,313.27 428.83,315.43 429.51,317.67 430.18,319.94 430.85,322.18 431.52,324.49 432.2,326.84 432.87,329.24 433.54,331.64 434.21,334.03 434.89,336.41 435.56,338.79 436.23,341.19 436.9,343.62 437.58,346.12 438.25,348.7 438.92,351.27 439.6,353.72 440.27,356.02 440.94,358.29 441.61,360.46 442.29,362.45 442.96,364.17 443.63,365.66 444.3,367 444.98,368.22 445.65,369.29 446.32,370.23 447,371.11 447.67,371.9 448.34,372.52 449.01,372.95 449.69,373.28 450.36,373.55 451.03,373.79 451.7,374.01 452.38,374.25 453.05,374.51 453.72,374.76 454.4,375 455.07,375.18 455.74,375.33 456.41,375.46 457.09,375.59 457.76,375.7 458.43,375.81 459.1,375.91 459.78,376 460.45,376.09 461.12,376.17 461.79,376.26 462.47,376.33 463.14,376.41 463.81,376.49 464.49,376.56 465.16,376.64 465.83,376.71 466.5,376.79 467.18,376.86 467.85,376.93 468.52,377 469.19,377.06 469.87,377.13 470.54,377.19 471.21,377.24 471.89,377.3 472.56,377.35 473.23,377.4 473.9,377.44 474.58,377.48 475.25,377.51 475.92,377.55 476.59,377.58 477.27,377.6 477.94,377.63 478.61,377.66 479.29,377.69 479.96,377.71 480.63,377.74 481.3,377.76 481.98,377.79 482.65,377.81 483.32,377.83 483.99,377.85 484.67,377.87 485.34,377.89 486.01,377.91 486.68,377.93 487.36,377.95 488.03,377.97 488.7,377.99 489.38,378.01 490.05,378.02 490.72,378.04 491.39,378.06 492.07,378.07 492.74,378.09 493.41,378.1 494.08,378.12 494.76,378.13 495.43,378.15 496.1,378.16 496.78,378.18 497.45,378.2 498.12,378.21 498.79,378.23 499.47,378.24 500.14,378.26 500.81,378.27 501.48,378.29 502.16,378.3 502.83,378.32 503.5,378.34 504.17,378.35 504.85,378.37 505.52,378.39 506.19,378.41 506.87,378.42 507.54,378.44 508.21,378.46 508.88,378.48 509.56,378.5 510.23,378.52 510.9,378.54 511.57,378.56 512.25,378.58 512.92,378.6 513.59,378.62 514.27,378.64 514.94,378.66 515.61,378.68 516.28,378.7 516.96,378.72 517.63,378.74 518.3,378.76 518.97,378.78 519.65,378.8 520.32,378.81 520.99,378.83 521.67,378.85 522.34,378.87 523.01,378.89 523.68,378.9 524.36,378.92 525.03,378.93 525.7,378.95 526.37,378.96 527.05,378.98 527.72,378.99 528.39,379.01 529.06,379.02 529.74,379.03 530.41,379.04 531.08,379.05 531.76,379.06 532.43,379.07 533.1,379.07 533.77,379.08 534.45,379.09 535.12,379.09 535.79,379.1 536.46,379.1 537.14,379.1 537.81,379.1 538.48,379.1 539.16,379.1" fill="none" stroke="#222" stroke-width="0.9" stroke-linejoin="round"/>
<polyline points="333.31,220.47 333.98,232.14 334.65,243.8 335.33,255.22 336,267.13 336.67,281.39 337.35,295.48 338.02,307.48 338.69,315.64 339.36,321.12 340.04,325.29 340.71,328.67 341.38,331.44 342.05,333.73 342.73,335.72 343.4,337.48 344.07,338.99 344.75,340.2 345.42,341.18 346.09,342.02 346.76,342.72 347.44,343.29 348.11,343.72 348.78,344.05 349.45,344.34 350.13,344.59 350.8,344.79 351.47,344.95 352.14,345.09 352.82,345.22 353.49,345.35 354.16,345.47 354.84,345.59 355.51,345.71 356.18,345.81 356.85,345.92 357.53,346.02 358.2,346.15 358.87,346.29 359.54,346.46 360.22,346.67 360.89,346.93 361.56,347.22 362.24,347.53 362.91,347.85 363.58,348.17 364.25,348.48 364.93,348.77 365.6,349.06 366.27,349.32 366.94,349.57 367.62,349.83 368.29,350.11 368.96,350.4 369.63,350.68 370.31,350.95 370.98,351.2 371.65,351.39 372.33,351.51 373,351.58 373.67,351.6 374.34,351.61 375.02,351.61 375.69,351.65 376.36,351.73 377.03,351.83 377.71,351.9 378.38,351.95 379.05,351.97 379.73,352 380.4,351.99 381.07,351.91 381.74,351.77 382.42,351.59 383.09,351.33 383.76,350.95 384.43,350.47 385.11,349.88 385.78,349.19 386.45,348.4 387.13,347.51 387.8,346.58 388.47,345.63 389.14,344.68 389.82,343.74 390.49,342.76 391.16,341.76 391.83,340.72 392.51,339.65 393.18,338.55 393.85,337.43 394.52,336.31 395.2,335.19 395.87,334.07 396.54,332.96 397.22,331.84 397.89,330.71 398.56,329.55 399.23,328.39 399.91,327.23 400.58,326.07 401.25,324.94 401.92,323.82 402.6,322.75 403.27,321.71 403.94,320.72 404.62,319.73 405.29,318.72 405.96,317.69 406.63,316.67 407.31,315.69 407.98,314.75 408.65,313.9 409.32,313.13 410,312.49 410.67,311.97 411.34,311.61 412.02,311.27 412.69,310.96 413.36,310.67 414.03,310.43 414.71,310.22 415.38,310.07 416.05,309.99 416.72,309.98 417.4,310.03 418.07,310.12 418.74,310.25 419.41,310.39 420.09,310.6 420.76,310.88 421.43,311.23 422.11,311.65 422.78,312.16 423.45,312.93 424.12,313.94 424.8,315.14 425.47,316.46 426.14,317.86 426.81,319.27 427.49,320.77 428.16,322.47 428.83,324.29 429.51,326.19 430.18,328.1 430.85,329.99 431.52,331.93 432.2,333.93 432.87,335.95 433.54,337.98 434.21,340 434.89,342.01 435.56,344.02 436.23,346.05 436.9,348.1 437.58,350.21 438.25,352.39 438.92,354.56 439.6,356.63 440.27,358.57 440.94,360.48 441.61,362.32 442.29,364 442.96,365.46 443.63,366.72 444.3,367.86 444.98,368.9 445.65,369.81 446.32,370.62 447,371.38 447.67,372.06 448.34,372.61 449.01,372.99 449.69,373.3 450.36,373.56 451.03,373.79 451.7,374.01 452.38,374.25 453.05,374.5 453.72,374.76 454.4,375 455.07,375.18 455.74,375.33 456.41,375.46 457.09,375.59 457.76,375.7 458.43,375.81 459.1,375.91 459.78,376 460.45,376.09 461.12,376.17 461.79,376.26 462.47,376.33 463.14,376.41 463.81,376.49 464.49,376.56 465.16,376.64 465.83,376.71 466.5,376.79 467.18,376.86 467.85,376.93 468.52,377 469.19,377.06 469.87,377.13 470.54,377.19 471.21,377.24 471.89,377.3 472.56,377.35 473.23,377.4 473.9,377.44 474.58,377.48 475.25,377.51 475.92,377.55 476.59,377.58 477.27,377.6 477.94,377.63 478.61,377.66 479.29,377.69 479.96,377.71 480.63,377.74 481.3,377.76 481.98,377.79 482.65,377.81 483.32,377.83 483.99,377.85 484.67,377.87 485.34,377.89 486.01,377.91 486.68,377.93 487.36,377.95 488.03,377.97 488.7,377.99 489.38,378.01 490.05,378.02 490.72,378.04 491.39,378.06 492.07,378.07 492.74,378.09 493.41,378.1 494.08,378.12 494.76,378.13 495.43,378.15 496.1,378.16 496.78,378.18 497.45,378.2 498.12,378.21 498.79,378.23 499.47,378.24 500.14,378.26 500.81,378.27 501.48,378.29 502.16,378.3 502.83,378.32 503.5,378.34 504.17,378.35 504.85,378.37 505.52,378.39 506.19,378.41 506.87,378.42 507.54,378.44 508.21,378.46 508.88,378.48 509.56,378.5 510.23,378.52 510.9,378.54 511.57,378.56 512.25,378.58 512.92,378.6 513.59,378.62 514.27,378.64 514.94,378.66 515.61,378.68 516.28,378.7 516.96,378.72 517.63,378.74 518.3,378.76 518.97,378.78 519.65,378.8 520.32,378.81 520.99,378.83 521.67,378.85 522.34,378.87 523.01,378.89 523.68,378.9 524.36,378.92 525.03,378.93 525.7,378.95 526.37,378.96 527.05,378.98 527.72,378.99 528.39,379.01 529.06,379.02 529.74,379.03 530.41,379.04 531.08,379.05 531.76,379.06 532.43,379.07 533.1,379.07 533.77,379.08 534.45,379.09 535.12,379.09 535.79,379.1 536.46,379.1 537.14,379.1 537.81,379.1 538.48,379.1 539.16,379.1" fill="none" stroke="#222" stroke-width="0.9" stroke-linejoin="round"/>
<polyline points="333.31,220.47 333.98,232.14 334.65,243.8 335.33,255.29 336,267.13 336.67,281 337.35,294.64 338.02,306.19 338.69,314.05 339.36,319.35 340.04,323.38 340.71,326.6 341.38,329.2 342.05,331.33 342.73,333.16 343.4,334.78 344.07,336.16 344.75,337.25 345.42,338.09 346.09,338.8 346.76,339.37 347.44,339.81 348.11,340.12 348.78,340.34 349.45,340.52 350.13,340.67 350.8,340.76 351.47,340.82 352.14,340.86 352.82,340.9 353.49,340.94 354.16,340.98 354.84,341.03 355.51,341.08 356.18,341.13 356.85,341.17 357.53,341.22 358.2,341.29 358.87,341.39 359.54,341.53 360.22,341.72 360.89,341.96 361.56,342.25 362.24,342.57 362.91,342.91 363.58,343.25 364.25,343.58 364.93,343.9 365.6,344.24 366.27,344.57 366.94,344.9 367.62,345.24 368.29,345.62 368.96,346.01 369.63,346.41 370.31,346.8 370.98,347.18 371.65,347.52 372.33,347.79 373,348.02 373.67,348.22 374.34,348.41 375.02,348.61 375.69,348.88 376.36,349.19 377.03,349.53 377.71,349.86 378.38,350.15 379.05,350.43 379.73,350.72 380.4,350.99 381.07,351.17 381.74,351.3 382.42,351.38 383.09,351.38 383.76,351.27 384.43,351.08 385.11,350.8 385.78,350.4 386.45,349.89 387.13,349.26 387.8,348.56 388.47,347.83 389.14,347.09 389.82,346.34 390.49,345.56 391.16,344.75 391.83,343.9 392.51,343 393.18,342.06 393.85,341.1 394.52,340.14 395.2,339.18 395.87,338.22 396.54,337.26 397.22,336.3 397.89,335.32 398.56,334.32 399.23,333.31 399.91,332.31 400.58,331.31 401.25,330.32 401.92,329.36 402.6,328.43 403.27,327.53 403.94,326.67 404.62,325.81 405.29,324.93 405.96,324.04 406.63,323.15 407.31,322.3 407.98,321.49 408.65,320.75 409.32,320.08 410,319.52 410.67,319.08 411.34,318.76 412.02,318.47 412.69,318.2 413.36,317.95 414.03,317.74 414.71,317.56 415.38,317.44 416.05,317.36 416.72,317.36 417.4,317.41 418.07,317.49 418.74,317.61 419.41,317.75 420.09,317.94 420.76,318.2 421.43,318.52 422.11,318.89 422.78,319.35 423.45,320.04 424.12,320.94 424.8,322 425.47,323.17 426.14,324.4 426.81,325.65 427.49,326.98 428.16,328.47 428.83,330.07 429.51,331.74 430.18,333.42 430.85,335.09 431.52,336.8 432.2,338.55 432.87,340.33 433.54,342.11 434.21,343.89 434.89,345.66 435.56,347.43 436.23,349.22 436.9,351.02 437.58,352.88 438.25,354.8 438.92,356.7 439.6,358.53 440.27,360.23 440.94,361.92 441.61,363.53 442.29,365.01 442.96,366.3 443.63,367.41 444.3,368.42 444.98,369.34 445.65,370.15 446.32,370.88 447,371.56 447.67,372.17 448.34,372.66 449.01,373.02 449.69,373.31 450.36,373.56 451.03,373.79 451.7,374.02 452.38,374.25 453.05,374.5 453.72,374.76 454.4,375 455.07,375.18 455.74,375.33 456.41,375.46 457.09,375.59 457.76,375.7 458.43,375.81 459.1,375.91 459.78,376 460.45,376.09 461.12,376.17 461.79,376.26 462.47,376.33 463.14,376.41 463.81,376.49 464.49,376.56 465.16,376.64 465.83,376.71 466.5,376.79 467.18,376.86 467.85,376.93 468.52,377 469.19,377.06 469.87,377.13 470.54,377.19 471.21,377.24 471.89,377.3 472.56,377.35 473.23,377.4 473.9,377.44 474.58,377.48 475.25,377.51 475.92,377.55 476.59,377.58 477.27,377.6 477.94,377.63 478.61,377.66 479.29,377.69 479.96,377.71 480.63,377.74 481.3,377.76 481.98,377.79 482.65,377.81 483.32,377.83 483.99,377.85 484.67,377.87 485.34,377.89 486.01,377.91 486.68,377.93 487.36,377.95 488.03,377.97 488.7,377.99 489.38,378.01 490.05,378.02 490.72,378.04 491.39,378.06 492.07,378.07 492.74,378.09 493.41,378.1 494.08,378.12 494.76,378.13 495.43,378.15 496.1,378.16 496.78,378.18 497.45,378.2 498.12,378.21 498.79,378.23 499.47,378.24 500.14,378.26 500.81,378.27 501.48,378.29 502.16,378.3 502.83,378.32 503.5,378.34 504.17,378.35 504.85,378.37 505.52,378.39 506.19,378.41 506.87,378.42 507.54,378.44 508.21,378.46 508.88,378.48 509.56,378.5 510.23,378.52 510.9,378.54 511.57,378.56 512.25,378.58 512.92,378.6 513.59,378.62 514.27,378.64 514.94,378.66 515.61,378.68 516.28,378.7 516.96,378.72 517.63,378.74 518.3,378.76 518.97,378.78 519.65,378.8 520.32,378.81 520.99,378.83 521.67,378.85 522.34,378.87 523.01,378.89 523.68,378.9 524.36,378.92 525.03,378.93 525.7,378.95 526.37,378.96 527.05,378.98 527.72,378.99 528.39,379.01 529.06,379.02 529.74,379.03 530.41,379.04 531.08,379.05 531.76,379.06 532.43,379.07 533.1,379.07 533.77,379.08 534.45,379.09 535.12,379.09 535.79,379.1 536.46,379.1 537.14,379.1 537.81,379.1 538.48,379.1 539.16,379.1" fill="none" stroke="#222" stroke-width="0.9" stroke-linejoin="round"/>
<polyline points="333.31,220.47 333.98,232.14 334.65,243.8 335.33,255.34 336,267.13 336.67,280.68 337.35,293.95 338.02,305.12 338.69,312.72 339.36,317.88 340.04,321.8 340.71,324.88 341.38,327.33 342.05,329.33 342.73,331.04 343.4,332.54 344.07,333.81 344.75,334.79 345.42,335.53 346.09,336.13 346.76,336.59 347.44,336.92 348.11,337.13 348.78,337.25 349.45,337.35 350.13,337.41 350.8,337.42 351.47,337.4 352.14,337.35 352.82,337.31 353.49,337.27 354.16,337.25 354.84,337.24 355.51,337.24 356.18,337.24 356.85,337.23 357.53,337.23 358.2,337.26 358.87,337.32 359.54,337.43 360.22,337.6 360.89,337.83 361.56,338.12 362.24,338.45 362.91,338.8 363.58,339.16 364.25,339.51 364.93,339.87 365.6,340.25 366.27,340.63 366.94,341.02 367.62,341.43 368.29,341.89 368.96,342.37 369.63,342.87 370.31,343.36 370.98,343.85 371.65,344.29 372.33,344.69 373,345.05 373.67,345.39 374.34,345.73 375.02,346.1 375.69,346.54 376.36,347.04 377.03,347.58 377.71,348.1 378.38,348.59 379.05,349.07 379.73,349.59 380.4,350.09 381.07,350.49 381.74,350.85 382.42,351.19 383.09,351.43 383.76,351.59 384.43,351.69 385.11,351.72 385.78,351.64 386.45,351.42 387.13,351.05 387.8,350.61 388.47,350.11 389.14,349.59 389.82,349.04 390.49,348.47 391.16,347.85 391.83,347.19 392.51,346.47 393.18,345.7 393.85,344.92 394.52,344.12 395.2,343.32 395.87,342.52 396.54,341.72 397.22,340.92 397.89,340.1 398.56,339.27 399.23,338.42 399.91,337.58 400.58,336.74 401.25,335.92 401.92,335.11 402.6,334.32 403.27,333.57 403.94,332.85 404.62,332.13 405.29,331.38 405.96,330.63 406.63,329.89 407.31,329.16 407.98,328.48 408.65,327.86 409.32,327.3 410,326.82 410.67,326.45 411.34,326.18 412.02,325.94 412.69,325.71 413.36,325.51 414.03,325.33 414.71,325.18 415.38,325.08 416.05,325.02 416.72,325.02 417.4,325.06 418.07,325.15 418.74,325.26 419.41,325.38 420.09,325.56 420.76,325.79 421.43,326.08 422.11,326.42 422.78,326.82 423.45,327.42 424.12,328.21 424.8,329.12 425.47,330.14 426.14,331.2 426.81,332.27 427.49,333.42 428.16,334.7 428.83,336.08 429.51,337.51 430.18,338.95 430.85,340.38 431.52,341.85 432.2,343.35 432.87,344.87 433.54,346.41 434.21,347.93 434.89,349.45 435.56,350.98 436.23,352.51 436.9,354.06 437.58,355.65 438.25,357.3 438.92,358.93 439.6,360.5 440.27,361.96 440.94,363.41 441.61,364.79 442.29,366.06 442.96,367.17 443.63,368.13 444.3,369.01 444.98,369.8 445.65,370.51 446.32,371.14 447,371.74 447.67,372.28 448.34,372.72 449.01,373.05 449.69,373.33 450.36,373.57 451.03,373.8 451.7,374.02 452.38,374.25 453.05,374.5 453.72,374.76 454.4,374.99 455.07,375.18 455.74,375.33 456.41,375.46 457.09,375.59 457.76,375.7 458.43,375.81 459.1,375.91 459.78,376 460.45,376.09 461.12,376.17 461.79,376.26 462.47,376.33 463.14,376.41 463.81,376.49 464.49,376.56 465.16,376.64 465.83,376.71 466.5,376.79 467.18,376.86 467.85,376.93 468.52,377 469.19,377.06 469.87,377.13 470.54,377.19 471.21,377.24 471.89,377.3 472.56,377.35 473.23,377.4 473.9,377.44 474.58,377.48 475.25,377.51 475.92,377.55 476.59,377.58 477.27,377.6 477.94,377.63 478.61,377.66 479.29,377.69 479.96,377.71 480.63,377.74 481.3,377.76 481.98,377.79 482.65,377.81 483.32,377.83 483.99,377.85 484.67,377.87 485.34,377.89 486.01,377.91 486.68,377.93 487.36,377.95 488.03,377.97 488.7,377.99 489.38,378.01 490.05,378.02 490.72,378.04 491.39,378.06 492.07,378.07 492.74,378.09 493.41,378.1 494.08,378.12 494.76,378.13 495.43,378.15 496.1,378.16 496.78,378.18 497.45,378.2 498.12,378.21 498.79,378.23 499.47,378.24 500.14,378.26 500.81,378.27 501.48,378.29 502.16,378.3 502.83,378.32 503.5,378.34 504.17,378.35 504.85,378.37 505.52,378.39 506.19,378.41 506.87,378.42 507.54,378.44 508.21,378.46 508.88,378.48 509.56,378.5 510.23,378.52 510.9,378.54 511.57,378.56 512.25,378.58 512.92,378.6 513.59,378.62 514.27,378.64 514.94,378.66 515.61,378.68 516.28,378.7 516.96,378.72 517.63,378.74 518.3,378.76 518.97,378.78 519.65,378.8 520.32,378.81 520.99,378.83 521.67,378.85 522.34,378.87 523.01,378.89 523.68,378.9 524.36,378.92 525.03,378.93 525.7,378.95 526.37,378.96 527.05,378.98 527.72,378.99 528.39,379.01 529.06,379.02 529.74,379.03 530.41,379.04 531.08,379.05 531.76,379.06 532.43,379.07 533.1,379.07 533.77,379.08 534.45,379.09 535.12,379.09 535.79,379.1 536.46,379.1 537.14,379.1 537.81,379.1 538.48,379.1 539.16,379.1" fill="none" stroke="#222" stroke-width="0.9" stroke-linejoin="round"/>
<polyline points="333.31,220.47 333.98,232.14 334.65,243.8 335.33,255.58 336,267.13 336.67,279.26 337.35,290.83 338.02,300.31 338.69,306.78 339.36,311.31 340.04,314.7 340.71,317.19 341.38,318.99 342.05,320.4 342.73,321.54 343.4,322.49 344.07,323.27 344.75,323.79 345.42,324.06 346.09,324.17 346.76,324.14 347.44,323.99 348.11,323.74 348.78,323.44 349.45,323.15 350.13,322.84 350.8,322.46 351.47,322.06 352.14,321.64 352.82,321.24 353.49,320.87 354.16,320.54 354.84,320.29 355.51,320.06 356.18,319.82 356.85,319.59 357.53,319.38 358.2,319.22 358.87,319.12 359.54,319.09 360.22,319.17 360.89,319.36 361.56,319.64 362.24,320 362.91,320.42 363.58,320.86 364.25,321.3 364.93,321.79 365.6,322.36 366.27,322.99 366.94,323.66 367.62,324.39 368.29,325.21 368.96,326.1 369.63,327.03 370.31,328 370.98,328.98 371.65,329.96 372.33,330.94 373,331.94 373.67,332.97 374.34,334.05 375.02,335.22 375.69,336.56 376.36,338.03 377.03,339.58 377.71,341.13 378.38,342.63 379.05,344.15 379.73,345.73 380.4,347.24 381.07,348.54 381.74,349.69 382.42,350.72 383.09,351.53 383.76,352.2 384.43,352.79 385.11,353.25 385.78,353.57 386.45,353.69 387.13,353.62 387.8,353.45 388.47,353.21 389.14,352.93 389.82,352.61 390.49,352.27 391.16,351.89 391.83,351.45 392.51,350.96 393.18,350.4 393.85,349.82 394.52,349.23 395.2,348.64 395.87,348.04 396.54,347.45 397.22,346.85 397.89,346.23 398.56,345.61 399.23,344.97 399.91,344.34 400.58,343.7 401.25,343.08 401.92,342.46 402.6,341.87 403.27,341.3 403.94,340.75 404.62,340.21 405.29,339.64 405.96,339.07 406.63,338.5 407.31,337.96 407.98,337.44 408.65,336.96 409.32,336.54 410,336.18 410.67,335.89 411.34,335.69 412.02,335.51 412.69,335.34 413.36,335.18 414.03,335.05 414.71,334.94 415.38,334.86 416.05,334.83 416.72,334.83 417.4,334.87 418.07,334.95 418.74,335.04 419.41,335.16 420.09,335.32 420.76,335.52 421.43,335.76 422.11,336.05 422.78,336.39 423.45,336.88 424.12,337.51 424.8,338.24 425.47,339.05 426.14,339.9 426.81,340.76 427.49,341.67 428.16,342.68 428.83,343.77 429.51,344.9 430.18,346.03 430.85,347.16 431.52,348.31 432.2,349.49 432.87,350.7 433.54,351.9 434.21,353.11 434.89,354.31 435.56,355.51 436.23,356.72 436.9,357.95 437.58,359.2 438.25,360.5 438.92,361.78 439.6,363.02 440.27,364.17 440.94,365.31 441.61,366.4 442.29,367.41 442.96,368.28 443.63,369.05 444.3,369.75 444.98,370.39 445.65,370.96 446.32,371.48 447,371.97 447.67,372.42 448.34,372.8 449.01,373.09 449.69,373.34 450.36,373.58 451.03,373.8 451.7,374.02 452.38,374.25 453.05,374.5 453.72,374.76 454.4,374.99 455.07,375.18 455.74,375.33 456.41,375.46 457.09,375.59 457.76,375.7 458.43,375.81 459.1,375.91 459.78,376 460.45,376.09 461.12,376.17 461.79,376.26 462.47,376.33 463.14,376.41 463.81,376.49 464.49,376.56 465.16,376.64 465.83,376.71 466.5,376.79 467.18,376.86 467.85,376.93 468.52,377 469.19,377.06 469.87,377.13 470.54,377.19 471.21,377.24 471.89,377.3 472.56,377.35 473.23,377.4 473.9,377.44 474.58,377.48 475.25,377.51 475.92,377.55 476.59,377.58 477.27,377.6 477.94,377.63 478.61,377.66 479.29,377.69 479.96,377.71 480.63,377.74 481.3,377.76 481.98,377.79 482.65,377.81 483.32,377.83 483.99,377.85 484.67,377.87 485.34,377.89 486.01,377.91 486.68,377.93 487.36,377.95 488.03,377.97 488.7,377.99 489.38,378.01 490.05,378.02 490.72,378.04 491.39,378.06 492.07,378.07 492.74,378.09 493.41,378.1 494.08,378.12 494.76,378.13 495.43,378.15 496.1,378.16 496.78,378.18 497.45,378.2 498.12,378.21 498.79,378.23 499.47,378.24 500.14,378.26 500.81,378.27 501.48,378.29 502.16,378.3 502.83,378.32 503.5,378.34 504.17,378.35 504.85,378.37 505.52,378.39 506.19,378.41 506.87,378.42 507.54,378.44 508.21,378.46 508.88,378.48 509.56,378.5 510.23,378.52 510.9,378.54 511.57,378.56 512.25,378.58 512.92,378.6 513.59,378.62 514.27,378.64 514.94,378.66 515.61,378.68 516.28,378.7 516.96,378.72 517.63,378.74 518.3,378.76 518.97,378.78 519.65,378.8 520.32,378.81 520.99,378.83 521.67,378.85 522.34,378.87 523.01,378.89 523.68,378.9 524.36,378.92 525.03,378.93 525.7,378.95 526.37,378.96 527.05,378.98 527.72,378.99 528.39,379.01 529.06,379.02 529.74,379.03 530.41,379.04 531.08,379.05 531.76,379.06 532.43,379.07 533.1,379.07 533.77,379.08 534.45,379.09 535.12,379.09 535.79,379.1 536.46,379.1 537.14,379.1 537.81,379.1 538.48,379.1 539.16,379.1" fill="none" stroke="#222" stroke-width="0.9" stroke-linejoin="round"/>
<polyline points="333.31,220.47 333.98,232.14 334.65,243.8 335.33,255.66 336,267.13 336.67,278.78 337.35,289.79 338.02,298.71 338.69,304.8 339.36,309.1 340.04,312.32 340.71,314.61 341.38,316.2 342.05,317.4 342.73,318.35 343.4,319.13 344.07,319.74 344.75,320.1 345.42,320.22 346.09,320.16 346.76,319.97 347.44,319.66 348.11,319.26 348.78,318.82 349.45,318.39 350.13,317.95 350.8,317.45 351.47,316.92 352.14,316.38 352.82,315.86 353.49,315.37 354.16,314.95 354.84,314.61 355.51,314.3 356.18,313.98 356.85,313.68 357.53,313.4 358.2,313.17 358.87,313.02 359.54,312.95 360.22,312.99 360.89,313.17 361.56,313.45 362.24,313.82 362.91,314.26 363.58,314.72 364.25,315.19 364.93,315.73 365.6,316.37 366.27,317.08 366.94,317.84 367.62,318.67 368.29,319.61 368.96,320.64 369.63,321.72 370.31,322.84 370.98,323.98 371.65,325.14 372.33,326.31 373,327.51 373.67,328.76 374.34,330.08 375.02,331.51 375.69,333.13 376.36,334.9 377.03,336.76 377.71,338.63 378.38,340.45 379.05,342.28 379.73,344.21 380.4,346.07 381.07,347.68 381.74,349.15 382.42,350.49 383.09,351.59 383.76,352.56 384.43,353.46 385.11,354.25 385.78,354.88 386.45,355.3 387.13,355.5 387.8,355.57 388.47,355.57 389.14,355.5 389.82,355.4 390.49,355.25 391.16,355.07 391.83,354.83 392.51,354.52 393.18,354.13 393.85,353.72 394.52,353.31 395.2,352.88 395.87,352.45 396.54,352.02 397.22,351.59 397.89,351.14 398.56,350.67 399.23,350.21 399.91,349.74 400.58,349.27 401.25,348.81 401.92,348.35 402.6,347.91 403.27,347.48 403.94,347.08 404.62,346.67 405.29,346.25 405.96,345.82 406.63,345.4 407.31,344.99 407.98,344.6 408.65,344.24 409.32,343.93 410,343.66 410.67,343.44 411.34,343.29 412.02,343.16 412.69,343.03 413.36,342.92 414.03,342.82 414.71,342.75 415.38,342.69 416.05,342.67 416.72,342.68 417.4,342.72 418.07,342.79 418.74,342.88 419.41,342.98 420.09,343.12 420.76,343.3 421.43,343.51 422.11,343.75 422.78,344.04 423.45,344.44 424.12,344.95 424.8,345.54 425.47,346.18 426.14,346.86 426.81,347.54 427.49,348.27 428.16,349.07 428.83,349.92 429.51,350.81 430.18,351.7 430.85,352.58 431.52,353.48 432.2,354.41 432.87,355.35 433.54,356.3 434.21,357.25 434.89,358.19 435.56,359.14 436.23,360.09 436.9,361.06 437.58,362.04 438.25,363.06 438.92,364.07 439.6,365.03 440.27,365.94 440.94,366.84 441.61,367.69 442.29,368.48 442.96,369.18 443.63,369.79 444.3,370.35 444.98,370.86 445.65,371.33 446.32,371.75 447,372.16 447.67,372.53 448.34,372.86 449.01,373.12 449.69,373.36 450.36,373.58 451.03,373.8 451.7,374.02 452.38,374.25 453.05,374.49 453.72,374.75 454.4,374.99 455.07,375.18 455.74,375.33 456.41,375.46 457.09,375.59 457.76,375.7 458.43,375.81 459.1,375.91 459.78,376 460.45,376.09 461.12,376.17 461.79,376.26 462.47,376.33 463.14,376.41 463.81,376.49 464.49,376.56 465.16,376.64 465.83,376.71 466.5,376.79 467.18,376.86 467.85,376.93 468.52,377 469.19,377.06 469.87,377.13 470.54,377.19 471.21,377.24 471.89,377.3 472.56,377.35 473.23,377.4 473.9,377.44 474.58,377.48 475.25,377.51 475.92,377.55 476.59,377.58 477.27,377.6 477.94,377.63 478.61,377.66 479.29,377.69 479.96,377.71 480.63,377.74 481.3,377.76 481.98,377.79 482.65,377.81 483.32,377.83 483.99,377.85 484.67,377.87 485.34,377.89 486.01,377.91 486.68,377.93 487.36,377.95 488.03,377.97 488.7,377.99 489.38,378.01 490.05,378.02 490.72,378.04 491.39,378.06 492.07,378.07 492.74,378.09 493.41,378.1 494.08,378.12 494.76,378.13 495.43,378.15 496.1,378.16 496.78,378.18 497.45,378.2 498.12,378.21 498.79,378.23 499.47,378.24 500.14,378.26 500.81,378.27 501.48,378.29 502.16,378.3 502.83,378.32 503.5,378.34 504.17,378.35 504.85,378.37 505.52,378.39 506.19,378.41 506.87,378.42 507.54,378.44 508.21,378.46 508.88,378.48 509.56,378.5 510.23,378.52 510.9,378.54 511.57,378.56 512.25,378.58 512.92,378.6 513.59,378.62 514.27,378.64 514.94,378.66 515.61,378.68 516.28,378.7 516.96,378.72 517.63,378.74 518.3,378.76 518.97,378.78 519.65,378.8 520.32,378.81 520.99,378.83 521.67,378.85 522.34,378.87 523.01,378.89 523.68,378.9 524.36,378.92 525.03,378.93 525.7,378.95 526.37,378.96 527.05,378.98 527.72,378.99 528.39,379.01 529.06,379.02 529.74,379.03 530.41,379.04 531.08,379.05 531.76,379.06 532.43,379.07 533.1,379.07 533.77,379.08 534.45,379.09 535.12,379.09 535.79,379.1 536.46,379.1 537.14,379.1 537.81,379.1 538.48,379.1 539.16,379.1" fill="none" stroke="#222" stroke-width="0.9" stroke-linejoin="round"/>
<polyline points="333.31,220.47 333.98,232.14 334.65,243.8 335.33,255.88 336,267.13 336.67,277.51 337.35,287 338.02,294.42 338.69,299.49 339.36,303.23 340.04,305.98 340.71,307.74 341.38,308.75 342.05,309.42 342.73,309.87 343.4,310.16 344.07,310.32 344.75,310.28 345.42,309.97 346.09,309.48 346.76,308.85 347.44,308.11 348.11,307.3 348.78,306.48 349.45,305.71 350.13,304.93 350.8,304.09 351.47,303.21 352.14,302.34 352.82,301.5 353.49,300.72 354.16,300.03 354.84,299.46 355.51,298.95 356.18,298.42 356.85,297.91 357.53,297.45 358.2,297.05 358.87,296.75 359.54,296.56 360.22,296.53 360.89,296.66 361.56,296.94 362.24,297.35 362.91,297.83 363.58,298.37 364.25,298.92 364.93,299.57 365.6,300.39 366.27,301.33 366.94,302.33 367.62,303.45 368.29,304.71 368.96,306.1 369.63,307.58 370.31,309.12 370.98,310.7 371.65,312.33 372.33,314.03 373,315.8 373.67,317.68 374.34,319.66 375.02,321.81 375.69,324.24 376.36,326.89 377.03,329.66 377.71,332.46 378.38,335.2 379.05,337.96 379.73,340.84 380.4,343.6 381.07,346 381.74,348.16 382.42,350.1 383.09,351.67 383.76,353.05 384.43,354.33 385.11,355.46 385.78,356.38 386.45,357.04 387.13,357.44 387.8,357.71 388.47,357.88 389.14,357.99 389.82,358.04 390.49,358.06 391.16,358.04 391.83,357.97 392.51,357.82 393.18,357.58 393.85,357.32 394.52,357.06 395.2,356.78 395.87,356.5 396.54,356.22 397.22,355.93 397.89,355.63 398.56,355.32 399.23,355.01 399.91,354.69 400.58,354.37 401.25,354.06 401.92,353.75 402.6,353.45 403.27,353.15 403.94,352.88 404.62,352.6 405.29,352.31 405.96,352.01 406.63,351.72 407.31,351.44 407.98,351.17 408.65,350.92 409.32,350.7 410,350.51 410.67,350.37 411.34,350.27 412.02,350.17 412.69,350.09 413.36,350.01 414.03,349.95 414.71,349.9 415.38,349.87 416.05,349.86 416.72,349.87 417.4,349.91 418.07,349.97 418.74,350.05 419.41,350.15 420.09,350.28 420.76,350.43 421.43,350.61 422.11,350.81 422.78,351.05 423.45,351.38 424.12,351.77 424.8,352.23 425.47,352.72 426.14,353.24 426.81,353.76 427.49,354.31 428.16,354.92 428.83,355.56 429.51,356.22 430.18,356.89 430.85,357.54 431.52,358.22 432.2,358.92 432.87,359.62 433.54,360.34 434.21,361.05 434.89,361.76 435.56,362.47 436.23,363.18 436.9,363.91 437.58,364.65 438.25,365.41 438.92,366.16 439.6,366.88 440.27,367.56 440.94,368.23 441.61,368.88 442.29,369.47 442.96,370 443.63,370.46 444.3,370.89 444.98,371.29 445.65,371.66 446.32,372 447,372.33 447.67,372.64 448.34,372.91 449.01,373.15 449.69,373.37 450.36,373.59 451.03,373.81 451.7,374.03 452.38,374.25 453.05,374.49 453.72,374.75 454.4,374.99 455.07,375.18 455.74,375.33 456.41,375.46 457.09,375.59 457.76,375.7 458.43,375.81 459.1,375.91 459.78,376 460.45,376.09 461.12,376.17 461.79,376.26 462.47,376.33 463.14,376.41 463.81,376.49 464.49,376.56 465.16,376.64 465.83,376.71 466.5,376.79 467.18,376.86 467.85,376.93 468.52,377 469.19,377.06 469.87,377.13 470.54,377.19 471.21,377.24 471.89,377.3 472.56,377.35 473.23,377.4 473.9,377.44 474.58,377.48 475.25,377.51 475.92,377.55 476.59,377.58 477.27,377.6 477.94,377.63 478.61,377.66 479.29,377.69 479.96,377.71 480.63,377.74 481.3,377.76 481.98,377.79 482.65,377.81 483.32,377.83 483.99,377.85 484.67,377.87 485.34,377.89 486.01,377.91 486.68,377.93 487.36,377.95 488.03,377.97 488.7,377.99 489.38,378.01 490.05,378.02 490.72,378.04 491.39,378.06 492.07,378.07 492.74,378.09 493.41,378.1 494.08,378.12 494.76,378.13 495.43,378.15 496.1,378.16 496.78,378.18 497.45,378.2 498.12,378.21 498.79,378.23 499.47,378.24 500.14,378.26 500.81,378.27 501.48,378.29 502.16,378.3 502.83,378.32 503.5,378.34 504.17,378.35 504.85,378.37 505.52,378.39 506.19,378.41 506.87,378.42 507.54,378.44 508.21,378.46 508.88,378.48 509.56,378.5 510.23,378.52 510.9,378.54 511.57,378.56 512.25,378.58 512.92,378.6 513.59,378.62 514.27,378.64 514.94,378.66 515.61,378.68 516.28,378.7 516.96,378.72 517.63,378.74 518.3,378.76 518.97,378.78 519.65,378.8 520.32,378.81 520.99,378.83 521.67,378.85 522.34,378.87 523.01,378.89 523.68,378.9 524.36,378.92 525.03,378.93 525.7,378.95 526.37,378.96 527.05,378.98 527.72,378.99 528.39,379.01 529.06,379.02 529.74,379.03 530.41,379.04 531.08,379.05 531.76,379.06 532.43,379.07 533.1,379.07 533.77,379.08 534.45,379.09 535.12,379.09 535.79,379.1 536.46,379.1 537.14,379.1 537.81,379.1 538.48,379.1 539.16,379.1" fill="none" stroke="#222" stroke-width="0.9" stroke-linejoin="round"/>
<polyline points="333.31,220.47 333.98,232.14 334.65,243.8 335.33,255.97 336,267.13 336.67,276.97 337.35,285.83 338.02,292.61 338.69,297.26 339.36,300.76 340.04,303.31 340.71,304.85 341.38,305.62 342.05,306.07 342.73,306.3 343.4,306.38 344.07,306.37 344.75,306.15 345.42,305.66 346.09,304.99 346.76,304.17 347.44,303.25 348.11,302.27 348.78,301.29 349.45,300.37 350.13,299.46 350.8,298.47 351.47,297.45 352.14,296.44 352.82,295.46 353.49,294.56 354.16,293.76 354.84,293.09 355.51,292.49 356.18,291.88 356.85,291.29 357.53,290.74 358.2,290.27 358.87,289.91 359.54,289.67 360.22,289.6 360.89,289.72 361.56,290 362.24,290.42 362.91,290.93 363.58,291.49 364.25,292.08 364.93,292.78 365.6,293.68 366.27,294.7 366.94,295.81 367.62,297.04 368.29,298.44 368.96,299.98 369.63,301.63 370.31,303.35 370.98,305.11 371.65,306.93 372.33,308.84 373,310.85 373.67,312.98 374.34,315.23 375.02,317.67 375.69,320.43 376.36,323.42 377.03,326.55 377.71,329.71 378.38,332.81 379.05,335.95 379.73,339.22 380.4,342.36 381.07,345.11 381.74,347.6 382.42,349.86 383.09,351.73 383.76,353.4 384.43,354.98 385.11,356.4 385.78,357.62 386.45,358.55 387.13,359.19 387.8,359.68 388.47,360.06 389.14,360.36 389.82,360.6 390.49,360.8 391.16,360.97 391.83,361.08 392.51,361.09 393.18,361.01 393.85,360.91 394.52,360.79 395.2,360.67 395.87,360.55 396.54,360.41 397.22,360.27 397.89,360.13 398.56,359.97 399.23,359.81 399.91,359.64 400.58,359.48 401.25,359.31 401.92,359.14 402.6,358.98 403.27,358.82 403.94,358.68 404.62,358.52 405.29,358.36 405.96,358.2 406.63,358.04 407.31,357.88 407.98,357.73 408.65,357.6 409.32,357.47 410,357.37 410.67,357.29 411.34,357.24 412.02,357.19 412.69,357.15 413.36,357.11 414.03,357.08 414.71,357.06 415.38,357.05 416.05,357.05 416.72,357.07 417.4,357.1 418.07,357.16 418.74,357.23 419.41,357.32 420.09,357.43 420.76,357.56 421.43,357.71 422.11,357.88 422.78,358.07 423.45,358.31 424.12,358.6 424.8,358.92 425.47,359.26 426.14,359.62 426.81,359.98 427.49,360.36 428.16,360.77 428.83,361.2 429.51,361.64 430.18,362.08 430.85,362.51 431.52,362.96 432.2,363.42 432.87,363.89 433.54,364.37 434.21,364.84 434.89,365.32 435.56,365.79 436.23,366.27 436.9,366.76 437.58,367.25 438.25,367.75 438.92,368.25 439.6,368.73 440.27,369.19 440.94,369.63 441.61,370.06 442.29,370.46 442.96,370.81 443.63,371.14 444.3,371.44 444.98,371.73 445.65,372 446.32,372.25 447,372.5 447.67,372.74 448.34,372.97 449.01,373.18 449.69,373.39 450.36,373.6 451.03,373.81 451.7,374.03 452.38,374.25 453.05,374.49 453.72,374.75 454.4,374.99 455.07,375.18 455.74,375.33 456.41,375.46 457.09,375.59 457.76,375.7 458.43,375.81 459.1,375.91 459.78,376 460.45,376.09 461.12,376.17 461.79,376.26 462.47,376.33 463.14,376.41 463.81,376.49 464.49,376.56 465.16,376.64 465.83,376.71 466.5,376.79 467.18,376.86 467.85,376.93 468.52,377 469.19,377.06 469.87,377.13 470.54,377.19 471.21,377.24 471.89,377.3 472.56,377.35 473.23,377.4 473.9,377.44 474.58,377.48 475.25,377.51 475.92,377.55 476.59,377.58 477.27,377.6 477.94,377.63 478.61,377.66 479.29,377.69 479.96,377.71 480.63,377.74 481.3,377.76 481.98,377.79 482.65,377.81 483.32,377.83 483.99,377.85 484.67,377.87 485.34,377.89 486.01,377.91 486.68,377.93 487.36,377.95 488.03,377.97 488.7,377.99 489.38,378.01 490.05,378.02 490.72,378.04 491.39,378.06 492.07,378.07 492.74,378.09 493.41,378.1 494.08,378.12 494.76,378.13 495.43,378.15 496.1,378.16 496.78,378.18 497.45,378.2 498.12,378.21 498.79,378.23 499.47,378.24 500.14,378.26 500.81,378.27 501.48,378.29 502.16,378.3 502.83,378.32 503.5,378.34 504.17,378.35 504.85,378.37 505.52,378.39 506.19,378.41 506.87,378.42 507.54,378.44 508.21,378.46 508.88,378.48 509.56,378.5 510.23,378.52 510.9,378.54 511.57,378.56 512.25,378.58 512.92,378.6 513.59,378.62 514.27,378.64 514.94,378.66 515.61,378.68 516.28,378.7 516.96,378.72 517.63,378.74 518.3,378.76 518.97,378.78 519.65,378.8 520.32,378.81 520.99,378.83 521.67,378.85 522.34,378.87 523.01,378.89 523.68,378.9 524.36,378.92 525.03,378.93 525.7,378.95 526.37,378.96 527.05,378.98 527.72,378.99 528.39,379.01 529.06,379.02 529.74,379.03 530.41,379.04 531.08,379.05 531.76,379.06 532.43,379.07 533.1,379.07 533.77,379.08 534.45,379.09 535.12,379.09 535.79,379.1 536.46,379.1 537.14,379.1 537.81,379.1 538.48,379.1 539.16,379.1" fill="none" stroke="#222" stroke-width="0.9" stroke-linejoin="round"/>
<polyline points="333.31,220.47 333.98,232.14 334.65,243.8 335.33,256.07 336,267.13 336.67,276.36 337.35,284.48 338.02,290.54 338.69,294.7 339.36,297.92 340.04,300.25 340.71,301.53 341.38,302.02 342.05,302.21 342.73,302.2 343.4,302.05 344.07,301.82 344.75,301.4 345.42,300.71 346.09,299.83 346.76,298.8 347.44,297.67 348.11,296.5 348.78,295.34 349.45,294.25 350.13,293.17 350.8,292.02 351.47,290.83 352.14,289.66 352.82,288.53 353.49,287.48 354.16,286.55 354.84,285.78 355.51,285.08 356.18,284.36 356.85,283.68 357.53,283.04 358.2,282.49 358.87,282.05 359.54,281.76 360.22,281.65 360.89,281.75 361.56,282.03 362.24,282.46 362.91,282.99 363.58,283.59 364.25,284.22 364.93,284.98 365.6,285.96 366.27,287.09 366.94,288.32 367.62,289.69 368.29,291.25 368.96,292.96 369.63,294.8 370.31,296.72 370.98,298.69 371.65,300.75 372.33,302.91 373,305.19 373.67,307.61 374.34,310.18 375.02,312.97 375.69,316.11 376.36,319.52 377.03,323.08 377.71,326.68 378.38,330.22 379.05,333.79 379.73,337.52 380.4,341.1 381.07,344.24 381.74,347.08 382.42,349.65 383.09,351.78 383.76,353.68 384.43,355.49 385.11,357.13 385.78,358.54 386.45,359.65 387.13,360.44 387.8,361.07 388.47,361.58 389.14,362 389.82,362.36 390.49,362.68 391.16,362.96 391.83,363.18 392.51,363.31 393.18,363.33 393.85,363.33 394.52,363.32 395.2,363.3 395.87,363.28 396.54,363.25 397.22,363.21 397.89,363.16 398.56,363.11 399.23,363.05 399.91,362.99 400.58,362.92 401.25,362.85 401.92,362.79 402.6,362.72 403.27,362.65 403.94,362.59 404.62,362.52 405.29,362.45 405.96,362.38 406.63,362.31 407.31,362.24 407.98,362.17 408.65,362.1 409.32,362.05 410,362 410.67,361.97 411.34,361.95 412.02,361.93 412.69,361.91 413.36,361.9 414.03,361.89 414.71,361.89 415.38,361.89 416.05,361.9 416.72,361.92 417.4,361.96 418.07,362.01 418.74,362.08 419.41,362.16 420.09,362.26 420.76,362.37 421.43,362.5 422.11,362.65 422.78,362.81 423.45,362.99 424.12,363.2 424.8,363.43 425.47,363.68 426.14,363.93 426.81,364.18 427.49,364.45 428.16,364.72 428.83,365.01 429.51,365.3 430.18,365.58 430.85,365.87 431.52,366.16 432.2,366.47 432.87,366.78 433.54,367.09 434.21,367.41 434.89,367.72 435.56,368.04 436.23,368.36 436.9,368.68 437.58,369.01 438.25,369.34 438.92,369.66 439.6,369.98 440.27,370.28 440.94,370.57 441.61,370.86 442.29,371.12 442.96,371.37 443.63,371.59 444.3,371.81 444.98,372.02 445.65,372.22 446.32,372.42 447,372.62 447.67,372.81 448.34,373.01 449.01,373.2 449.69,373.39 450.36,373.6 451.03,373.81 451.7,374.03 452.38,374.25 453.05,374.49 453.72,374.75 454.4,374.99 455.07,375.18 455.74,375.33 456.41,375.46 457.09,375.59 457.76,375.7 458.43,375.81 459.1,375.91 459.78,376 460.45,376.09 461.12,376.17 461.79,376.26 462.47,376.33 463.14,376.41 463.81,376.49 464.49,376.56 465.16,376.64 465.83,376.71 466.5,376.79 467.18,376.86 467.85,376.93 468.52,377 469.19,377.06 469.87,377.13 470.54,377.19 471.21,377.24 471.89,377.3 472.56,377.35 473.23,377.4 473.9,377.44 474.58,377.48 475.25,377.51 475.92,377.55 476.59,377.58 477.27,377.6 477.94,377.63 478.61,377.66 479.29,377.69 479.96,377.71 480.63,377.74 481.3,377.76 481.98,377.79 482.65,377.81 483.32,377.83 483.99,377.85 484.67,377.87 485.34,377.89 486.01,377.91 486.68,377.93 487.36,377.95 488.03,377.97 488.7,377.99 489.38,378.01 490.05,378.02 490.72,378.04 491.39,378.06 492.07,378.07 492.74,378.09 493.41,378.1 494.08,378.12 494.76,378.13 495.43,378.15 496.1,378.16 496.78,378.18 497.45,378.2 498.12,378.21 498.79,378.23 499.47,378.24 500.14,378.26 500.81,378.27 501.48,378.29 502.16,378.3 502.83,378.32 503.5,378.34 504.17,378.35 504.85,378.37 505.52,378.39 506.19,378.41 506.87,378.42 507.54,378.44 508.21,378.46 508.88,378.48 509.56,378.5 510.23,378.52 510.9,378.54 511.57,378.56 512.25,378.58 512.92,378.6 513.59,378.62 514.27,378.64 514.94,378.66 515.61,378.68 516.28,378.7 516.96,378.72 517.63,378.74 518.3,378.76 518.97,378.78 519.65,378.8 520.32,378.81 520.99,378.83 521.67,378.85 522.34,378.87 523.01,378.89 523.68,378.9 524.36,378.92 525.03,378.93 525.7,378.95 526.37,378.96 527.05,378.98 527.72,378.99 528.39,379.01 529.06,379.02 529.74,379.03 530.41,379.04 531.08,379.05 531.76,379.06 532.43,379.07 533.1,379.07 533.77,379.08 534.45,379.09 535.12,379.09 535.79,379.1 536.46,379.1 537.14,379.1 537.81,379.1 538.48,379.1 539.16,379.1" fill="none" stroke="#222" stroke-width="0.9" stroke-linejoin="round"/>
<polyline points="333.31,220.47 333.98,232.14 334.65,243.8 335.33,256.19 336,267.13 336.67,275.64 337.35,282.9 338.02,288.11 338.69,291.69 339.36,294.59 340.04,296.65 340.71,297.62 341.38,297.78 342.05,297.67 342.73,297.37 343.4,296.95 344.07,296.47 344.75,295.82 345.42,294.89 346.09,293.76 346.76,292.48 347.44,291.11 348.11,289.7 348.78,288.33 349.45,287.04 350.13,285.77 350.8,284.42 351.47,283.05 352.14,281.68 352.82,280.37 353.49,279.16 354.16,278.07 354.84,277.17 355.51,276.35 356.18,275.52 356.85,274.72 357.53,273.98 358.2,273.33 358.87,272.81 359.54,272.45 360.22,272.3 360.89,272.37 361.56,272.65 362.24,273.09 362.91,273.66 363.58,274.3 364.25,274.98 364.93,275.8 365.6,276.88 366.27,278.14 366.94,279.51 367.62,281.03 368.29,282.78 368.96,284.7 369.63,286.77 370.31,288.93 370.98,291.15 371.65,293.48 372.33,295.94 373,298.55 373.67,301.33 374.34,304.28 375.02,307.48 375.69,311.09 376.36,315.01 377.03,319.1 377.71,323.24 378.38,327.3 379.05,331.42 379.73,335.69 380.4,339.78 381.07,343.36 381.74,346.57 382.42,349.45 383.09,351.82 383.76,353.91 384.43,355.88 385.11,357.64 385.78,359.15 386.45,360.33 387.13,361.17 387.8,361.85 388.47,362.42 389.14,362.88 389.82,363.28 390.49,363.65 391.16,363.99 391.83,364.26 392.51,364.43 393.18,364.5 393.85,364.55 394.52,364.59 395.2,364.63 395.87,364.65 396.54,364.67 397.22,364.68 397.89,364.68 398.56,364.68 399.23,364.67 399.91,364.66 400.58,364.65 401.25,364.63 401.92,364.61 402.6,364.59 403.27,364.57 403.94,364.55 404.62,364.53 405.29,364.5 405.96,364.47 406.63,364.44 407.31,364.41 407.98,364.38 408.65,364.36 409.32,364.34 410,364.32 410.67,364.31 411.34,364.3 412.02,364.3 412.69,364.29 413.36,364.29 414.03,364.3 414.71,364.3 415.38,364.32 416.05,364.33 416.72,364.35 417.4,364.39 418.07,364.44 418.74,364.5 419.41,364.58 420.09,364.68 420.76,364.78 421.43,364.9 422.11,365.03 422.78,365.17 423.45,365.33 424.12,365.51 424.8,365.69 425.47,365.89 426.14,366.08 426.81,366.28 427.49,366.49 428.16,366.7 428.83,366.91 429.51,367.13 430.18,367.34 430.85,367.55 431.52,367.76 432.2,367.99 432.87,368.22 433.54,368.45 434.21,368.69 434.89,368.93 435.56,369.16 436.23,369.4 436.9,369.64 437.58,369.89 438.25,370.13 438.92,370.37 439.6,370.6 440.27,370.83 440.94,371.05 441.61,371.26 442.29,371.46 442.96,371.64 443.63,371.82 444.3,372 444.98,372.17 445.65,372.33 446.32,372.5 447,372.67 447.67,372.85 448.34,373.03 449.01,373.21 449.69,373.4 450.36,373.6 451.03,373.81 451.7,374.03 452.38,374.25 453.05,374.49 453.72,374.75 454.4,374.99 455.07,375.18 455.74,375.33 456.41,375.46 457.09,375.59 457.76,375.7 458.43,375.81 459.1,375.91 459.78,376 460.45,376.09 461.12,376.17 461.79,376.26 462.47,376.33 463.14,376.41 463.81,376.49 464.49,376.56 465.16,376.64 465.83,376.71 466.5,376.79 467.18,376.86 467.85,376.93 468.52,377 469.19,377.06 469.87,377.13 470.54,377.19 471.21,377.24 471.89,377.3 472.56,377.35 473.23,377.4 473.9,377.44 474.58,377.48 475.25,377.51 475.92,377.55 476.59,377.58 477.27,377.6 477.94,377.63 478.61,377.66 479.29,377.69 479.96,377.71 480.63,377.74 481.3,377.76 481.98,377.79 482.65,377.81 483.32,377.83 483.99,377.85 484.67,377.87 485.34,377.89 486.01,377.91 486.68,377.93 487.36,377.95 488.03,377.97 488.7,377.99 489.38,378.01 490.05,378.02 490.72,378.04 491.39,378.06 492.07,378.07 492.74,378.09 493.41,378.1 494.08,378.12 494.76,378.13 495.43,378.15 496.1,378.16 496.78,378.18 497.45,378.2 498.12,378.21 498.79,378.23 499.47,378.24 500.14,378.26 500.81,378.27 501.48,378.29 502.16,378.3 502.83,378.32 503.5,378.34 504.17,378.35 504.85,378.37 505.52,378.39 506.19,378.41 506.87,378.42 507.54,378.44 508.21,378.46 508.88,378.48 509.56,378.5 510.23,378.52 510.9,378.54 511.57,378.56 512.25,378.58 512.92,378.6 513.59,378.62 514.27,378.64 514.94,378.66 515.61,378.68 516.28,378.7 516.96,378.72 517.63,378.74 518.3,378.76 518.97,378.78 519.65,378.8 520.32,378.81 520.99,378.83 521.67,378.85 522.34,378.87 523.01,378.89 523.68,378.9 524.36,378.92 525.03,378.93 525.7,378.95 526.37,378.96 527.05,378.98 527.72,378.99 528.39,379.01 529.06,379.02 529.74,379.03 530.41,379.04 531.08,379.05 531.76,379.06 532.43,379.07 533.1,379.07 533.77,379.08 534.45,379.09 535.12,379.09 535.79,379.1 536.46,379.1 537.14,379.1 537.81,379.1 538.48,379.1 539.16,379.1" fill="none" stroke="#222" stroke-width="0.9" stroke-linejoin="round"/>
<polyline points="333.31,220.47 333.98,232.14 334.65,243.8 335.33,256.31 336,267.13 336.67,274.95 337.35,281.4 338.02,285.79 338.69,288.82 339.36,291.42 340.04,293.23 340.71,293.91 341.38,293.76 342.05,293.36 342.73,292.79 343.4,292.11 344.07,291.39 344.75,290.51 345.42,289.36 346.09,287.99 346.76,286.47 347.44,284.87 348.11,283.25 348.78,281.67 349.45,280.19 350.13,278.74 350.8,277.21 351.47,275.65 352.14,274.11 352.82,272.62 353.49,271.25 354.16,270.02 354.84,268.99 355.51,268.06 356.18,267.12 356.85,266.21 357.53,265.37 358.2,264.63 358.87,264.03 359.54,263.61 360.22,263.41 360.89,263.46 361.56,263.74 362.24,264.2 362.91,264.8 363.58,265.48 364.25,266.19 364.93,267.08 365.6,268.26 366.27,269.64 366.94,271.14 367.62,272.82 368.29,274.74 368.96,276.86 369.63,279.14 370.31,281.52 370.98,283.99 371.65,286.57 372.33,289.32 373,292.24 373.67,295.36 374.34,298.68 375.02,302.28 375.69,306.33 376.36,310.72 377.03,315.31 377.71,319.96 378.38,324.53 379.05,329.16 379.73,333.95 380.4,338.53 381.07,342.52 381.74,346.09 382.42,349.27 383.09,351.86 383.76,354.13 384.43,356.24 385.11,358.13 385.78,359.73 386.45,360.98 387.13,361.88 387.8,362.61 388.47,363.22 389.14,363.73 389.82,364.17 390.49,364.58 391.16,364.97 391.83,365.29 392.51,365.52 393.18,365.63 393.85,365.73 394.52,365.82 395.2,365.9 395.87,365.97 396.54,366.03 397.22,366.09 397.89,366.14 398.56,366.19 399.23,366.23 399.91,366.27 400.58,366.3 401.25,366.33 401.92,366.36 402.6,366.39 403.27,366.41 403.94,366.43 404.62,366.45 405.29,366.47 405.96,366.48 406.63,366.49 407.31,366.51 407.98,366.52 408.65,366.53 409.32,366.54 410,366.54 410.67,366.55 411.34,366.56 412.02,366.57 412.69,366.58 413.36,366.6 414.03,366.61 414.71,366.63 415.38,366.65 416.05,366.67 416.72,366.69 417.4,366.72 418.07,366.77 418.74,366.83 419.41,366.91 420.09,367 420.76,367.1 421.43,367.21 422.11,367.33 422.78,367.45 423.45,367.58 424.12,367.72 424.8,367.86 425.47,368.01 426.14,368.16 426.81,368.3 427.49,368.45 428.16,368.6 428.83,368.74 429.51,368.89 430.18,369.02 430.85,369.16 431.52,369.3 432.2,369.45 432.87,369.6 433.54,369.76 434.21,369.92 434.89,370.08 435.56,370.24 436.23,370.41 436.9,370.57 437.58,370.73 438.25,370.89 438.92,371.05 439.6,371.2 440.27,371.36 440.94,371.5 441.61,371.64 442.29,371.78 442.96,371.91 443.63,372.04 444.3,372.17 444.98,372.31 445.65,372.44 446.32,372.58 447,372.73 447.67,372.88 448.34,373.04 449.01,373.22 449.69,373.4 450.36,373.6 451.03,373.81 451.7,374.03 452.38,374.25 453.05,374.49 453.72,374.75 454.4,374.99 455.07,375.18 455.74,375.33 456.41,375.46 457.09,375.59 457.76,375.7 458.43,375.81 459.1,375.91 459.78,376 460.45,376.09 461.12,376.17 461.79,376.26 462.47,376.33 463.14,376.41 463.81,376.49 464.49,376.56 465.16,376.64 465.83,376.71 466.5,376.79 467.18,376.86 467.85,376.93 468.52,377 469.19,377.06 469.87,377.13 470.54,377.19 471.21,377.24 471.89,377.3 472.56,377.35 473.23,377.4 473.9,377.44 474.58,377.48 475.25,377.51 475.92,377.55 476.59,377.58 477.27,377.6 477.94,377.63 478.61,377.66 479.29,377.69 479.96,377.71 480.63,377.74 481.3,377.76 481.98,377.79 482.65,377.81 483.32,377.83 483.99,377.85 484.67,377.87 485.34,377.89 486.01,377.91 486.68,377.93 487.36,377.95 488.03,377.97 488.7,377.99 489.38,378.01 490.05,378.02 490.72,378.04 491.39,378.06 492.07,378.07 492.74,378.09 493.41,378.1 494.08,378.12 494.76,378.13 495.43,378.15 496.1,378.16 496.78,378.18 497.45,378.2 498.12,378.21 498.79,378.23 499.47,378.24 500.14,378.26 500.81,378.27 501.48,378.29 502.16,378.3 502.83,378.32 503.5,378.34 504.17,378.35 504.85,378.37 505.52,378.39 506.19,378.41 506.87,378.42 507.54,378.44 508.21,378.46 508.88,378.48 509.56,378.5 510.23,378.52 510.9,378.54 511.57,378.56 512.25,378.58 512.92,378.6 513.59,378.62 514.27,378.64 514.94,378.66 515.61,378.68 516.28,378.7 516.96,378.72 517.63,378.74 518.3,378.76 518.97,378.78 519.65,378.8 520.32,378.81 520.99,378.83 521.67,378.85 522.34,378.87 523.01,378.89 523.68,378.9 524.36,378.92 525.03,378.93 525.7,378.95 526.37,378.96 527.05,378.98 527.72,378.99 528.39,379.01 529.06,379.02 529.74,379.03 530.41,379.04 531.08,379.05 531.76,379.06 532.43,379.07 533.1,379.07 533.77,379.08 534.45,379.09 535.12,379.09 535.79,379.1 536.46,379.1 537.14,379.1 537.81,379.1 538.48,379.1 539.16,379.1" fill="none" stroke="#222" stroke-width="0.9" stroke-linejoin="round"/>
</g>
<rect x="336" y="229.8" width="201.8" height="149.3" fill="none" stroke="#7d7d7d" stroke-width="1.3"/>
<line x1="359.5" y1="259.9" x2="359.5" y2="251.3" stroke="#111" stroke-width="1.1"/>
<polygon points="357.85,251.8 361.15,251.8 359.5,247.5" fill="#111"/>
<line x1="416.5" y1="285.1" x2="416.5" y2="293.3" stroke="#111" stroke-width="1.1"/>
<polygon points="414.85,292.8 418.15,292.8 416.5,297" fill="#111"/>
<line x1="449.6" y1="299.8" x2="449.6" y2="300.8" stroke="#777" stroke-width="0.5"/>
<text class="s" x="449.6" y="305.8" font-size="4.3" text-anchor="middle" fill="#333">0.0</text>
<line x1="463.15" y1="299.8" x2="463.15" y2="300.8" stroke="#777" stroke-width="0.5"/>
<text class="s" x="463.15" y="305.8" font-size="4.3" text-anchor="middle" fill="#333">0.5</text>
<line x1="476.7" y1="299.8" x2="476.7" y2="300.8" stroke="#777" stroke-width="0.5"/>
<text class="s" x="476.7" y="305.8" font-size="4.3" text-anchor="middle" fill="#333">1.0</text>
<line x1="490.25" y1="299.8" x2="490.25" y2="300.8" stroke="#777" stroke-width="0.5"/>
<text class="s" x="490.25" y="305.8" font-size="4.3" text-anchor="middle" fill="#333">1.5</text>
<line x1="503.8" y1="299.8" x2="503.8" y2="300.8" stroke="#777" stroke-width="0.5"/>
<text class="s" x="503.8" y="305.8" font-size="4.3" text-anchor="middle" fill="#333">2.0</text>
<line x1="517.35" y1="299.8" x2="517.35" y2="300.8" stroke="#777" stroke-width="0.5"/>
<text class="s" x="517.35" y="305.8" font-size="4.3" text-anchor="middle" fill="#333">2.5</text>
<line x1="530.9" y1="299.8" x2="530.9" y2="300.8" stroke="#777" stroke-width="0.5"/>
<text class="s" x="530.9" y="305.8" font-size="4.3" text-anchor="middle" fill="#333">3.0</text>
<line x1="448.2" y1="298.3" x2="449.2" y2="298.3" stroke="#777" stroke-width="0.5"/>
<text class="s" x="447.4" y="299.8" font-size="4.3" text-anchor="end" fill="#333">0.00</text>
<line x1="448.2" y1="285.92" x2="449.2" y2="285.92" stroke="#777" stroke-width="0.5"/>
<text class="s" x="447.4" y="287.42" font-size="4.3" text-anchor="end" fill="#333">0.02</text>
<line x1="448.2" y1="273.54" x2="449.2" y2="273.54" stroke="#777" stroke-width="0.5"/>
<text class="s" x="447.4" y="275.04" font-size="4.3" text-anchor="end" fill="#333">0.04</text>
<line x1="448.2" y1="261.16" x2="449.2" y2="261.16" stroke="#777" stroke-width="0.5"/>
<text class="s" x="447.4" y="262.66" font-size="4.3" text-anchor="end" fill="#333">0.06</text>
<line x1="448.2" y1="248.78" x2="449.2" y2="248.78" stroke="#777" stroke-width="0.5"/>
<text class="s" x="447.4" y="250.28" font-size="4.3" text-anchor="end" fill="#333">0.08</text>
<line x1="448.2" y1="236.4" x2="449.2" y2="236.4" stroke="#777" stroke-width="0.5"/>
<text class="s" x="447.4" y="237.9" font-size="4.3" text-anchor="end" fill="#333">0.10</text>
<text class="s" x="495.3" y="313" font-size="5.0" text-anchor="middle" fill="#333">L-cysteine (mM)</text>
<text x="436.8" y="263" font-size="4.6" text-anchor="middle" transform="rotate(-90 436.8 263)" fill="#555">&#916;Abs</text>
<defs><clipPath id="cdi"><rect x="449.2" y="229.8" width="86.5" height="70"/></clipPath></defs>
<g clip-path="url(#cdi)">
<polyline points="449.6,245.99 450.31,251.41 451.02,256.26 451.73,260.61 452.44,264.51 453.15,268.01 453.86,271.14 454.57,273.95 455.28,276.47 455.99,278.73 456.71,280.76 457.42,282.57 458.13,284.2 458.84,285.66 459.55,286.97 460.26,288.14 460.97,289.19 461.68,290.13 462.39,290.98 463.1,291.74 463.81,292.42 464.52,293.02 465.23,293.57 465.94,294.06 466.65,294.5 467.36,294.89 468.07,295.25 468.78,295.56 469.49,295.84 470.21,296.1 470.92,296.33 471.63,296.53 472.34,296.71 473.05,296.88 473.76,297.03 474.47,297.16 475.18,297.28 475.89,297.38 476.6,297.48 477.31,297.56 478.02,297.64 478.73,297.71 479.44,297.77 480.15,297.82 480.86,297.87 481.57,297.92 482.28,297.96 482.99,297.99 483.71,298.02 484.42,298.05 485.13,298.08 485.84,298.1 486.55,298.12 487.26,298.14 487.97,298.16 488.68,298.17 489.39,298.18 490.1,298.2 490.81,298.21 491.52,298.22 492.23,298.23 492.94,298.23 493.65,298.24 494.36,298.25 495.07,298.25 495.78,298.26 496.49,298.26 497.2,298.27 497.92,298.27 498.63,298.27 499.34,298.28 500.05,298.28 500.76,298.28 501.47,298.28 502.18,298.28 502.89,298.29 503.6,298.29 504.31,298.29 505.02,298.29 505.73,298.29 506.44,298.29 507.15,298.29 507.86,298.29 508.57,298.29 509.28,298.29 509.99,298.3 510.7,298.3 511.42,298.3 512.13,298.3 512.84,298.3 513.55,298.3 514.26,298.3 514.97,298.3 515.68,298.3 516.39,298.3 517.1,298.3 517.81,298.3 518.52,298.3 519.23,298.3 519.94,298.3 520.65,298.3 521.36,298.3 522.07,298.3 522.78,298.3 523.49,298.3 524.2,298.3 524.92,298.3 525.63,298.3 526.34,298.3 527.05,298.3 527.76,298.3 528.47,298.3 529.18,298.3 529.89,298.3 530.6,298.3 531.31,298.3 532.02,298.3 532.73,298.3 533.44,298.3 534.15,298.3" fill="none" stroke="#888" stroke-width="0.7" stroke-linejoin="round"/>
<polyline points="449.6,298.3 450.31,295.14 451.02,292.14 451.73,289.29 452.44,286.59 453.15,284.02 453.86,281.59 454.57,279.28 455.28,277.09 455.99,275.01 456.71,273.04 457.42,271.17 458.13,269.39 458.84,267.71 459.55,266.11 460.26,264.59 460.97,263.15 461.68,261.78 462.39,260.49 463.1,259.26 463.81,258.09 464.52,256.98 465.23,255.93 465.94,254.93 466.65,253.98 467.36,253.09 468.07,252.23 468.78,251.43 469.49,250.66 470.21,249.93 470.92,249.24 471.63,248.58 472.34,247.96 473.05,247.37 473.76,246.81 474.47,246.28 475.18,245.77 475.89,245.29 476.6,244.84 477.31,244.41 478.02,244 478.73,243.61 479.44,243.24 480.15,242.89 480.86,242.56 481.57,242.25 482.28,241.95 482.99,241.66 483.71,241.4 484.42,241.14 485.13,240.9 485.84,240.67 486.55,240.45 487.26,240.24 487.97,240.05 488.68,239.86 489.39,239.68 490.1,239.52 490.81,239.36 491.52,239.21 492.23,239.06 492.94,238.93 493.65,238.8 494.36,238.68 495.07,238.56 495.78,238.45 496.49,238.34 497.2,238.24 497.92,238.15 498.63,238.06 499.34,237.98 500.05,237.9 500.76,237.82 501.47,237.75 502.18,237.68 502.89,237.61 503.6,237.55 504.31,237.49 505.02,237.44 505.73,237.38 506.44,237.33 507.15,237.29 507.86,237.24 508.57,237.2 509.28,237.16 509.99,237.12 510.7,237.08 511.42,237.05 512.13,237.01 512.84,236.98 513.55,236.95 514.26,236.92 514.97,236.9 515.68,236.87 516.39,236.85 517.1,236.82 517.81,236.8 518.52,236.78 519.23,236.76 519.94,236.74 520.65,236.73 521.36,236.71 522.07,236.69 522.78,236.68 523.49,236.67 524.2,236.65 524.92,236.64 525.63,236.63 526.34,236.61 527.05,236.6 527.76,236.59 528.47,236.58 529.18,236.57 529.89,236.57 530.6,236.56 531.31,236.55 532.02,236.54 532.73,236.53 533.44,236.53 534.15,236.52" fill="none" stroke="#888" stroke-width="0.7" stroke-linejoin="round"/>
</g>
<line x1="449.2" y1="229.8" x2="449.2" y2="299.8" stroke="#888" stroke-width="0.6"/>
<line x1="449.2" y1="299.8" x2="537.2" y2="299.8" stroke="#888" stroke-width="0.6"/>
<circle cx="449.9" cy="297.9" r="1.25" fill="#000"/>
<circle cx="451.3" cy="291.4" r="1.25" fill="#000"/>
<circle cx="453.4" cy="287.3" r="1.25" fill="#000"/>
<circle cx="454.5" cy="277" r="1.25" fill="#000"/>
<circle cx="457.5" cy="270.4" r="1.25" fill="#000"/>
<circle cx="460" cy="266.5" r="1.25" fill="#000"/>
<circle cx="463.2" cy="259.8" r="1.25" fill="#000"/>
<circle cx="470.8" cy="249.3" r="1.25" fill="#000"/>
<circle cx="477" cy="243.8" r="1.25" fill="#000"/>
<circle cx="503.3" cy="238.1" r="1.25" fill="#000"/>
<circle cx="530.1" cy="236.5" r="1.25" fill="#000"/>
<circle cx="449.5" cy="246.1" r="1.05" fill="#fff" stroke="#999" stroke-width="0.45"/>
<circle cx="451.3" cy="259.4" r="1.05" fill="#fff" stroke="#999" stroke-width="0.45"/>
<circle cx="452.9" cy="264.4" r="1.05" fill="#fff" stroke="#999" stroke-width="0.45"/>
<circle cx="453.6" cy="268.5" r="1.05" fill="#fff" stroke="#999" stroke-width="0.45"/>
<circle cx="457" cy="280.7" r="1.05" fill="#fff" stroke="#999" stroke-width="0.45"/>
<circle cx="459.3" cy="290.3" r="1.05" fill="#fff" stroke="#999" stroke-width="0.45"/>
<circle cx="471.2" cy="295" r="1.05" fill="#fff" stroke="#999" stroke-width="0.45"/>
<circle cx="477" cy="296.5" r="1.05" fill="#fff" stroke="#999" stroke-width="0.45"/>
<circle cx="503.3" cy="298.2" r="1.05" fill="#fff" stroke="#999" stroke-width="0.45"/>
<circle cx="530.3" cy="298.4" r="1.05" fill="#fff" stroke="#999" stroke-width="0.45"/>
<circle cx="506.2" cy="251.0" r="1.3" fill="#ddd" stroke="#bbb" stroke-width="0.4"/>
<circle cx="506.2" cy="258.4" r="1.4" fill="#000"/>
<text x="512.2" y="253.1" font-size="4.6" fill="#555">&#916;Abs<tspan font-size="3" dy="1">421</tspan></text>
<text x="512.2" y="260.0" font-size="4.6" fill="#555">&#916;Abs<tspan font-size="3" dy="1">336</tspan></text>
</svg>
</body></html>
